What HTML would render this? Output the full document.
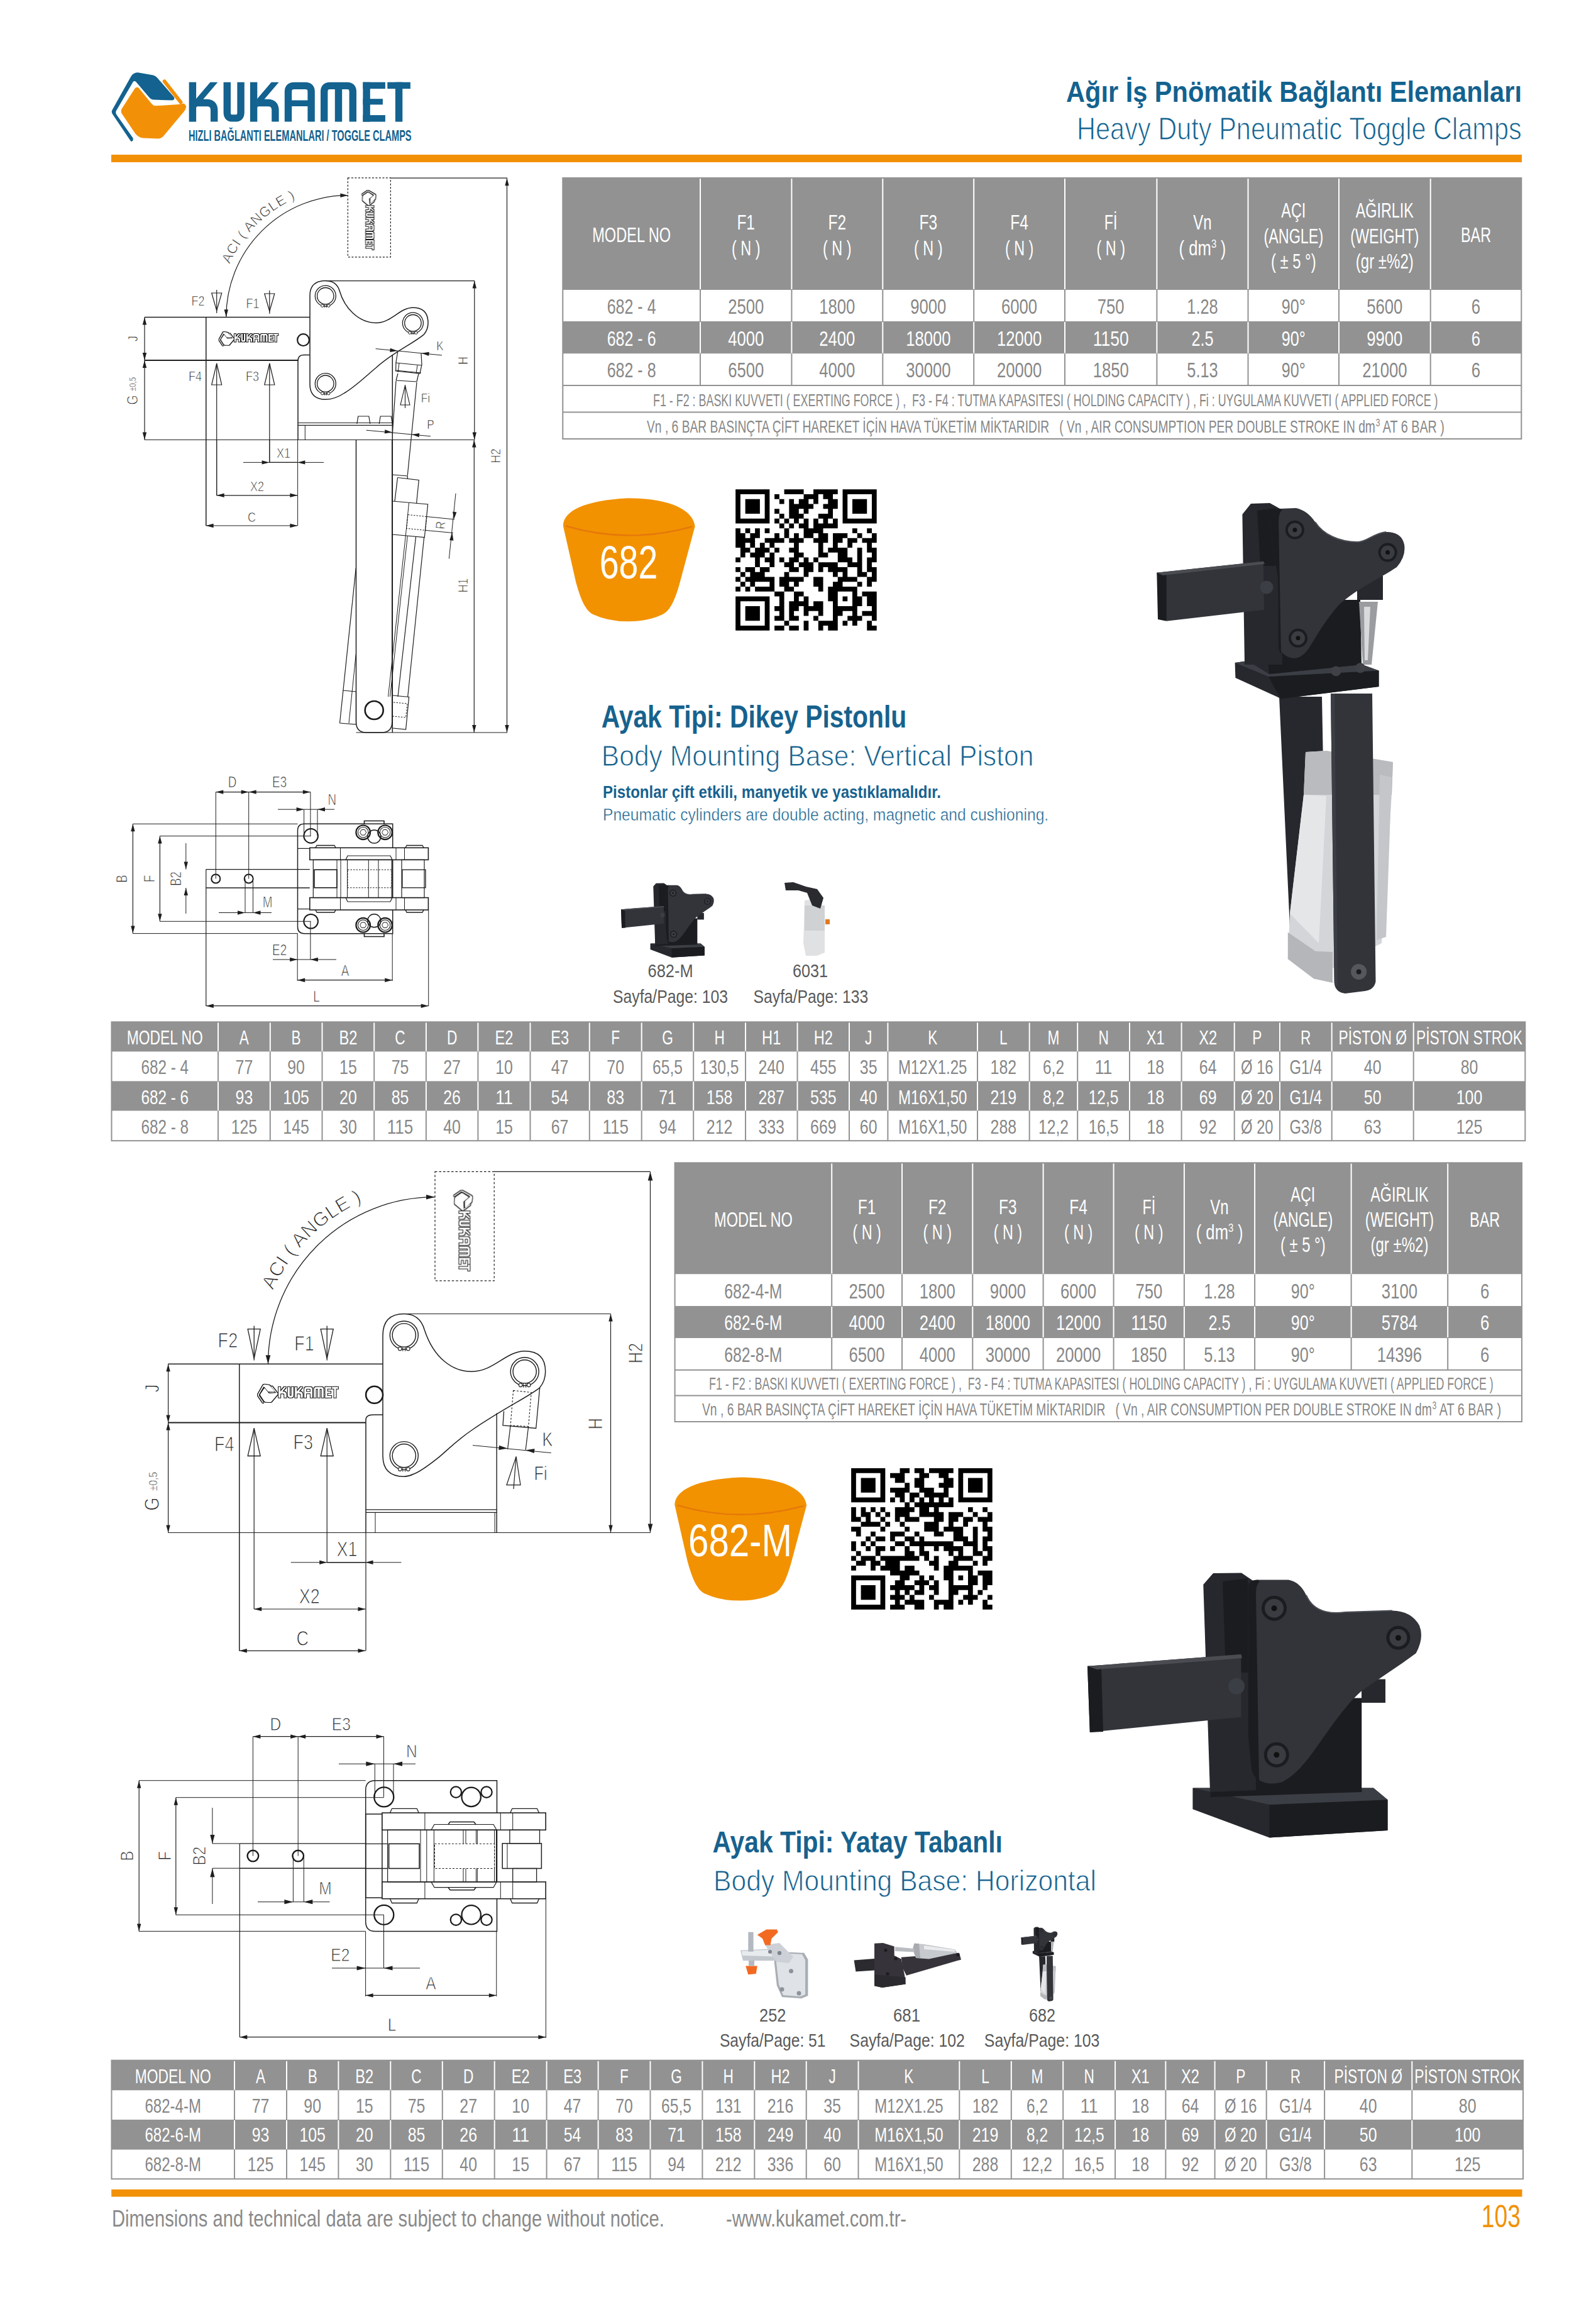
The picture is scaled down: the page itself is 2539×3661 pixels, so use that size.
<!DOCTYPE html>
<html><head><meta charset="utf-8"><title>KUKAMET 682</title>
<style>
html,body{margin:0;padding:0;background:#fff;}
body{width:2539px;height:3661px;overflow:hidden;font-family:"Liberation Sans",sans-serif;}
svg{display:block;}
</style></head>
<body>
<svg width="2539" height="3661" viewBox="0 0 2539 3661">
<rect x="0" y="0" width="2539" height="3661" fill="#ffffff"/>
<rect x="895.3" y="283.0" width="1525.0" height="178.0" fill="#929292" />
<rect x="895.3" y="461.0" width="1525.0" height="50.0" fill="#ffffff" />
<rect x="895.3" y="511.0" width="1525.0" height="51.5" fill="#929292" />
<rect x="895.3" y="562.5" width="1525.0" height="50.5" fill="#ffffff" />
<rect x="895.3" y="613.0" width="1525.0" height="42.5" fill="#ffffff" />
<rect x="895.3" y="655.5" width="1525.0" height="42.5" fill="#ffffff" />
<line x1="1114.0" y1="284.0" x2="1114.0" y2="460.0" stroke="#ffffff" stroke-width="2" />
<line x1="1259.4" y1="284.0" x2="1259.4" y2="460.0" stroke="#ffffff" stroke-width="2" />
<line x1="1404.3" y1="284.0" x2="1404.3" y2="460.0" stroke="#ffffff" stroke-width="2" />
<line x1="1549.2" y1="284.0" x2="1549.2" y2="460.0" stroke="#ffffff" stroke-width="2" />
<line x1="1694.0" y1="284.0" x2="1694.0" y2="460.0" stroke="#ffffff" stroke-width="2" />
<line x1="1840.4" y1="284.0" x2="1840.4" y2="460.0" stroke="#ffffff" stroke-width="2" />
<line x1="1985.5" y1="284.0" x2="1985.5" y2="460.0" stroke="#ffffff" stroke-width="2" />
<line x1="2130.0" y1="284.0" x2="2130.0" y2="460.0" stroke="#ffffff" stroke-width="2" />
<line x1="2275.7" y1="284.0" x2="2275.7" y2="460.0" stroke="#ffffff" stroke-width="2" />
<line x1="1114.0" y1="461.0" x2="1114.0" y2="511.0" stroke="#929292" stroke-width="2" />
<line x1="1259.4" y1="461.0" x2="1259.4" y2="511.0" stroke="#929292" stroke-width="2" />
<line x1="1404.3" y1="461.0" x2="1404.3" y2="511.0" stroke="#929292" stroke-width="2" />
<line x1="1549.2" y1="461.0" x2="1549.2" y2="511.0" stroke="#929292" stroke-width="2" />
<line x1="1694.0" y1="461.0" x2="1694.0" y2="511.0" stroke="#929292" stroke-width="2" />
<line x1="1840.4" y1="461.0" x2="1840.4" y2="511.0" stroke="#929292" stroke-width="2" />
<line x1="1985.5" y1="461.0" x2="1985.5" y2="511.0" stroke="#929292" stroke-width="2" />
<line x1="2130.0" y1="461.0" x2="2130.0" y2="511.0" stroke="#929292" stroke-width="2" />
<line x1="2275.7" y1="461.0" x2="2275.7" y2="511.0" stroke="#929292" stroke-width="2" />
<line x1="1114.0" y1="512.0" x2="1114.0" y2="561.5" stroke="#ffffff" stroke-width="2" />
<line x1="1259.4" y1="512.0" x2="1259.4" y2="561.5" stroke="#ffffff" stroke-width="2" />
<line x1="1404.3" y1="512.0" x2="1404.3" y2="561.5" stroke="#ffffff" stroke-width="2" />
<line x1="1549.2" y1="512.0" x2="1549.2" y2="561.5" stroke="#ffffff" stroke-width="2" />
<line x1="1694.0" y1="512.0" x2="1694.0" y2="561.5" stroke="#ffffff" stroke-width="2" />
<line x1="1840.4" y1="512.0" x2="1840.4" y2="561.5" stroke="#ffffff" stroke-width="2" />
<line x1="1985.5" y1="512.0" x2="1985.5" y2="561.5" stroke="#ffffff" stroke-width="2" />
<line x1="2130.0" y1="512.0" x2="2130.0" y2="561.5" stroke="#ffffff" stroke-width="2" />
<line x1="2275.7" y1="512.0" x2="2275.7" y2="561.5" stroke="#ffffff" stroke-width="2" />
<line x1="1114.0" y1="562.5" x2="1114.0" y2="613.0" stroke="#929292" stroke-width="2" />
<line x1="1259.4" y1="562.5" x2="1259.4" y2="613.0" stroke="#929292" stroke-width="2" />
<line x1="1404.3" y1="562.5" x2="1404.3" y2="613.0" stroke="#929292" stroke-width="2" />
<line x1="1549.2" y1="562.5" x2="1549.2" y2="613.0" stroke="#929292" stroke-width="2" />
<line x1="1694.0" y1="562.5" x2="1694.0" y2="613.0" stroke="#929292" stroke-width="2" />
<line x1="1840.4" y1="562.5" x2="1840.4" y2="613.0" stroke="#929292" stroke-width="2" />
<line x1="1985.5" y1="562.5" x2="1985.5" y2="613.0" stroke="#929292" stroke-width="2" />
<line x1="2130.0" y1="562.5" x2="2130.0" y2="613.0" stroke="#929292" stroke-width="2" />
<line x1="2275.7" y1="562.5" x2="2275.7" y2="613.0" stroke="#929292" stroke-width="2" />
<line x1="895.3" y1="613.0" x2="2420.3" y2="613.0" stroke="#929292" stroke-width="2" />
<line x1="895.3" y1="655.5" x2="2420.3" y2="655.5" stroke="#929292" stroke-width="2" />
<rect x="895.3" y="283.0" width="1525.0" height="415.0" fill="none" stroke="#929292" stroke-width="2"/>
<text style="white-space:pre" transform="translate(1004.6,385.0) scale(0.7250,1)" font-family="Liberation Sans" font-size="32.5" font-weight="normal" fill="#ffffff" text-anchor="middle" >MODEL NO</text>
<text style="white-space:pre" transform="translate(1186.7,365.2) scale(0.7534,1)" font-family="Liberation Sans" font-size="32.5" font-weight="normal" fill="#ffffff" text-anchor="middle" >F1</text>
<text style="white-space:pre" transform="translate(1186.7,405.7) scale(0.7200,1)" font-family="Liberation Sans" font-size="32.5" font-weight="normal" fill="#ffffff" text-anchor="middle" >( N )</text>
<text style="white-space:pre" transform="translate(1331.8,365.2) scale(0.7534,1)" font-family="Liberation Sans" font-size="32.5" font-weight="normal" fill="#ffffff" text-anchor="middle" >F2</text>
<text style="white-space:pre" transform="translate(1331.8,405.7) scale(0.7200,1)" font-family="Liberation Sans" font-size="32.5" font-weight="normal" fill="#ffffff" text-anchor="middle" >( N )</text>
<text style="white-space:pre" transform="translate(1476.8,365.2) scale(0.7534,1)" font-family="Liberation Sans" font-size="32.5" font-weight="normal" fill="#ffffff" text-anchor="middle" >F3</text>
<text style="white-space:pre" transform="translate(1476.8,405.7) scale(0.7200,1)" font-family="Liberation Sans" font-size="32.5" font-weight="normal" fill="#ffffff" text-anchor="middle" >( N )</text>
<text style="white-space:pre" transform="translate(1621.6,365.2) scale(0.7534,1)" font-family="Liberation Sans" font-size="32.5" font-weight="normal" fill="#ffffff" text-anchor="middle" >F4</text>
<text style="white-space:pre" transform="translate(1621.6,405.7) scale(0.7200,1)" font-family="Liberation Sans" font-size="32.5" font-weight="normal" fill="#ffffff" text-anchor="middle" >( N )</text>
<text style="white-space:pre" transform="translate(1767.2,365.2) scale(0.7200,1)" font-family="Liberation Sans" font-size="32.5" font-weight="normal" fill="#ffffff" text-anchor="middle" >Fİ</text>
<text style="white-space:pre" transform="translate(1767.2,405.7) scale(0.7200,1)" font-family="Liberation Sans" font-size="32.5" font-weight="normal" fill="#ffffff" text-anchor="middle" >( N )</text>
<text style="white-space:pre" transform="translate(1913.0,365.2) scale(0.7382,1)" font-family="Liberation Sans" font-size="32.5" font-weight="normal" fill="#ffffff" text-anchor="middle" >Vn</text>
<text style="white-space:pre" transform="translate(1875.6,405.7) scale(0.7895,1)" font-family="Liberation Sans" font-size="32.5" font-weight="normal" fill="#ffffff" text-anchor="start" >( dm</text>
<text style="white-space:pre" transform="translate(1926.9,393.7) scale(0.8341,1)" font-family="Liberation Sans" font-size="17.875" font-weight="normal" fill="#ffffff" text-anchor="start" >3</text>
<text style="white-space:pre" transform="translate(1935.2,405.7) scale(0.7602,1)" font-family="Liberation Sans" font-size="32.5" font-weight="normal" fill="#ffffff" text-anchor="start" > )</text>
<text style="white-space:pre" transform="translate(2057.8,346.2) scale(0.7200,1)" font-family="Liberation Sans" font-size="32.5" font-weight="normal" fill="#ffffff" text-anchor="middle" >AÇI</text>
<text style="white-space:pre" transform="translate(2057.8,386.7) scale(0.7200,1)" font-family="Liberation Sans" font-size="32.5" font-weight="normal" fill="#ffffff" text-anchor="middle" >(ANGLE)</text>
<text style="white-space:pre" transform="translate(2057.8,427.2) scale(0.7330,1)" font-family="Liberation Sans" font-size="32.5" font-weight="normal" fill="#ffffff" text-anchor="middle" >( ± 5 °)</text>
<text style="white-space:pre" transform="translate(2202.8,346.2) scale(0.7200,1)" font-family="Liberation Sans" font-size="32.5" font-weight="normal" fill="#ffffff" text-anchor="middle" >AĞIRLIK</text>
<text style="white-space:pre" transform="translate(2202.8,386.7) scale(0.7200,1)" font-family="Liberation Sans" font-size="32.5" font-weight="normal" fill="#ffffff" text-anchor="middle" >(WEIGHT)</text>
<text style="white-space:pre" transform="translate(2202.8,427.2) scale(0.7395,1)" font-family="Liberation Sans" font-size="32.5" font-weight="normal" fill="#ffffff" text-anchor="middle" >(gr ±%2)</text>
<text style="white-space:pre" transform="translate(2348.0,385.0) scale(0.7200,1)" font-family="Liberation Sans" font-size="32.5" font-weight="normal" fill="#ffffff" text-anchor="middle" >BAR</text>
<text style="white-space:pre" transform="translate(1004.6,499.2) scale(0.7700,1)" font-family="Liberation Sans" font-size="32.5" font-weight="normal" fill="#878787" text-anchor="middle" >682 - 4</text>
<text style="white-space:pre" transform="translate(1186.7,499.2) scale(0.7900,1)" font-family="Liberation Sans" font-size="32.5" font-weight="normal" fill="#878787" text-anchor="middle" >2500</text>
<text style="white-space:pre" transform="translate(1331.8,499.2) scale(0.7900,1)" font-family="Liberation Sans" font-size="32.5" font-weight="normal" fill="#878787" text-anchor="middle" >1800</text>
<text style="white-space:pre" transform="translate(1476.8,499.2) scale(0.7900,1)" font-family="Liberation Sans" font-size="32.5" font-weight="normal" fill="#878787" text-anchor="middle" >9000</text>
<text style="white-space:pre" transform="translate(1621.6,499.2) scale(0.7900,1)" font-family="Liberation Sans" font-size="32.5" font-weight="normal" fill="#878787" text-anchor="middle" >6000</text>
<text style="white-space:pre" transform="translate(1767.2,499.2) scale(0.7900,1)" font-family="Liberation Sans" font-size="32.5" font-weight="normal" fill="#878787" text-anchor="middle" >750</text>
<text style="white-space:pre" transform="translate(1913.0,499.2) scale(0.7800,1)" font-family="Liberation Sans" font-size="32.5" font-weight="normal" fill="#878787" text-anchor="middle" >1.28</text>
<text style="white-space:pre" transform="translate(2057.8,499.2) scale(0.7715,1)" font-family="Liberation Sans" font-size="32.5" font-weight="normal" fill="#878787" text-anchor="middle" >90°</text>
<text style="white-space:pre" transform="translate(2202.8,499.2) scale(0.7900,1)" font-family="Liberation Sans" font-size="32.5" font-weight="normal" fill="#878787" text-anchor="middle" >5600</text>
<text style="white-space:pre" transform="translate(2348.0,499.2) scale(0.7900,1)" font-family="Liberation Sans" font-size="32.5" font-weight="normal" fill="#878787" text-anchor="middle" >6</text>
<text style="white-space:pre" transform="translate(1004.6,549.6) scale(0.7700,1)" font-family="Liberation Sans" font-size="32.5" font-weight="normal" fill="#ffffff" text-anchor="middle" >682 - 6</text>
<text style="white-space:pre" transform="translate(1186.7,549.6) scale(0.7900,1)" font-family="Liberation Sans" font-size="32.5" font-weight="normal" fill="#ffffff" text-anchor="middle" >4000</text>
<text style="white-space:pre" transform="translate(1331.8,549.6) scale(0.7900,1)" font-family="Liberation Sans" font-size="32.5" font-weight="normal" fill="#ffffff" text-anchor="middle" >2400</text>
<text style="white-space:pre" transform="translate(1476.8,549.6) scale(0.7900,1)" font-family="Liberation Sans" font-size="32.5" font-weight="normal" fill="#ffffff" text-anchor="middle" >18000</text>
<text style="white-space:pre" transform="translate(1621.6,549.6) scale(0.7900,1)" font-family="Liberation Sans" font-size="32.5" font-weight="normal" fill="#ffffff" text-anchor="middle" >12000</text>
<text style="white-space:pre" transform="translate(1767.2,549.6) scale(0.8173,1)" font-family="Liberation Sans" font-size="32.5" font-weight="normal" fill="#ffffff" text-anchor="middle" >1150</text>
<text style="white-space:pre" transform="translate(1913.0,549.6) scale(0.7760,1)" font-family="Liberation Sans" font-size="32.5" font-weight="normal" fill="#ffffff" text-anchor="middle" >2.5</text>
<text style="white-space:pre" transform="translate(2057.8,549.6) scale(0.7715,1)" font-family="Liberation Sans" font-size="32.5" font-weight="normal" fill="#ffffff" text-anchor="middle" >90°</text>
<text style="white-space:pre" transform="translate(2202.8,549.6) scale(0.7900,1)" font-family="Liberation Sans" font-size="32.5" font-weight="normal" fill="#ffffff" text-anchor="middle" >9900</text>
<text style="white-space:pre" transform="translate(2348.0,549.6) scale(0.7900,1)" font-family="Liberation Sans" font-size="32.5" font-weight="normal" fill="#ffffff" text-anchor="middle" >6</text>
<text style="white-space:pre" transform="translate(1004.6,600.4) scale(0.7700,1)" font-family="Liberation Sans" font-size="32.5" font-weight="normal" fill="#878787" text-anchor="middle" >682 - 8</text>
<text style="white-space:pre" transform="translate(1186.7,600.4) scale(0.7900,1)" font-family="Liberation Sans" font-size="32.5" font-weight="normal" fill="#878787" text-anchor="middle" >6500</text>
<text style="white-space:pre" transform="translate(1331.8,600.4) scale(0.7900,1)" font-family="Liberation Sans" font-size="32.5" font-weight="normal" fill="#878787" text-anchor="middle" >4000</text>
<text style="white-space:pre" transform="translate(1476.8,600.4) scale(0.7900,1)" font-family="Liberation Sans" font-size="32.5" font-weight="normal" fill="#878787" text-anchor="middle" >30000</text>
<text style="white-space:pre" transform="translate(1621.6,600.4) scale(0.7900,1)" font-family="Liberation Sans" font-size="32.5" font-weight="normal" fill="#878787" text-anchor="middle" >20000</text>
<text style="white-space:pre" transform="translate(1767.2,600.4) scale(0.7900,1)" font-family="Liberation Sans" font-size="32.5" font-weight="normal" fill="#878787" text-anchor="middle" >1850</text>
<text style="white-space:pre" transform="translate(1913.0,600.4) scale(0.7800,1)" font-family="Liberation Sans" font-size="32.5" font-weight="normal" fill="#878787" text-anchor="middle" >5.13</text>
<text style="white-space:pre" transform="translate(2057.8,600.4) scale(0.7715,1)" font-family="Liberation Sans" font-size="32.5" font-weight="normal" fill="#878787" text-anchor="middle" >90°</text>
<text style="white-space:pre" transform="translate(2202.8,600.4) scale(0.7900,1)" font-family="Liberation Sans" font-size="32.5" font-weight="normal" fill="#878787" text-anchor="middle" >21000</text>
<text style="white-space:pre" transform="translate(2348.0,600.4) scale(0.7900,1)" font-family="Liberation Sans" font-size="32.5" font-weight="normal" fill="#878787" text-anchor="middle" >6</text>
<text style="white-space:pre" transform="translate(1039.0,645.5) scale(0.6482,1)" font-family="Liberation Sans" font-size="27.6" font-weight="normal" fill="#878787" text-anchor="start" >F1 - F2 : BASKI KUVVETI ( EXERTING FORCE ) ,  F3 - F4 : TUTMA KAPASITESI ( HOLDING CAPACITY ) , Fi : UYGULAMA KUVVETI ( APPLIED FORCE )</text>
<text style="white-space:pre" transform="translate(1029.0,688.0) scale(0.6978,1)" font-family="Liberation Sans" font-size="27.6" font-weight="normal" fill="#878787" text-anchor="start" >Vn , 6 BAR BASINÇTA ÇİFT HAREKET İÇİN HAVA TÜKETİM MİKTARIDIR   ( Vn , AIR CONSUMPTION PER DOUBLE STROKE IN dm</text>
<text style="white-space:pre" transform="translate(2188.7,678.0) scale(0.7567,1)" font-family="Liberation Sans" font-size="16" font-weight="normal" fill="#878787" text-anchor="start" >3</text>
<text style="white-space:pre" transform="translate(2195.4,688.0) scale(0.7165,1)" font-family="Liberation Sans" font-size="27.6" font-weight="normal" fill="#878787" text-anchor="start" > AT 6 BAR )</text>
<rect x="1073.6" y="1849.3" width="1347.4" height="177.2" fill="#929292" />
<rect x="1073.6" y="2026.5" width="1347.4" height="50.5" fill="#ffffff" />
<rect x="1073.6" y="2077.0" width="1347.4" height="51.0" fill="#929292" />
<rect x="1073.6" y="2128.0" width="1347.4" height="50.7" fill="#ffffff" />
<rect x="1073.6" y="2178.7" width="1347.4" height="40.8" fill="#ffffff" />
<rect x="1073.6" y="2219.5" width="1347.4" height="41.5" fill="#ffffff" />
<line x1="1323.2" y1="1850.3" x2="1323.2" y2="2025.5" stroke="#ffffff" stroke-width="2" />
<line x1="1435.0" y1="1850.3" x2="1435.0" y2="2025.5" stroke="#ffffff" stroke-width="2" />
<line x1="1547.3" y1="1850.3" x2="1547.3" y2="2025.5" stroke="#ffffff" stroke-width="2" />
<line x1="1659.6" y1="1850.3" x2="1659.6" y2="2025.5" stroke="#ffffff" stroke-width="2" />
<line x1="1771.6" y1="1850.3" x2="1771.6" y2="2025.5" stroke="#ffffff" stroke-width="2" />
<line x1="1883.9" y1="1850.3" x2="1883.9" y2="2025.5" stroke="#ffffff" stroke-width="2" />
<line x1="1996.1" y1="1850.3" x2="1996.1" y2="2025.5" stroke="#ffffff" stroke-width="2" />
<line x1="2149.6" y1="1850.3" x2="2149.6" y2="2025.5" stroke="#ffffff" stroke-width="2" />
<line x1="2303.2" y1="1850.3" x2="2303.2" y2="2025.5" stroke="#ffffff" stroke-width="2" />
<line x1="1323.2" y1="2026.5" x2="1323.2" y2="2077.0" stroke="#929292" stroke-width="2" />
<line x1="1435.0" y1="2026.5" x2="1435.0" y2="2077.0" stroke="#929292" stroke-width="2" />
<line x1="1547.3" y1="2026.5" x2="1547.3" y2="2077.0" stroke="#929292" stroke-width="2" />
<line x1="1659.6" y1="2026.5" x2="1659.6" y2="2077.0" stroke="#929292" stroke-width="2" />
<line x1="1771.6" y1="2026.5" x2="1771.6" y2="2077.0" stroke="#929292" stroke-width="2" />
<line x1="1883.9" y1="2026.5" x2="1883.9" y2="2077.0" stroke="#929292" stroke-width="2" />
<line x1="1996.1" y1="2026.5" x2="1996.1" y2="2077.0" stroke="#929292" stroke-width="2" />
<line x1="2149.6" y1="2026.5" x2="2149.6" y2="2077.0" stroke="#929292" stroke-width="2" />
<line x1="2303.2" y1="2026.5" x2="2303.2" y2="2077.0" stroke="#929292" stroke-width="2" />
<line x1="1323.2" y1="2078.0" x2="1323.2" y2="2127.0" stroke="#ffffff" stroke-width="2" />
<line x1="1435.0" y1="2078.0" x2="1435.0" y2="2127.0" stroke="#ffffff" stroke-width="2" />
<line x1="1547.3" y1="2078.0" x2="1547.3" y2="2127.0" stroke="#ffffff" stroke-width="2" />
<line x1="1659.6" y1="2078.0" x2="1659.6" y2="2127.0" stroke="#ffffff" stroke-width="2" />
<line x1="1771.6" y1="2078.0" x2="1771.6" y2="2127.0" stroke="#ffffff" stroke-width="2" />
<line x1="1883.9" y1="2078.0" x2="1883.9" y2="2127.0" stroke="#ffffff" stroke-width="2" />
<line x1="1996.1" y1="2078.0" x2="1996.1" y2="2127.0" stroke="#ffffff" stroke-width="2" />
<line x1="2149.6" y1="2078.0" x2="2149.6" y2="2127.0" stroke="#ffffff" stroke-width="2" />
<line x1="2303.2" y1="2078.0" x2="2303.2" y2="2127.0" stroke="#ffffff" stroke-width="2" />
<line x1="1323.2" y1="2128.0" x2="1323.2" y2="2178.7" stroke="#929292" stroke-width="2" />
<line x1="1435.0" y1="2128.0" x2="1435.0" y2="2178.7" stroke="#929292" stroke-width="2" />
<line x1="1547.3" y1="2128.0" x2="1547.3" y2="2178.7" stroke="#929292" stroke-width="2" />
<line x1="1659.6" y1="2128.0" x2="1659.6" y2="2178.7" stroke="#929292" stroke-width="2" />
<line x1="1771.6" y1="2128.0" x2="1771.6" y2="2178.7" stroke="#929292" stroke-width="2" />
<line x1="1883.9" y1="2128.0" x2="1883.9" y2="2178.7" stroke="#929292" stroke-width="2" />
<line x1="1996.1" y1="2128.0" x2="1996.1" y2="2178.7" stroke="#929292" stroke-width="2" />
<line x1="2149.6" y1="2128.0" x2="2149.6" y2="2178.7" stroke="#929292" stroke-width="2" />
<line x1="2303.2" y1="2128.0" x2="2303.2" y2="2178.7" stroke="#929292" stroke-width="2" />
<line x1="1073.6" y1="2178.7" x2="2421.0" y2="2178.7" stroke="#929292" stroke-width="2" />
<line x1="1073.6" y1="2219.5" x2="2421.0" y2="2219.5" stroke="#929292" stroke-width="2" />
<rect x="1073.6" y="1849.3" width="1347.4" height="411.7" fill="none" stroke="#929292" stroke-width="2"/>
<text style="white-space:pre" transform="translate(1198.4,1950.6) scale(0.7250,1)" font-family="Liberation Sans" font-size="32.5" font-weight="normal" fill="#ffffff" text-anchor="middle" >MODEL NO</text>
<text style="white-space:pre" transform="translate(1379.1,1931.0) scale(0.7534,1)" font-family="Liberation Sans" font-size="32.5" font-weight="normal" fill="#ffffff" text-anchor="middle" >F1</text>
<text style="white-space:pre" transform="translate(1379.1,1971.0) scale(0.7200,1)" font-family="Liberation Sans" font-size="32.5" font-weight="normal" fill="#ffffff" text-anchor="middle" >( N )</text>
<text style="white-space:pre" transform="translate(1491.2,1931.0) scale(0.7534,1)" font-family="Liberation Sans" font-size="32.5" font-weight="normal" fill="#ffffff" text-anchor="middle" >F2</text>
<text style="white-space:pre" transform="translate(1491.2,1971.0) scale(0.7200,1)" font-family="Liberation Sans" font-size="32.5" font-weight="normal" fill="#ffffff" text-anchor="middle" >( N )</text>
<text style="white-space:pre" transform="translate(1603.4,1931.0) scale(0.7534,1)" font-family="Liberation Sans" font-size="32.5" font-weight="normal" fill="#ffffff" text-anchor="middle" >F3</text>
<text style="white-space:pre" transform="translate(1603.4,1971.0) scale(0.7200,1)" font-family="Liberation Sans" font-size="32.5" font-weight="normal" fill="#ffffff" text-anchor="middle" >( N )</text>
<text style="white-space:pre" transform="translate(1715.6,1931.0) scale(0.7534,1)" font-family="Liberation Sans" font-size="32.5" font-weight="normal" fill="#ffffff" text-anchor="middle" >F4</text>
<text style="white-space:pre" transform="translate(1715.6,1971.0) scale(0.7200,1)" font-family="Liberation Sans" font-size="32.5" font-weight="normal" fill="#ffffff" text-anchor="middle" >( N )</text>
<text style="white-space:pre" transform="translate(1827.8,1931.0) scale(0.7200,1)" font-family="Liberation Sans" font-size="32.5" font-weight="normal" fill="#ffffff" text-anchor="middle" >Fİ</text>
<text style="white-space:pre" transform="translate(1827.8,1971.0) scale(0.7200,1)" font-family="Liberation Sans" font-size="32.5" font-weight="normal" fill="#ffffff" text-anchor="middle" >( N )</text>
<text style="white-space:pre" transform="translate(1940.0,1931.0) scale(0.7382,1)" font-family="Liberation Sans" font-size="32.5" font-weight="normal" fill="#ffffff" text-anchor="middle" >Vn</text>
<text style="white-space:pre" transform="translate(1902.7,1971.0) scale(0.7895,1)" font-family="Liberation Sans" font-size="32.5" font-weight="normal" fill="#ffffff" text-anchor="start" >( dm</text>
<text style="white-space:pre" transform="translate(1954.0,1959.0) scale(0.8341,1)" font-family="Liberation Sans" font-size="17.875" font-weight="normal" fill="#ffffff" text-anchor="start" >3</text>
<text style="white-space:pre" transform="translate(1962.3,1971.0) scale(0.7602,1)" font-family="Liberation Sans" font-size="32.5" font-weight="normal" fill="#ffffff" text-anchor="start" > )</text>
<text style="white-space:pre" transform="translate(2072.8,1911.0) scale(0.7200,1)" font-family="Liberation Sans" font-size="32.5" font-weight="normal" fill="#ffffff" text-anchor="middle" >AÇI</text>
<text style="white-space:pre" transform="translate(2072.8,1951.0) scale(0.7200,1)" font-family="Liberation Sans" font-size="32.5" font-weight="normal" fill="#ffffff" text-anchor="middle" >(ANGLE)</text>
<text style="white-space:pre" transform="translate(2072.8,1991.0) scale(0.7330,1)" font-family="Liberation Sans" font-size="32.5" font-weight="normal" fill="#ffffff" text-anchor="middle" >( ± 5 °)</text>
<text style="white-space:pre" transform="translate(2226.4,1911.0) scale(0.7200,1)" font-family="Liberation Sans" font-size="32.5" font-weight="normal" fill="#ffffff" text-anchor="middle" >AĞIRLIK</text>
<text style="white-space:pre" transform="translate(2226.4,1951.0) scale(0.7200,1)" font-family="Liberation Sans" font-size="32.5" font-weight="normal" fill="#ffffff" text-anchor="middle" >(WEIGHT)</text>
<text style="white-space:pre" transform="translate(2226.4,1991.0) scale(0.7395,1)" font-family="Liberation Sans" font-size="32.5" font-weight="normal" fill="#ffffff" text-anchor="middle" >(gr ±%2)</text>
<text style="white-space:pre" transform="translate(2362.1,1950.6) scale(0.7200,1)" font-family="Liberation Sans" font-size="32.5" font-weight="normal" fill="#ffffff" text-anchor="middle" >BAR</text>
<text style="white-space:pre" transform="translate(1198.4,2064.6) scale(0.7618,1)" font-family="Liberation Sans" font-size="32.5" font-weight="normal" fill="#878787" text-anchor="middle" >682-4-M</text>
<text style="white-space:pre" transform="translate(1379.1,2064.6) scale(0.7900,1)" font-family="Liberation Sans" font-size="32.5" font-weight="normal" fill="#878787" text-anchor="middle" >2500</text>
<text style="white-space:pre" transform="translate(1491.2,2064.6) scale(0.7900,1)" font-family="Liberation Sans" font-size="32.5" font-weight="normal" fill="#878787" text-anchor="middle" >1800</text>
<text style="white-space:pre" transform="translate(1603.4,2064.6) scale(0.7900,1)" font-family="Liberation Sans" font-size="32.5" font-weight="normal" fill="#878787" text-anchor="middle" >9000</text>
<text style="white-space:pre" transform="translate(1715.6,2064.6) scale(0.7900,1)" font-family="Liberation Sans" font-size="32.5" font-weight="normal" fill="#878787" text-anchor="middle" >6000</text>
<text style="white-space:pre" transform="translate(1827.8,2064.6) scale(0.7900,1)" font-family="Liberation Sans" font-size="32.5" font-weight="normal" fill="#878787" text-anchor="middle" >750</text>
<text style="white-space:pre" transform="translate(1940.0,2064.6) scale(0.7800,1)" font-family="Liberation Sans" font-size="32.5" font-weight="normal" fill="#878787" text-anchor="middle" >1.28</text>
<text style="white-space:pre" transform="translate(2072.8,2064.6) scale(0.7715,1)" font-family="Liberation Sans" font-size="32.5" font-weight="normal" fill="#878787" text-anchor="middle" >90°</text>
<text style="white-space:pre" transform="translate(2226.4,2064.6) scale(0.7900,1)" font-family="Liberation Sans" font-size="32.5" font-weight="normal" fill="#878787" text-anchor="middle" >3100</text>
<text style="white-space:pre" transform="translate(2362.1,2064.6) scale(0.7900,1)" font-family="Liberation Sans" font-size="32.5" font-weight="normal" fill="#878787" text-anchor="middle" >6</text>
<text style="white-space:pre" transform="translate(1198.4,2115.0) scale(0.7618,1)" font-family="Liberation Sans" font-size="32.5" font-weight="normal" fill="#ffffff" text-anchor="middle" >682-6-M</text>
<text style="white-space:pre" transform="translate(1379.1,2115.0) scale(0.7900,1)" font-family="Liberation Sans" font-size="32.5" font-weight="normal" fill="#ffffff" text-anchor="middle" >4000</text>
<text style="white-space:pre" transform="translate(1491.2,2115.0) scale(0.7900,1)" font-family="Liberation Sans" font-size="32.5" font-weight="normal" fill="#ffffff" text-anchor="middle" >2400</text>
<text style="white-space:pre" transform="translate(1603.4,2115.0) scale(0.7900,1)" font-family="Liberation Sans" font-size="32.5" font-weight="normal" fill="#ffffff" text-anchor="middle" >18000</text>
<text style="white-space:pre" transform="translate(1715.6,2115.0) scale(0.7900,1)" font-family="Liberation Sans" font-size="32.5" font-weight="normal" fill="#ffffff" text-anchor="middle" >12000</text>
<text style="white-space:pre" transform="translate(1827.8,2115.0) scale(0.8173,1)" font-family="Liberation Sans" font-size="32.5" font-weight="normal" fill="#ffffff" text-anchor="middle" >1150</text>
<text style="white-space:pre" transform="translate(1940.0,2115.0) scale(0.7760,1)" font-family="Liberation Sans" font-size="32.5" font-weight="normal" fill="#ffffff" text-anchor="middle" >2.5</text>
<text style="white-space:pre" transform="translate(2072.8,2115.0) scale(0.7715,1)" font-family="Liberation Sans" font-size="32.5" font-weight="normal" fill="#ffffff" text-anchor="middle" >90°</text>
<text style="white-space:pre" transform="translate(2226.4,2115.0) scale(0.7900,1)" font-family="Liberation Sans" font-size="32.5" font-weight="normal" fill="#ffffff" text-anchor="middle" >5784</text>
<text style="white-space:pre" transform="translate(2362.1,2115.0) scale(0.7900,1)" font-family="Liberation Sans" font-size="32.5" font-weight="normal" fill="#ffffff" text-anchor="middle" >6</text>
<text style="white-space:pre" transform="translate(1198.4,2165.5) scale(0.7618,1)" font-family="Liberation Sans" font-size="32.5" font-weight="normal" fill="#878787" text-anchor="middle" >682-8-M</text>
<text style="white-space:pre" transform="translate(1379.1,2165.5) scale(0.7900,1)" font-family="Liberation Sans" font-size="32.5" font-weight="normal" fill="#878787" text-anchor="middle" >6500</text>
<text style="white-space:pre" transform="translate(1491.2,2165.5) scale(0.7900,1)" font-family="Liberation Sans" font-size="32.5" font-weight="normal" fill="#878787" text-anchor="middle" >4000</text>
<text style="white-space:pre" transform="translate(1603.4,2165.5) scale(0.7900,1)" font-family="Liberation Sans" font-size="32.5" font-weight="normal" fill="#878787" text-anchor="middle" >30000</text>
<text style="white-space:pre" transform="translate(1715.6,2165.5) scale(0.7900,1)" font-family="Liberation Sans" font-size="32.5" font-weight="normal" fill="#878787" text-anchor="middle" >20000</text>
<text style="white-space:pre" transform="translate(1827.8,2165.5) scale(0.7900,1)" font-family="Liberation Sans" font-size="32.5" font-weight="normal" fill="#878787" text-anchor="middle" >1850</text>
<text style="white-space:pre" transform="translate(1940.0,2165.5) scale(0.7800,1)" font-family="Liberation Sans" font-size="32.5" font-weight="normal" fill="#878787" text-anchor="middle" >5.13</text>
<text style="white-space:pre" transform="translate(2072.8,2165.5) scale(0.7715,1)" font-family="Liberation Sans" font-size="32.5" font-weight="normal" fill="#878787" text-anchor="middle" >90°</text>
<text style="white-space:pre" transform="translate(2226.4,2165.5) scale(0.7900,1)" font-family="Liberation Sans" font-size="32.5" font-weight="normal" fill="#878787" text-anchor="middle" >14396</text>
<text style="white-space:pre" transform="translate(2362.1,2165.5) scale(0.7900,1)" font-family="Liberation Sans" font-size="32.5" font-weight="normal" fill="#878787" text-anchor="middle" >6</text>
<text style="white-space:pre" transform="translate(1128.0,2209.8) scale(0.6477,1)" font-family="Liberation Sans" font-size="27.6" font-weight="normal" fill="#878787" text-anchor="start" >F1 - F2 : BASKI KUVVETI ( EXERTING FORCE ) ,  F3 - F4 : TUTMA KAPASITESI ( HOLDING CAPACITY ) , Fi : UYGULAMA KUVVETI ( APPLIED FORCE )</text>
<text style="white-space:pre" transform="translate(1117.0,2251.0) scale(0.6989,1)" font-family="Liberation Sans" font-size="27.6" font-weight="normal" fill="#878787" text-anchor="start" >Vn , 6 BAR BASINÇTA ÇİFT HAREKET İÇİN HAVA TÜKETİM MİKTARIDIR   ( Vn , AIR CONSUMPTION PER DOUBLE STROKE IN dm</text>
<text style="white-space:pre" transform="translate(2278.5,2241.0) scale(0.7579,1)" font-family="Liberation Sans" font-size="16" font-weight="normal" fill="#878787" text-anchor="start" >3</text>
<text style="white-space:pre" transform="translate(2285.3,2251.0) scale(0.7176,1)" font-family="Liberation Sans" font-size="27.6" font-weight="normal" fill="#878787" text-anchor="start" > AT 6 BAR )</text>
<rect x="177.5" y="1625.3" width="2248.8" height="47.3" fill="#929292" />
<rect x="177.5" y="1672.6" width="2248.8" height="46.8" fill="#ffffff" />
<rect x="177.5" y="1719.4" width="2248.8" height="47.3" fill="#929292" />
<rect x="177.5" y="1766.7" width="2248.8" height="47.5" fill="#ffffff" />
<line x1="347.0" y1="1626.3" x2="347.0" y2="1671.6" stroke="#ffffff" stroke-width="2" />
<line x1="429.8" y1="1626.3" x2="429.8" y2="1671.6" stroke="#ffffff" stroke-width="2" />
<line x1="512.5" y1="1626.3" x2="512.5" y2="1671.6" stroke="#ffffff" stroke-width="2" />
<line x1="595.2" y1="1626.3" x2="595.2" y2="1671.6" stroke="#ffffff" stroke-width="2" />
<line x1="677.9" y1="1626.3" x2="677.9" y2="1671.6" stroke="#ffffff" stroke-width="2" />
<line x1="760.4" y1="1626.3" x2="760.4" y2="1671.6" stroke="#ffffff" stroke-width="2" />
<line x1="843.5" y1="1626.3" x2="843.5" y2="1671.6" stroke="#ffffff" stroke-width="2" />
<line x1="937.8" y1="1626.3" x2="937.8" y2="1671.6" stroke="#ffffff" stroke-width="2" />
<line x1="1020.7" y1="1626.3" x2="1020.7" y2="1671.6" stroke="#ffffff" stroke-width="2" />
<line x1="1103.2" y1="1626.3" x2="1103.2" y2="1671.6" stroke="#ffffff" stroke-width="2" />
<line x1="1186.0" y1="1626.3" x2="1186.0" y2="1671.6" stroke="#ffffff" stroke-width="2" />
<line x1="1268.5" y1="1626.3" x2="1268.5" y2="1671.6" stroke="#ffffff" stroke-width="2" />
<line x1="1351.0" y1="1626.3" x2="1351.0" y2="1671.6" stroke="#ffffff" stroke-width="2" />
<line x1="1412.4" y1="1626.3" x2="1412.4" y2="1671.6" stroke="#ffffff" stroke-width="2" />
<line x1="1555.0" y1="1626.3" x2="1555.0" y2="1671.6" stroke="#ffffff" stroke-width="2" />
<line x1="1637.7" y1="1626.3" x2="1637.7" y2="1671.6" stroke="#ffffff" stroke-width="2" />
<line x1="1714.2" y1="1626.3" x2="1714.2" y2="1671.6" stroke="#ffffff" stroke-width="2" />
<line x1="1797.0" y1="1626.3" x2="1797.0" y2="1671.6" stroke="#ffffff" stroke-width="2" />
<line x1="1879.6" y1="1626.3" x2="1879.6" y2="1671.6" stroke="#ffffff" stroke-width="2" />
<line x1="1963.7" y1="1626.3" x2="1963.7" y2="1671.6" stroke="#ffffff" stroke-width="2" />
<line x1="2036.0" y1="1626.3" x2="2036.0" y2="1671.6" stroke="#ffffff" stroke-width="2" />
<line x1="2118.7" y1="1626.3" x2="2118.7" y2="1671.6" stroke="#ffffff" stroke-width="2" />
<line x1="2248.7" y1="1626.3" x2="2248.7" y2="1671.6" stroke="#ffffff" stroke-width="2" />
<line x1="347.0" y1="1672.6" x2="347.0" y2="1719.4" stroke="#929292" stroke-width="2" />
<line x1="429.8" y1="1672.6" x2="429.8" y2="1719.4" stroke="#929292" stroke-width="2" />
<line x1="512.5" y1="1672.6" x2="512.5" y2="1719.4" stroke="#929292" stroke-width="2" />
<line x1="595.2" y1="1672.6" x2="595.2" y2="1719.4" stroke="#929292" stroke-width="2" />
<line x1="677.9" y1="1672.6" x2="677.9" y2="1719.4" stroke="#929292" stroke-width="2" />
<line x1="760.4" y1="1672.6" x2="760.4" y2="1719.4" stroke="#929292" stroke-width="2" />
<line x1="843.5" y1="1672.6" x2="843.5" y2="1719.4" stroke="#929292" stroke-width="2" />
<line x1="937.8" y1="1672.6" x2="937.8" y2="1719.4" stroke="#929292" stroke-width="2" />
<line x1="1020.7" y1="1672.6" x2="1020.7" y2="1719.4" stroke="#929292" stroke-width="2" />
<line x1="1103.2" y1="1672.6" x2="1103.2" y2="1719.4" stroke="#929292" stroke-width="2" />
<line x1="1186.0" y1="1672.6" x2="1186.0" y2="1719.4" stroke="#929292" stroke-width="2" />
<line x1="1268.5" y1="1672.6" x2="1268.5" y2="1719.4" stroke="#929292" stroke-width="2" />
<line x1="1351.0" y1="1672.6" x2="1351.0" y2="1719.4" stroke="#929292" stroke-width="2" />
<line x1="1412.4" y1="1672.6" x2="1412.4" y2="1719.4" stroke="#929292" stroke-width="2" />
<line x1="1555.0" y1="1672.6" x2="1555.0" y2="1719.4" stroke="#929292" stroke-width="2" />
<line x1="1637.7" y1="1672.6" x2="1637.7" y2="1719.4" stroke="#929292" stroke-width="2" />
<line x1="1714.2" y1="1672.6" x2="1714.2" y2="1719.4" stroke="#929292" stroke-width="2" />
<line x1="1797.0" y1="1672.6" x2="1797.0" y2="1719.4" stroke="#929292" stroke-width="2" />
<line x1="1879.6" y1="1672.6" x2="1879.6" y2="1719.4" stroke="#929292" stroke-width="2" />
<line x1="1963.7" y1="1672.6" x2="1963.7" y2="1719.4" stroke="#929292" stroke-width="2" />
<line x1="2036.0" y1="1672.6" x2="2036.0" y2="1719.4" stroke="#929292" stroke-width="2" />
<line x1="2118.7" y1="1672.6" x2="2118.7" y2="1719.4" stroke="#929292" stroke-width="2" />
<line x1="2248.7" y1="1672.6" x2="2248.7" y2="1719.4" stroke="#929292" stroke-width="2" />
<line x1="347.0" y1="1720.4" x2="347.0" y2="1765.7" stroke="#ffffff" stroke-width="2" />
<line x1="429.8" y1="1720.4" x2="429.8" y2="1765.7" stroke="#ffffff" stroke-width="2" />
<line x1="512.5" y1="1720.4" x2="512.5" y2="1765.7" stroke="#ffffff" stroke-width="2" />
<line x1="595.2" y1="1720.4" x2="595.2" y2="1765.7" stroke="#ffffff" stroke-width="2" />
<line x1="677.9" y1="1720.4" x2="677.9" y2="1765.7" stroke="#ffffff" stroke-width="2" />
<line x1="760.4" y1="1720.4" x2="760.4" y2="1765.7" stroke="#ffffff" stroke-width="2" />
<line x1="843.5" y1="1720.4" x2="843.5" y2="1765.7" stroke="#ffffff" stroke-width="2" />
<line x1="937.8" y1="1720.4" x2="937.8" y2="1765.7" stroke="#ffffff" stroke-width="2" />
<line x1="1020.7" y1="1720.4" x2="1020.7" y2="1765.7" stroke="#ffffff" stroke-width="2" />
<line x1="1103.2" y1="1720.4" x2="1103.2" y2="1765.7" stroke="#ffffff" stroke-width="2" />
<line x1="1186.0" y1="1720.4" x2="1186.0" y2="1765.7" stroke="#ffffff" stroke-width="2" />
<line x1="1268.5" y1="1720.4" x2="1268.5" y2="1765.7" stroke="#ffffff" stroke-width="2" />
<line x1="1351.0" y1="1720.4" x2="1351.0" y2="1765.7" stroke="#ffffff" stroke-width="2" />
<line x1="1412.4" y1="1720.4" x2="1412.4" y2="1765.7" stroke="#ffffff" stroke-width="2" />
<line x1="1555.0" y1="1720.4" x2="1555.0" y2="1765.7" stroke="#ffffff" stroke-width="2" />
<line x1="1637.7" y1="1720.4" x2="1637.7" y2="1765.7" stroke="#ffffff" stroke-width="2" />
<line x1="1714.2" y1="1720.4" x2="1714.2" y2="1765.7" stroke="#ffffff" stroke-width="2" />
<line x1="1797.0" y1="1720.4" x2="1797.0" y2="1765.7" stroke="#ffffff" stroke-width="2" />
<line x1="1879.6" y1="1720.4" x2="1879.6" y2="1765.7" stroke="#ffffff" stroke-width="2" />
<line x1="1963.7" y1="1720.4" x2="1963.7" y2="1765.7" stroke="#ffffff" stroke-width="2" />
<line x1="2036.0" y1="1720.4" x2="2036.0" y2="1765.7" stroke="#ffffff" stroke-width="2" />
<line x1="2118.7" y1="1720.4" x2="2118.7" y2="1765.7" stroke="#ffffff" stroke-width="2" />
<line x1="2248.7" y1="1720.4" x2="2248.7" y2="1765.7" stroke="#ffffff" stroke-width="2" />
<line x1="347.0" y1="1766.7" x2="347.0" y2="1814.2" stroke="#929292" stroke-width="2" />
<line x1="429.8" y1="1766.7" x2="429.8" y2="1814.2" stroke="#929292" stroke-width="2" />
<line x1="512.5" y1="1766.7" x2="512.5" y2="1814.2" stroke="#929292" stroke-width="2" />
<line x1="595.2" y1="1766.7" x2="595.2" y2="1814.2" stroke="#929292" stroke-width="2" />
<line x1="677.9" y1="1766.7" x2="677.9" y2="1814.2" stroke="#929292" stroke-width="2" />
<line x1="760.4" y1="1766.7" x2="760.4" y2="1814.2" stroke="#929292" stroke-width="2" />
<line x1="843.5" y1="1766.7" x2="843.5" y2="1814.2" stroke="#929292" stroke-width="2" />
<line x1="937.8" y1="1766.7" x2="937.8" y2="1814.2" stroke="#929292" stroke-width="2" />
<line x1="1020.7" y1="1766.7" x2="1020.7" y2="1814.2" stroke="#929292" stroke-width="2" />
<line x1="1103.2" y1="1766.7" x2="1103.2" y2="1814.2" stroke="#929292" stroke-width="2" />
<line x1="1186.0" y1="1766.7" x2="1186.0" y2="1814.2" stroke="#929292" stroke-width="2" />
<line x1="1268.5" y1="1766.7" x2="1268.5" y2="1814.2" stroke="#929292" stroke-width="2" />
<line x1="1351.0" y1="1766.7" x2="1351.0" y2="1814.2" stroke="#929292" stroke-width="2" />
<line x1="1412.4" y1="1766.7" x2="1412.4" y2="1814.2" stroke="#929292" stroke-width="2" />
<line x1="1555.0" y1="1766.7" x2="1555.0" y2="1814.2" stroke="#929292" stroke-width="2" />
<line x1="1637.7" y1="1766.7" x2="1637.7" y2="1814.2" stroke="#929292" stroke-width="2" />
<line x1="1714.2" y1="1766.7" x2="1714.2" y2="1814.2" stroke="#929292" stroke-width="2" />
<line x1="1797.0" y1="1766.7" x2="1797.0" y2="1814.2" stroke="#929292" stroke-width="2" />
<line x1="1879.6" y1="1766.7" x2="1879.6" y2="1814.2" stroke="#929292" stroke-width="2" />
<line x1="1963.7" y1="1766.7" x2="1963.7" y2="1814.2" stroke="#929292" stroke-width="2" />
<line x1="2036.0" y1="1766.7" x2="2036.0" y2="1814.2" stroke="#929292" stroke-width="2" />
<line x1="2118.7" y1="1766.7" x2="2118.7" y2="1814.2" stroke="#929292" stroke-width="2" />
<line x1="2248.7" y1="1766.7" x2="2248.7" y2="1814.2" stroke="#929292" stroke-width="2" />
<rect x="177.5" y="1625.3" width="2248.8" height="188.9" fill="none" stroke="#929292" stroke-width="2"/>
<text style="white-space:pre" transform="translate(262.2,1660.6) scale(0.7250,1)" font-family="Liberation Sans" font-size="31.5" font-weight="normal" fill="#ffffff" text-anchor="middle" >MODEL NO</text>
<text style="white-space:pre" transform="translate(388.4,1660.6) scale(0.7200,1)" font-family="Liberation Sans" font-size="31.5" font-weight="normal" fill="#ffffff" text-anchor="middle" >A</text>
<text style="white-space:pre" transform="translate(471.1,1660.6) scale(0.7200,1)" font-family="Liberation Sans" font-size="31.5" font-weight="normal" fill="#ffffff" text-anchor="middle" >B</text>
<text style="white-space:pre" transform="translate(553.9,1660.6) scale(0.7518,1)" font-family="Liberation Sans" font-size="31.5" font-weight="normal" fill="#ffffff" text-anchor="middle" >B2</text>
<text style="white-space:pre" transform="translate(636.5,1660.6) scale(0.7200,1)" font-family="Liberation Sans" font-size="31.5" font-weight="normal" fill="#ffffff" text-anchor="middle" >C</text>
<text style="white-space:pre" transform="translate(719.1,1660.6) scale(0.7200,1)" font-family="Liberation Sans" font-size="31.5" font-weight="normal" fill="#ffffff" text-anchor="middle" >D</text>
<text style="white-space:pre" transform="translate(802.0,1660.6) scale(0.7518,1)" font-family="Liberation Sans" font-size="31.5" font-weight="normal" fill="#ffffff" text-anchor="middle" >E2</text>
<text style="white-space:pre" transform="translate(890.6,1660.6) scale(0.7518,1)" font-family="Liberation Sans" font-size="31.5" font-weight="normal" fill="#ffffff" text-anchor="middle" >E3</text>
<text style="white-space:pre" transform="translate(979.2,1660.6) scale(0.7200,1)" font-family="Liberation Sans" font-size="31.5" font-weight="normal" fill="#ffffff" text-anchor="middle" >F</text>
<text style="white-space:pre" transform="translate(1062.0,1660.6) scale(0.7200,1)" font-family="Liberation Sans" font-size="31.5" font-weight="normal" fill="#ffffff" text-anchor="middle" >G</text>
<text style="white-space:pre" transform="translate(1144.6,1660.6) scale(0.7200,1)" font-family="Liberation Sans" font-size="31.5" font-weight="normal" fill="#ffffff" text-anchor="middle" >H</text>
<text style="white-space:pre" transform="translate(1227.2,1660.6) scale(0.7505,1)" font-family="Liberation Sans" font-size="31.5" font-weight="normal" fill="#ffffff" text-anchor="middle" >H1</text>
<text style="white-space:pre" transform="translate(1309.8,1660.6) scale(0.7505,1)" font-family="Liberation Sans" font-size="31.5" font-weight="normal" fill="#ffffff" text-anchor="middle" >H2</text>
<text style="white-space:pre" transform="translate(1381.7,1660.6) scale(0.7200,1)" font-family="Liberation Sans" font-size="31.5" font-weight="normal" fill="#ffffff" text-anchor="middle" >J</text>
<text style="white-space:pre" transform="translate(1483.7,1660.6) scale(0.7200,1)" font-family="Liberation Sans" font-size="31.5" font-weight="normal" fill="#ffffff" text-anchor="middle" >K</text>
<text style="white-space:pre" transform="translate(1596.3,1660.6) scale(0.7200,1)" font-family="Liberation Sans" font-size="31.5" font-weight="normal" fill="#ffffff" text-anchor="middle" >L</text>
<text style="white-space:pre" transform="translate(1676.0,1660.6) scale(0.7200,1)" font-family="Liberation Sans" font-size="31.5" font-weight="normal" fill="#ffffff" text-anchor="middle" >M</text>
<text style="white-space:pre" transform="translate(1755.6,1660.6) scale(0.7200,1)" font-family="Liberation Sans" font-size="31.5" font-weight="normal" fill="#ffffff" text-anchor="middle" >N</text>
<text style="white-space:pre" transform="translate(1838.3,1660.6) scale(0.7518,1)" font-family="Liberation Sans" font-size="31.5" font-weight="normal" fill="#ffffff" text-anchor="middle" >X1</text>
<text style="white-space:pre" transform="translate(1921.7,1660.6) scale(0.7518,1)" font-family="Liberation Sans" font-size="31.5" font-weight="normal" fill="#ffffff" text-anchor="middle" >X2</text>
<text style="white-space:pre" transform="translate(1999.8,1660.6) scale(0.7200,1)" font-family="Liberation Sans" font-size="31.5" font-weight="normal" fill="#ffffff" text-anchor="middle" >P</text>
<text style="white-space:pre" transform="translate(2077.3,1660.6) scale(0.7200,1)" font-family="Liberation Sans" font-size="31.5" font-weight="normal" fill="#ffffff" text-anchor="middle" >R</text>
<text style="white-space:pre" transform="translate(2183.7,1660.6) scale(0.7227,1)" font-family="Liberation Sans" font-size="31.5" font-weight="normal" fill="#ffffff" text-anchor="middle" >PİSTON Ø</text>
<text style="white-space:pre" transform="translate(2337.5,1660.6) scale(0.7218,1)" font-family="Liberation Sans" font-size="31.5" font-weight="normal" fill="#ffffff" text-anchor="middle" >PİSTON STROK</text>
<text style="white-space:pre" transform="translate(262.2,1708.3) scale(0.7700,1)" font-family="Liberation Sans" font-size="31.5" font-weight="normal" fill="#878787" text-anchor="middle" >682 - 4</text>
<text style="white-space:pre" transform="translate(388.4,1708.3) scale(0.7900,1)" font-family="Liberation Sans" font-size="31.5" font-weight="normal" fill="#878787" text-anchor="middle" >77</text>
<text style="white-space:pre" transform="translate(471.1,1708.3) scale(0.7900,1)" font-family="Liberation Sans" font-size="31.5" font-weight="normal" fill="#878787" text-anchor="middle" >90</text>
<text style="white-space:pre" transform="translate(553.9,1708.3) scale(0.7900,1)" font-family="Liberation Sans" font-size="31.5" font-weight="normal" fill="#878787" text-anchor="middle" >15</text>
<text style="white-space:pre" transform="translate(636.5,1708.3) scale(0.7900,1)" font-family="Liberation Sans" font-size="31.5" font-weight="normal" fill="#878787" text-anchor="middle" >75</text>
<text style="white-space:pre" transform="translate(719.1,1708.3) scale(0.7900,1)" font-family="Liberation Sans" font-size="31.5" font-weight="normal" fill="#878787" text-anchor="middle" >27</text>
<text style="white-space:pre" transform="translate(802.0,1708.3) scale(0.7900,1)" font-family="Liberation Sans" font-size="31.5" font-weight="normal" fill="#878787" text-anchor="middle" >10</text>
<text style="white-space:pre" transform="translate(890.6,1708.3) scale(0.7900,1)" font-family="Liberation Sans" font-size="31.5" font-weight="normal" fill="#878787" text-anchor="middle" >47</text>
<text style="white-space:pre" transform="translate(979.2,1708.3) scale(0.7900,1)" font-family="Liberation Sans" font-size="31.5" font-weight="normal" fill="#878787" text-anchor="middle" >70</text>
<text style="white-space:pre" transform="translate(1062.0,1708.3) scale(0.7800,1)" font-family="Liberation Sans" font-size="31.5" font-weight="normal" fill="#878787" text-anchor="middle" >65,5</text>
<text style="white-space:pre" transform="translate(1144.6,1708.3) scale(0.7822,1)" font-family="Liberation Sans" font-size="31.5" font-weight="normal" fill="#878787" text-anchor="middle" >130,5</text>
<text style="white-space:pre" transform="translate(1227.2,1708.3) scale(0.7900,1)" font-family="Liberation Sans" font-size="31.5" font-weight="normal" fill="#878787" text-anchor="middle" >240</text>
<text style="white-space:pre" transform="translate(1309.8,1708.3) scale(0.7900,1)" font-family="Liberation Sans" font-size="31.5" font-weight="normal" fill="#878787" text-anchor="middle" >455</text>
<text style="white-space:pre" transform="translate(1381.7,1708.3) scale(0.7900,1)" font-family="Liberation Sans" font-size="31.5" font-weight="normal" fill="#878787" text-anchor="middle" >35</text>
<text style="white-space:pre" transform="translate(1483.7,1708.3) scale(0.7627,1)" font-family="Liberation Sans" font-size="31.5" font-weight="normal" fill="#878787" text-anchor="middle" >M12X1.25</text>
<text style="white-space:pre" transform="translate(1596.3,1708.3) scale(0.7900,1)" font-family="Liberation Sans" font-size="31.5" font-weight="normal" fill="#878787" text-anchor="middle" >182</text>
<text style="white-space:pre" transform="translate(1676.0,1708.3) scale(0.7760,1)" font-family="Liberation Sans" font-size="31.5" font-weight="normal" fill="#878787" text-anchor="middle" >6,2</text>
<text style="white-space:pre" transform="translate(1755.6,1708.3) scale(0.8465,1)" font-family="Liberation Sans" font-size="31.5" font-weight="normal" fill="#878787" text-anchor="middle" >11</text>
<text style="white-space:pre" transform="translate(1838.3,1708.3) scale(0.7900,1)" font-family="Liberation Sans" font-size="31.5" font-weight="normal" fill="#878787" text-anchor="middle" >18</text>
<text style="white-space:pre" transform="translate(1921.7,1708.3) scale(0.7900,1)" font-family="Liberation Sans" font-size="31.5" font-weight="normal" fill="#878787" text-anchor="middle" >64</text>
<text style="white-space:pre" transform="translate(1999.8,1708.3) scale(0.7559,1)" font-family="Liberation Sans" font-size="31.5" font-weight="normal" fill="#878787" text-anchor="middle" >Ø 16</text>
<text style="white-space:pre" transform="translate(2077.3,1708.3) scale(0.7559,1)" font-family="Liberation Sans" font-size="31.5" font-weight="normal" fill="#878787" text-anchor="middle" >G1/4</text>
<text style="white-space:pre" transform="translate(2183.7,1708.3) scale(0.7900,1)" font-family="Liberation Sans" font-size="31.5" font-weight="normal" fill="#878787" text-anchor="middle" >40</text>
<text style="white-space:pre" transform="translate(2337.5,1708.3) scale(0.7900,1)" font-family="Liberation Sans" font-size="31.5" font-weight="normal" fill="#878787" text-anchor="middle" >80</text>
<text style="white-space:pre" transform="translate(262.2,1755.6) scale(0.7700,1)" font-family="Liberation Sans" font-size="31.5" font-weight="normal" fill="#ffffff" text-anchor="middle" >682 - 6</text>
<text style="white-space:pre" transform="translate(388.4,1755.6) scale(0.7900,1)" font-family="Liberation Sans" font-size="31.5" font-weight="normal" fill="#ffffff" text-anchor="middle" >93</text>
<text style="white-space:pre" transform="translate(471.1,1755.6) scale(0.7900,1)" font-family="Liberation Sans" font-size="31.5" font-weight="normal" fill="#ffffff" text-anchor="middle" >105</text>
<text style="white-space:pre" transform="translate(553.9,1755.6) scale(0.7900,1)" font-family="Liberation Sans" font-size="31.5" font-weight="normal" fill="#ffffff" text-anchor="middle" >20</text>
<text style="white-space:pre" transform="translate(636.5,1755.6) scale(0.7900,1)" font-family="Liberation Sans" font-size="31.5" font-weight="normal" fill="#ffffff" text-anchor="middle" >85</text>
<text style="white-space:pre" transform="translate(719.1,1755.6) scale(0.7900,1)" font-family="Liberation Sans" font-size="31.5" font-weight="normal" fill="#ffffff" text-anchor="middle" >26</text>
<text style="white-space:pre" transform="translate(802.0,1755.6) scale(0.8465,1)" font-family="Liberation Sans" font-size="31.5" font-weight="normal" fill="#ffffff" text-anchor="middle" >11</text>
<text style="white-space:pre" transform="translate(890.6,1755.6) scale(0.7900,1)" font-family="Liberation Sans" font-size="31.5" font-weight="normal" fill="#ffffff" text-anchor="middle" >54</text>
<text style="white-space:pre" transform="translate(979.2,1755.6) scale(0.7900,1)" font-family="Liberation Sans" font-size="31.5" font-weight="normal" fill="#ffffff" text-anchor="middle" >83</text>
<text style="white-space:pre" transform="translate(1062.0,1755.6) scale(0.7900,1)" font-family="Liberation Sans" font-size="31.5" font-weight="normal" fill="#ffffff" text-anchor="middle" >71</text>
<text style="white-space:pre" transform="translate(1144.6,1755.6) scale(0.7900,1)" font-family="Liberation Sans" font-size="31.5" font-weight="normal" fill="#ffffff" text-anchor="middle" >158</text>
<text style="white-space:pre" transform="translate(1227.2,1755.6) scale(0.7900,1)" font-family="Liberation Sans" font-size="31.5" font-weight="normal" fill="#ffffff" text-anchor="middle" >287</text>
<text style="white-space:pre" transform="translate(1309.8,1755.6) scale(0.7900,1)" font-family="Liberation Sans" font-size="31.5" font-weight="normal" fill="#ffffff" text-anchor="middle" >535</text>
<text style="white-space:pre" transform="translate(1381.7,1755.6) scale(0.7900,1)" font-family="Liberation Sans" font-size="31.5" font-weight="normal" fill="#ffffff" text-anchor="middle" >40</text>
<text style="white-space:pre" transform="translate(1483.7,1755.6) scale(0.7627,1)" font-family="Liberation Sans" font-size="31.5" font-weight="normal" fill="#ffffff" text-anchor="middle" >M16X1,50</text>
<text style="white-space:pre" transform="translate(1596.3,1755.6) scale(0.7900,1)" font-family="Liberation Sans" font-size="31.5" font-weight="normal" fill="#ffffff" text-anchor="middle" >219</text>
<text style="white-space:pre" transform="translate(1676.0,1755.6) scale(0.7760,1)" font-family="Liberation Sans" font-size="31.5" font-weight="normal" fill="#ffffff" text-anchor="middle" >8,2</text>
<text style="white-space:pre" transform="translate(1755.6,1755.6) scale(0.7800,1)" font-family="Liberation Sans" font-size="31.5" font-weight="normal" fill="#ffffff" text-anchor="middle" >12,5</text>
<text style="white-space:pre" transform="translate(1838.3,1755.6) scale(0.7900,1)" font-family="Liberation Sans" font-size="31.5" font-weight="normal" fill="#ffffff" text-anchor="middle" >18</text>
<text style="white-space:pre" transform="translate(1921.7,1755.6) scale(0.7900,1)" font-family="Liberation Sans" font-size="31.5" font-weight="normal" fill="#ffffff" text-anchor="middle" >69</text>
<text style="white-space:pre" transform="translate(1999.8,1755.6) scale(0.7559,1)" font-family="Liberation Sans" font-size="31.5" font-weight="normal" fill="#ffffff" text-anchor="middle" >Ø 20</text>
<text style="white-space:pre" transform="translate(2077.3,1755.6) scale(0.7559,1)" font-family="Liberation Sans" font-size="31.5" font-weight="normal" fill="#ffffff" text-anchor="middle" >G1/4</text>
<text style="white-space:pre" transform="translate(2183.7,1755.6) scale(0.7900,1)" font-family="Liberation Sans" font-size="31.5" font-weight="normal" fill="#ffffff" text-anchor="middle" >50</text>
<text style="white-space:pre" transform="translate(2337.5,1755.6) scale(0.7900,1)" font-family="Liberation Sans" font-size="31.5" font-weight="normal" fill="#ffffff" text-anchor="middle" >100</text>
<text style="white-space:pre" transform="translate(262.2,1802.7) scale(0.7700,1)" font-family="Liberation Sans" font-size="31.5" font-weight="normal" fill="#878787" text-anchor="middle" >682 - 8</text>
<text style="white-space:pre" transform="translate(388.4,1802.7) scale(0.7900,1)" font-family="Liberation Sans" font-size="31.5" font-weight="normal" fill="#878787" text-anchor="middle" >125</text>
<text style="white-space:pre" transform="translate(471.1,1802.7) scale(0.7900,1)" font-family="Liberation Sans" font-size="31.5" font-weight="normal" fill="#878787" text-anchor="middle" >145</text>
<text style="white-space:pre" transform="translate(553.9,1802.7) scale(0.7900,1)" font-family="Liberation Sans" font-size="31.5" font-weight="normal" fill="#878787" text-anchor="middle" >30</text>
<text style="white-space:pre" transform="translate(636.5,1802.7) scale(0.8268,1)" font-family="Liberation Sans" font-size="31.5" font-weight="normal" fill="#878787" text-anchor="middle" >115</text>
<text style="white-space:pre" transform="translate(719.1,1802.7) scale(0.7900,1)" font-family="Liberation Sans" font-size="31.5" font-weight="normal" fill="#878787" text-anchor="middle" >40</text>
<text style="white-space:pre" transform="translate(802.0,1802.7) scale(0.7900,1)" font-family="Liberation Sans" font-size="31.5" font-weight="normal" fill="#878787" text-anchor="middle" >15</text>
<text style="white-space:pre" transform="translate(890.6,1802.7) scale(0.7900,1)" font-family="Liberation Sans" font-size="31.5" font-weight="normal" fill="#878787" text-anchor="middle" >67</text>
<text style="white-space:pre" transform="translate(979.2,1802.7) scale(0.8268,1)" font-family="Liberation Sans" font-size="31.5" font-weight="normal" fill="#878787" text-anchor="middle" >115</text>
<text style="white-space:pre" transform="translate(1062.0,1802.7) scale(0.7900,1)" font-family="Liberation Sans" font-size="31.5" font-weight="normal" fill="#878787" text-anchor="middle" >94</text>
<text style="white-space:pre" transform="translate(1144.6,1802.7) scale(0.7900,1)" font-family="Liberation Sans" font-size="31.5" font-weight="normal" fill="#878787" text-anchor="middle" >212</text>
<text style="white-space:pre" transform="translate(1227.2,1802.7) scale(0.7900,1)" font-family="Liberation Sans" font-size="31.5" font-weight="normal" fill="#878787" text-anchor="middle" >333</text>
<text style="white-space:pre" transform="translate(1309.8,1802.7) scale(0.7900,1)" font-family="Liberation Sans" font-size="31.5" font-weight="normal" fill="#878787" text-anchor="middle" >669</text>
<text style="white-space:pre" transform="translate(1381.7,1802.7) scale(0.7900,1)" font-family="Liberation Sans" font-size="31.5" font-weight="normal" fill="#878787" text-anchor="middle" >60</text>
<text style="white-space:pre" transform="translate(1483.7,1802.7) scale(0.7627,1)" font-family="Liberation Sans" font-size="31.5" font-weight="normal" fill="#878787" text-anchor="middle" >M16X1,50</text>
<text style="white-space:pre" transform="translate(1596.3,1802.7) scale(0.7900,1)" font-family="Liberation Sans" font-size="31.5" font-weight="normal" fill="#878787" text-anchor="middle" >288</text>
<text style="white-space:pre" transform="translate(1676.0,1802.7) scale(0.7800,1)" font-family="Liberation Sans" font-size="31.5" font-weight="normal" fill="#878787" text-anchor="middle" >12,2</text>
<text style="white-space:pre" transform="translate(1755.6,1802.7) scale(0.7800,1)" font-family="Liberation Sans" font-size="31.5" font-weight="normal" fill="#878787" text-anchor="middle" >16,5</text>
<text style="white-space:pre" transform="translate(1838.3,1802.7) scale(0.7900,1)" font-family="Liberation Sans" font-size="31.5" font-weight="normal" fill="#878787" text-anchor="middle" >18</text>
<text style="white-space:pre" transform="translate(1921.7,1802.7) scale(0.7900,1)" font-family="Liberation Sans" font-size="31.5" font-weight="normal" fill="#878787" text-anchor="middle" >92</text>
<text style="white-space:pre" transform="translate(1999.8,1802.7) scale(0.7559,1)" font-family="Liberation Sans" font-size="31.5" font-weight="normal" fill="#878787" text-anchor="middle" >Ø 20</text>
<text style="white-space:pre" transform="translate(2077.3,1802.7) scale(0.7559,1)" font-family="Liberation Sans" font-size="31.5" font-weight="normal" fill="#878787" text-anchor="middle" >G3/8</text>
<text style="white-space:pre" transform="translate(2183.7,1802.7) scale(0.7900,1)" font-family="Liberation Sans" font-size="31.5" font-weight="normal" fill="#878787" text-anchor="middle" >63</text>
<text style="white-space:pre" transform="translate(2337.5,1802.7) scale(0.7900,1)" font-family="Liberation Sans" font-size="31.5" font-weight="normal" fill="#878787" text-anchor="middle" >125</text>
<rect x="177.5" y="3276.7" width="2245.5" height="47.8" fill="#929292" />
<rect x="177.5" y="3324.5" width="2245.5" height="46.5" fill="#ffffff" />
<rect x="177.5" y="3371.0" width="2245.5" height="47.8" fill="#929292" />
<rect x="177.5" y="3418.8" width="2245.5" height="46.5" fill="#ffffff" />
<line x1="373.0" y1="3277.7" x2="373.0" y2="3323.5" stroke="#ffffff" stroke-width="2" />
<line x1="456.0" y1="3277.7" x2="456.0" y2="3323.5" stroke="#ffffff" stroke-width="2" />
<line x1="538.4" y1="3277.7" x2="538.4" y2="3323.5" stroke="#ffffff" stroke-width="2" />
<line x1="621.3" y1="3277.7" x2="621.3" y2="3323.5" stroke="#ffffff" stroke-width="2" />
<line x1="703.8" y1="3277.7" x2="703.8" y2="3323.5" stroke="#ffffff" stroke-width="2" />
<line x1="786.7" y1="3277.7" x2="786.7" y2="3323.5" stroke="#ffffff" stroke-width="2" />
<line x1="869.6" y1="3277.7" x2="869.6" y2="3323.5" stroke="#ffffff" stroke-width="2" />
<line x1="951.6" y1="3277.7" x2="951.6" y2="3323.5" stroke="#ffffff" stroke-width="2" />
<line x1="1034.5" y1="3277.7" x2="1034.5" y2="3323.5" stroke="#ffffff" stroke-width="2" />
<line x1="1117.4" y1="3277.7" x2="1117.4" y2="3323.5" stroke="#ffffff" stroke-width="2" />
<line x1="1200.3" y1="3277.7" x2="1200.3" y2="3323.5" stroke="#ffffff" stroke-width="2" />
<line x1="1282.7" y1="3277.7" x2="1282.7" y2="3323.5" stroke="#ffffff" stroke-width="2" />
<line x1="1365.5" y1="3277.7" x2="1365.5" y2="3323.5" stroke="#ffffff" stroke-width="2" />
<line x1="1526.3" y1="3277.7" x2="1526.3" y2="3323.5" stroke="#ffffff" stroke-width="2" />
<line x1="1608.8" y1="3277.7" x2="1608.8" y2="3323.5" stroke="#ffffff" stroke-width="2" />
<line x1="1691.2" y1="3277.7" x2="1691.2" y2="3323.5" stroke="#ffffff" stroke-width="2" />
<line x1="1774.1" y1="3277.7" x2="1774.1" y2="3323.5" stroke="#ffffff" stroke-width="2" />
<line x1="1854.4" y1="3277.7" x2="1854.4" y2="3323.5" stroke="#ffffff" stroke-width="2" />
<line x1="1932.6" y1="3277.7" x2="1932.6" y2="3323.5" stroke="#ffffff" stroke-width="2" />
<line x1="2014.7" y1="3277.7" x2="2014.7" y2="3323.5" stroke="#ffffff" stroke-width="2" />
<line x1="2107.1" y1="3277.7" x2="2107.1" y2="3323.5" stroke="#ffffff" stroke-width="2" />
<line x1="2246.3" y1="3277.7" x2="2246.3" y2="3323.5" stroke="#ffffff" stroke-width="2" />
<line x1="373.0" y1="3324.5" x2="373.0" y2="3371.0" stroke="#929292" stroke-width="2" />
<line x1="456.0" y1="3324.5" x2="456.0" y2="3371.0" stroke="#929292" stroke-width="2" />
<line x1="538.4" y1="3324.5" x2="538.4" y2="3371.0" stroke="#929292" stroke-width="2" />
<line x1="621.3" y1="3324.5" x2="621.3" y2="3371.0" stroke="#929292" stroke-width="2" />
<line x1="703.8" y1="3324.5" x2="703.8" y2="3371.0" stroke="#929292" stroke-width="2" />
<line x1="786.7" y1="3324.5" x2="786.7" y2="3371.0" stroke="#929292" stroke-width="2" />
<line x1="869.6" y1="3324.5" x2="869.6" y2="3371.0" stroke="#929292" stroke-width="2" />
<line x1="951.6" y1="3324.5" x2="951.6" y2="3371.0" stroke="#929292" stroke-width="2" />
<line x1="1034.5" y1="3324.5" x2="1034.5" y2="3371.0" stroke="#929292" stroke-width="2" />
<line x1="1117.4" y1="3324.5" x2="1117.4" y2="3371.0" stroke="#929292" stroke-width="2" />
<line x1="1200.3" y1="3324.5" x2="1200.3" y2="3371.0" stroke="#929292" stroke-width="2" />
<line x1="1282.7" y1="3324.5" x2="1282.7" y2="3371.0" stroke="#929292" stroke-width="2" />
<line x1="1365.5" y1="3324.5" x2="1365.5" y2="3371.0" stroke="#929292" stroke-width="2" />
<line x1="1526.3" y1="3324.5" x2="1526.3" y2="3371.0" stroke="#929292" stroke-width="2" />
<line x1="1608.8" y1="3324.5" x2="1608.8" y2="3371.0" stroke="#929292" stroke-width="2" />
<line x1="1691.2" y1="3324.5" x2="1691.2" y2="3371.0" stroke="#929292" stroke-width="2" />
<line x1="1774.1" y1="3324.5" x2="1774.1" y2="3371.0" stroke="#929292" stroke-width="2" />
<line x1="1854.4" y1="3324.5" x2="1854.4" y2="3371.0" stroke="#929292" stroke-width="2" />
<line x1="1932.6" y1="3324.5" x2="1932.6" y2="3371.0" stroke="#929292" stroke-width="2" />
<line x1="2014.7" y1="3324.5" x2="2014.7" y2="3371.0" stroke="#929292" stroke-width="2" />
<line x1="2107.1" y1="3324.5" x2="2107.1" y2="3371.0" stroke="#929292" stroke-width="2" />
<line x1="2246.3" y1="3324.5" x2="2246.3" y2="3371.0" stroke="#929292" stroke-width="2" />
<line x1="373.0" y1="3372.0" x2="373.0" y2="3417.8" stroke="#ffffff" stroke-width="2" />
<line x1="456.0" y1="3372.0" x2="456.0" y2="3417.8" stroke="#ffffff" stroke-width="2" />
<line x1="538.4" y1="3372.0" x2="538.4" y2="3417.8" stroke="#ffffff" stroke-width="2" />
<line x1="621.3" y1="3372.0" x2="621.3" y2="3417.8" stroke="#ffffff" stroke-width="2" />
<line x1="703.8" y1="3372.0" x2="703.8" y2="3417.8" stroke="#ffffff" stroke-width="2" />
<line x1="786.7" y1="3372.0" x2="786.7" y2="3417.8" stroke="#ffffff" stroke-width="2" />
<line x1="869.6" y1="3372.0" x2="869.6" y2="3417.8" stroke="#ffffff" stroke-width="2" />
<line x1="951.6" y1="3372.0" x2="951.6" y2="3417.8" stroke="#ffffff" stroke-width="2" />
<line x1="1034.5" y1="3372.0" x2="1034.5" y2="3417.8" stroke="#ffffff" stroke-width="2" />
<line x1="1117.4" y1="3372.0" x2="1117.4" y2="3417.8" stroke="#ffffff" stroke-width="2" />
<line x1="1200.3" y1="3372.0" x2="1200.3" y2="3417.8" stroke="#ffffff" stroke-width="2" />
<line x1="1282.7" y1="3372.0" x2="1282.7" y2="3417.8" stroke="#ffffff" stroke-width="2" />
<line x1="1365.5" y1="3372.0" x2="1365.5" y2="3417.8" stroke="#ffffff" stroke-width="2" />
<line x1="1526.3" y1="3372.0" x2="1526.3" y2="3417.8" stroke="#ffffff" stroke-width="2" />
<line x1="1608.8" y1="3372.0" x2="1608.8" y2="3417.8" stroke="#ffffff" stroke-width="2" />
<line x1="1691.2" y1="3372.0" x2="1691.2" y2="3417.8" stroke="#ffffff" stroke-width="2" />
<line x1="1774.1" y1="3372.0" x2="1774.1" y2="3417.8" stroke="#ffffff" stroke-width="2" />
<line x1="1854.4" y1="3372.0" x2="1854.4" y2="3417.8" stroke="#ffffff" stroke-width="2" />
<line x1="1932.6" y1="3372.0" x2="1932.6" y2="3417.8" stroke="#ffffff" stroke-width="2" />
<line x1="2014.7" y1="3372.0" x2="2014.7" y2="3417.8" stroke="#ffffff" stroke-width="2" />
<line x1="2107.1" y1="3372.0" x2="2107.1" y2="3417.8" stroke="#ffffff" stroke-width="2" />
<line x1="2246.3" y1="3372.0" x2="2246.3" y2="3417.8" stroke="#ffffff" stroke-width="2" />
<line x1="373.0" y1="3418.8" x2="373.0" y2="3465.3" stroke="#929292" stroke-width="2" />
<line x1="456.0" y1="3418.8" x2="456.0" y2="3465.3" stroke="#929292" stroke-width="2" />
<line x1="538.4" y1="3418.8" x2="538.4" y2="3465.3" stroke="#929292" stroke-width="2" />
<line x1="621.3" y1="3418.8" x2="621.3" y2="3465.3" stroke="#929292" stroke-width="2" />
<line x1="703.8" y1="3418.8" x2="703.8" y2="3465.3" stroke="#929292" stroke-width="2" />
<line x1="786.7" y1="3418.8" x2="786.7" y2="3465.3" stroke="#929292" stroke-width="2" />
<line x1="869.6" y1="3418.8" x2="869.6" y2="3465.3" stroke="#929292" stroke-width="2" />
<line x1="951.6" y1="3418.8" x2="951.6" y2="3465.3" stroke="#929292" stroke-width="2" />
<line x1="1034.5" y1="3418.8" x2="1034.5" y2="3465.3" stroke="#929292" stroke-width="2" />
<line x1="1117.4" y1="3418.8" x2="1117.4" y2="3465.3" stroke="#929292" stroke-width="2" />
<line x1="1200.3" y1="3418.8" x2="1200.3" y2="3465.3" stroke="#929292" stroke-width="2" />
<line x1="1282.7" y1="3418.8" x2="1282.7" y2="3465.3" stroke="#929292" stroke-width="2" />
<line x1="1365.5" y1="3418.8" x2="1365.5" y2="3465.3" stroke="#929292" stroke-width="2" />
<line x1="1526.3" y1="3418.8" x2="1526.3" y2="3465.3" stroke="#929292" stroke-width="2" />
<line x1="1608.8" y1="3418.8" x2="1608.8" y2="3465.3" stroke="#929292" stroke-width="2" />
<line x1="1691.2" y1="3418.8" x2="1691.2" y2="3465.3" stroke="#929292" stroke-width="2" />
<line x1="1774.1" y1="3418.8" x2="1774.1" y2="3465.3" stroke="#929292" stroke-width="2" />
<line x1="1854.4" y1="3418.8" x2="1854.4" y2="3465.3" stroke="#929292" stroke-width="2" />
<line x1="1932.6" y1="3418.8" x2="1932.6" y2="3465.3" stroke="#929292" stroke-width="2" />
<line x1="2014.7" y1="3418.8" x2="2014.7" y2="3465.3" stroke="#929292" stroke-width="2" />
<line x1="2107.1" y1="3418.8" x2="2107.1" y2="3465.3" stroke="#929292" stroke-width="2" />
<line x1="2246.3" y1="3418.8" x2="2246.3" y2="3465.3" stroke="#929292" stroke-width="2" />
<rect x="177.5" y="3276.7" width="2245.5" height="188.6" fill="none" stroke="#929292" stroke-width="2"/>
<text style="white-space:pre" transform="translate(275.2,3312.6) scale(0.7250,1)" font-family="Liberation Sans" font-size="31.5" font-weight="normal" fill="#ffffff" text-anchor="middle" >MODEL NO</text>
<text style="white-space:pre" transform="translate(414.5,3312.6) scale(0.7200,1)" font-family="Liberation Sans" font-size="31.5" font-weight="normal" fill="#ffffff" text-anchor="middle" >A</text>
<text style="white-space:pre" transform="translate(497.2,3312.6) scale(0.7200,1)" font-family="Liberation Sans" font-size="31.5" font-weight="normal" fill="#ffffff" text-anchor="middle" >B</text>
<text style="white-space:pre" transform="translate(579.8,3312.6) scale(0.7518,1)" font-family="Liberation Sans" font-size="31.5" font-weight="normal" fill="#ffffff" text-anchor="middle" >B2</text>
<text style="white-space:pre" transform="translate(662.5,3312.6) scale(0.7200,1)" font-family="Liberation Sans" font-size="31.5" font-weight="normal" fill="#ffffff" text-anchor="middle" >C</text>
<text style="white-space:pre" transform="translate(745.2,3312.6) scale(0.7200,1)" font-family="Liberation Sans" font-size="31.5" font-weight="normal" fill="#ffffff" text-anchor="middle" >D</text>
<text style="white-space:pre" transform="translate(828.2,3312.6) scale(0.7518,1)" font-family="Liberation Sans" font-size="31.5" font-weight="normal" fill="#ffffff" text-anchor="middle" >E2</text>
<text style="white-space:pre" transform="translate(910.6,3312.6) scale(0.7518,1)" font-family="Liberation Sans" font-size="31.5" font-weight="normal" fill="#ffffff" text-anchor="middle" >E3</text>
<text style="white-space:pre" transform="translate(993.0,3312.6) scale(0.7200,1)" font-family="Liberation Sans" font-size="31.5" font-weight="normal" fill="#ffffff" text-anchor="middle" >F</text>
<text style="white-space:pre" transform="translate(1076.0,3312.6) scale(0.7200,1)" font-family="Liberation Sans" font-size="31.5" font-weight="normal" fill="#ffffff" text-anchor="middle" >G</text>
<text style="white-space:pre" transform="translate(1158.8,3312.6) scale(0.7200,1)" font-family="Liberation Sans" font-size="31.5" font-weight="normal" fill="#ffffff" text-anchor="middle" >H</text>
<text style="white-space:pre" transform="translate(1241.5,3312.6) scale(0.7505,1)" font-family="Liberation Sans" font-size="31.5" font-weight="normal" fill="#ffffff" text-anchor="middle" >H2</text>
<text style="white-space:pre" transform="translate(1324.1,3312.6) scale(0.7200,1)" font-family="Liberation Sans" font-size="31.5" font-weight="normal" fill="#ffffff" text-anchor="middle" >J</text>
<text style="white-space:pre" transform="translate(1445.9,3312.6) scale(0.7200,1)" font-family="Liberation Sans" font-size="31.5" font-weight="normal" fill="#ffffff" text-anchor="middle" >K</text>
<text style="white-space:pre" transform="translate(1567.5,3312.6) scale(0.7200,1)" font-family="Liberation Sans" font-size="31.5" font-weight="normal" fill="#ffffff" text-anchor="middle" >L</text>
<text style="white-space:pre" transform="translate(1650.0,3312.6) scale(0.7200,1)" font-family="Liberation Sans" font-size="31.5" font-weight="normal" fill="#ffffff" text-anchor="middle" >M</text>
<text style="white-space:pre" transform="translate(1732.7,3312.6) scale(0.7200,1)" font-family="Liberation Sans" font-size="31.5" font-weight="normal" fill="#ffffff" text-anchor="middle" >N</text>
<text style="white-space:pre" transform="translate(1814.2,3312.6) scale(0.7518,1)" font-family="Liberation Sans" font-size="31.5" font-weight="normal" fill="#ffffff" text-anchor="middle" >X1</text>
<text style="white-space:pre" transform="translate(1893.5,3312.6) scale(0.7518,1)" font-family="Liberation Sans" font-size="31.5" font-weight="normal" fill="#ffffff" text-anchor="middle" >X2</text>
<text style="white-space:pre" transform="translate(1973.7,3312.6) scale(0.7200,1)" font-family="Liberation Sans" font-size="31.5" font-weight="normal" fill="#ffffff" text-anchor="middle" >P</text>
<text style="white-space:pre" transform="translate(2060.9,3312.6) scale(0.7200,1)" font-family="Liberation Sans" font-size="31.5" font-weight="normal" fill="#ffffff" text-anchor="middle" >R</text>
<text style="white-space:pre" transform="translate(2176.7,3312.6) scale(0.7227,1)" font-family="Liberation Sans" font-size="31.5" font-weight="normal" fill="#ffffff" text-anchor="middle" >PİSTON Ø</text>
<text style="white-space:pre" transform="translate(2334.7,3312.6) scale(0.7218,1)" font-family="Liberation Sans" font-size="31.5" font-weight="normal" fill="#ffffff" text-anchor="middle" >PİSTON STROK</text>
<text style="white-space:pre" transform="translate(275.2,3359.6) scale(0.7618,1)" font-family="Liberation Sans" font-size="31.5" font-weight="normal" fill="#878787" text-anchor="middle" >682-4-M</text>
<text style="white-space:pre" transform="translate(414.5,3359.6) scale(0.7900,1)" font-family="Liberation Sans" font-size="31.5" font-weight="normal" fill="#878787" text-anchor="middle" >77</text>
<text style="white-space:pre" transform="translate(497.2,3359.6) scale(0.7900,1)" font-family="Liberation Sans" font-size="31.5" font-weight="normal" fill="#878787" text-anchor="middle" >90</text>
<text style="white-space:pre" transform="translate(579.8,3359.6) scale(0.7900,1)" font-family="Liberation Sans" font-size="31.5" font-weight="normal" fill="#878787" text-anchor="middle" >15</text>
<text style="white-space:pre" transform="translate(662.5,3359.6) scale(0.7900,1)" font-family="Liberation Sans" font-size="31.5" font-weight="normal" fill="#878787" text-anchor="middle" >75</text>
<text style="white-space:pre" transform="translate(745.2,3359.6) scale(0.7900,1)" font-family="Liberation Sans" font-size="31.5" font-weight="normal" fill="#878787" text-anchor="middle" >27</text>
<text style="white-space:pre" transform="translate(828.2,3359.6) scale(0.7900,1)" font-family="Liberation Sans" font-size="31.5" font-weight="normal" fill="#878787" text-anchor="middle" >10</text>
<text style="white-space:pre" transform="translate(910.6,3359.6) scale(0.7900,1)" font-family="Liberation Sans" font-size="31.5" font-weight="normal" fill="#878787" text-anchor="middle" >47</text>
<text style="white-space:pre" transform="translate(993.0,3359.6) scale(0.7900,1)" font-family="Liberation Sans" font-size="31.5" font-weight="normal" fill="#878787" text-anchor="middle" >70</text>
<text style="white-space:pre" transform="translate(1076.0,3359.6) scale(0.7800,1)" font-family="Liberation Sans" font-size="31.5" font-weight="normal" fill="#878787" text-anchor="middle" >65,5</text>
<text style="white-space:pre" transform="translate(1158.8,3359.6) scale(0.7900,1)" font-family="Liberation Sans" font-size="31.5" font-weight="normal" fill="#878787" text-anchor="middle" >131</text>
<text style="white-space:pre" transform="translate(1241.5,3359.6) scale(0.7900,1)" font-family="Liberation Sans" font-size="31.5" font-weight="normal" fill="#878787" text-anchor="middle" >216</text>
<text style="white-space:pre" transform="translate(1324.1,3359.6) scale(0.7900,1)" font-family="Liberation Sans" font-size="31.5" font-weight="normal" fill="#878787" text-anchor="middle" >35</text>
<text style="white-space:pre" transform="translate(1445.9,3359.6) scale(0.7627,1)" font-family="Liberation Sans" font-size="31.5" font-weight="normal" fill="#878787" text-anchor="middle" >M12X1.25</text>
<text style="white-space:pre" transform="translate(1567.5,3359.6) scale(0.7900,1)" font-family="Liberation Sans" font-size="31.5" font-weight="normal" fill="#878787" text-anchor="middle" >182</text>
<text style="white-space:pre" transform="translate(1650.0,3359.6) scale(0.7760,1)" font-family="Liberation Sans" font-size="31.5" font-weight="normal" fill="#878787" text-anchor="middle" >6,2</text>
<text style="white-space:pre" transform="translate(1732.7,3359.6) scale(0.8465,1)" font-family="Liberation Sans" font-size="31.5" font-weight="normal" fill="#878787" text-anchor="middle" >11</text>
<text style="white-space:pre" transform="translate(1814.2,3359.6) scale(0.7900,1)" font-family="Liberation Sans" font-size="31.5" font-weight="normal" fill="#878787" text-anchor="middle" >18</text>
<text style="white-space:pre" transform="translate(1893.5,3359.6) scale(0.7900,1)" font-family="Liberation Sans" font-size="31.5" font-weight="normal" fill="#878787" text-anchor="middle" >64</text>
<text style="white-space:pre" transform="translate(1973.7,3359.6) scale(0.7559,1)" font-family="Liberation Sans" font-size="31.5" font-weight="normal" fill="#878787" text-anchor="middle" >Ø 16</text>
<text style="white-space:pre" transform="translate(2060.9,3359.6) scale(0.7559,1)" font-family="Liberation Sans" font-size="31.5" font-weight="normal" fill="#878787" text-anchor="middle" >G1/4</text>
<text style="white-space:pre" transform="translate(2176.7,3359.6) scale(0.7900,1)" font-family="Liberation Sans" font-size="31.5" font-weight="normal" fill="#878787" text-anchor="middle" >40</text>
<text style="white-space:pre" transform="translate(2334.7,3359.6) scale(0.7900,1)" font-family="Liberation Sans" font-size="31.5" font-weight="normal" fill="#878787" text-anchor="middle" >80</text>
<text style="white-space:pre" transform="translate(275.2,3406.0) scale(0.7618,1)" font-family="Liberation Sans" font-size="31.5" font-weight="normal" fill="#ffffff" text-anchor="middle" >682-6-M</text>
<text style="white-space:pre" transform="translate(414.5,3406.0) scale(0.7900,1)" font-family="Liberation Sans" font-size="31.5" font-weight="normal" fill="#ffffff" text-anchor="middle" >93</text>
<text style="white-space:pre" transform="translate(497.2,3406.0) scale(0.7900,1)" font-family="Liberation Sans" font-size="31.5" font-weight="normal" fill="#ffffff" text-anchor="middle" >105</text>
<text style="white-space:pre" transform="translate(579.8,3406.0) scale(0.7900,1)" font-family="Liberation Sans" font-size="31.5" font-weight="normal" fill="#ffffff" text-anchor="middle" >20</text>
<text style="white-space:pre" transform="translate(662.5,3406.0) scale(0.7900,1)" font-family="Liberation Sans" font-size="31.5" font-weight="normal" fill="#ffffff" text-anchor="middle" >85</text>
<text style="white-space:pre" transform="translate(745.2,3406.0) scale(0.7900,1)" font-family="Liberation Sans" font-size="31.5" font-weight="normal" fill="#ffffff" text-anchor="middle" >26</text>
<text style="white-space:pre" transform="translate(828.2,3406.0) scale(0.8465,1)" font-family="Liberation Sans" font-size="31.5" font-weight="normal" fill="#ffffff" text-anchor="middle" >11</text>
<text style="white-space:pre" transform="translate(910.6,3406.0) scale(0.7900,1)" font-family="Liberation Sans" font-size="31.5" font-weight="normal" fill="#ffffff" text-anchor="middle" >54</text>
<text style="white-space:pre" transform="translate(993.0,3406.0) scale(0.7900,1)" font-family="Liberation Sans" font-size="31.5" font-weight="normal" fill="#ffffff" text-anchor="middle" >83</text>
<text style="white-space:pre" transform="translate(1076.0,3406.0) scale(0.7900,1)" font-family="Liberation Sans" font-size="31.5" font-weight="normal" fill="#ffffff" text-anchor="middle" >71</text>
<text style="white-space:pre" transform="translate(1158.8,3406.0) scale(0.7900,1)" font-family="Liberation Sans" font-size="31.5" font-weight="normal" fill="#ffffff" text-anchor="middle" >158</text>
<text style="white-space:pre" transform="translate(1241.5,3406.0) scale(0.7900,1)" font-family="Liberation Sans" font-size="31.5" font-weight="normal" fill="#ffffff" text-anchor="middle" >249</text>
<text style="white-space:pre" transform="translate(1324.1,3406.0) scale(0.7900,1)" font-family="Liberation Sans" font-size="31.5" font-weight="normal" fill="#ffffff" text-anchor="middle" >40</text>
<text style="white-space:pre" transform="translate(1445.9,3406.0) scale(0.7627,1)" font-family="Liberation Sans" font-size="31.5" font-weight="normal" fill="#ffffff" text-anchor="middle" >M16X1,50</text>
<text style="white-space:pre" transform="translate(1567.5,3406.0) scale(0.7900,1)" font-family="Liberation Sans" font-size="31.5" font-weight="normal" fill="#ffffff" text-anchor="middle" >219</text>
<text style="white-space:pre" transform="translate(1650.0,3406.0) scale(0.7760,1)" font-family="Liberation Sans" font-size="31.5" font-weight="normal" fill="#ffffff" text-anchor="middle" >8,2</text>
<text style="white-space:pre" transform="translate(1732.7,3406.0) scale(0.7800,1)" font-family="Liberation Sans" font-size="31.5" font-weight="normal" fill="#ffffff" text-anchor="middle" >12,5</text>
<text style="white-space:pre" transform="translate(1814.2,3406.0) scale(0.7900,1)" font-family="Liberation Sans" font-size="31.5" font-weight="normal" fill="#ffffff" text-anchor="middle" >18</text>
<text style="white-space:pre" transform="translate(1893.5,3406.0) scale(0.7900,1)" font-family="Liberation Sans" font-size="31.5" font-weight="normal" fill="#ffffff" text-anchor="middle" >69</text>
<text style="white-space:pre" transform="translate(1973.7,3406.0) scale(0.7559,1)" font-family="Liberation Sans" font-size="31.5" font-weight="normal" fill="#ffffff" text-anchor="middle" >Ø 20</text>
<text style="white-space:pre" transform="translate(2060.9,3406.0) scale(0.7559,1)" font-family="Liberation Sans" font-size="31.5" font-weight="normal" fill="#ffffff" text-anchor="middle" >G1/4</text>
<text style="white-space:pre" transform="translate(2176.7,3406.0) scale(0.7900,1)" font-family="Liberation Sans" font-size="31.5" font-weight="normal" fill="#ffffff" text-anchor="middle" >50</text>
<text style="white-space:pre" transform="translate(2334.7,3406.0) scale(0.7900,1)" font-family="Liberation Sans" font-size="31.5" font-weight="normal" fill="#ffffff" text-anchor="middle" >100</text>
<text style="white-space:pre" transform="translate(275.2,3453.0) scale(0.7618,1)" font-family="Liberation Sans" font-size="31.5" font-weight="normal" fill="#878787" text-anchor="middle" >682-8-M</text>
<text style="white-space:pre" transform="translate(414.5,3453.0) scale(0.7900,1)" font-family="Liberation Sans" font-size="31.5" font-weight="normal" fill="#878787" text-anchor="middle" >125</text>
<text style="white-space:pre" transform="translate(497.2,3453.0) scale(0.7900,1)" font-family="Liberation Sans" font-size="31.5" font-weight="normal" fill="#878787" text-anchor="middle" >145</text>
<text style="white-space:pre" transform="translate(579.8,3453.0) scale(0.7900,1)" font-family="Liberation Sans" font-size="31.5" font-weight="normal" fill="#878787" text-anchor="middle" >30</text>
<text style="white-space:pre" transform="translate(662.5,3453.0) scale(0.8268,1)" font-family="Liberation Sans" font-size="31.5" font-weight="normal" fill="#878787" text-anchor="middle" >115</text>
<text style="white-space:pre" transform="translate(745.2,3453.0) scale(0.7900,1)" font-family="Liberation Sans" font-size="31.5" font-weight="normal" fill="#878787" text-anchor="middle" >40</text>
<text style="white-space:pre" transform="translate(828.2,3453.0) scale(0.7900,1)" font-family="Liberation Sans" font-size="31.5" font-weight="normal" fill="#878787" text-anchor="middle" >15</text>
<text style="white-space:pre" transform="translate(910.6,3453.0) scale(0.7900,1)" font-family="Liberation Sans" font-size="31.5" font-weight="normal" fill="#878787" text-anchor="middle" >67</text>
<text style="white-space:pre" transform="translate(993.0,3453.0) scale(0.8268,1)" font-family="Liberation Sans" font-size="31.5" font-weight="normal" fill="#878787" text-anchor="middle" >115</text>
<text style="white-space:pre" transform="translate(1076.0,3453.0) scale(0.7900,1)" font-family="Liberation Sans" font-size="31.5" font-weight="normal" fill="#878787" text-anchor="middle" >94</text>
<text style="white-space:pre" transform="translate(1158.8,3453.0) scale(0.7900,1)" font-family="Liberation Sans" font-size="31.5" font-weight="normal" fill="#878787" text-anchor="middle" >212</text>
<text style="white-space:pre" transform="translate(1241.5,3453.0) scale(0.7900,1)" font-family="Liberation Sans" font-size="31.5" font-weight="normal" fill="#878787" text-anchor="middle" >336</text>
<text style="white-space:pre" transform="translate(1324.1,3453.0) scale(0.7900,1)" font-family="Liberation Sans" font-size="31.5" font-weight="normal" fill="#878787" text-anchor="middle" >60</text>
<text style="white-space:pre" transform="translate(1445.9,3453.0) scale(0.7627,1)" font-family="Liberation Sans" font-size="31.5" font-weight="normal" fill="#878787" text-anchor="middle" >M16X1,50</text>
<text style="white-space:pre" transform="translate(1567.5,3453.0) scale(0.7900,1)" font-family="Liberation Sans" font-size="31.5" font-weight="normal" fill="#878787" text-anchor="middle" >288</text>
<text style="white-space:pre" transform="translate(1650.0,3453.0) scale(0.7800,1)" font-family="Liberation Sans" font-size="31.5" font-weight="normal" fill="#878787" text-anchor="middle" >12,2</text>
<text style="white-space:pre" transform="translate(1732.7,3453.0) scale(0.7800,1)" font-family="Liberation Sans" font-size="31.5" font-weight="normal" fill="#878787" text-anchor="middle" >16,5</text>
<text style="white-space:pre" transform="translate(1814.2,3453.0) scale(0.7900,1)" font-family="Liberation Sans" font-size="31.5" font-weight="normal" fill="#878787" text-anchor="middle" >18</text>
<text style="white-space:pre" transform="translate(1893.5,3453.0) scale(0.7900,1)" font-family="Liberation Sans" font-size="31.5" font-weight="normal" fill="#878787" text-anchor="middle" >92</text>
<text style="white-space:pre" transform="translate(1973.7,3453.0) scale(0.7559,1)" font-family="Liberation Sans" font-size="31.5" font-weight="normal" fill="#878787" text-anchor="middle" >Ø 20</text>
<text style="white-space:pre" transform="translate(2060.9,3453.0) scale(0.7559,1)" font-family="Liberation Sans" font-size="31.5" font-weight="normal" fill="#878787" text-anchor="middle" >G3/8</text>
<text style="white-space:pre" transform="translate(2176.7,3453.0) scale(0.7900,1)" font-family="Liberation Sans" font-size="31.5" font-weight="normal" fill="#878787" text-anchor="middle" >63</text>
<text style="white-space:pre" transform="translate(2334.7,3453.0) scale(0.7900,1)" font-family="Liberation Sans" font-size="31.5" font-weight="normal" fill="#878787" text-anchor="middle" >125</text>
<rect x="177.0" y="246.0" width="2244.0" height="12.0" fill="#f29108" />
<text style="white-space:pre" transform="translate(1696.0,161.8) scale(0.9032,1)" font-family="Liberation Sans" font-size="46" font-weight="bold" fill="#13628f" text-anchor="start" >Ağır İş Pnömatik Bağlantı Elemanları</text>
<text style="white-space:pre" transform="translate(1713.0,221.8) scale(0.8307,1)" font-family="Liberation Sans" font-size="50" font-weight="normal" fill="#13628f" text-anchor="start"  stroke="#ffffff" stroke-width="1.10">Heavy Duty Pneumatic Toggle Clamps</text>
<path d="M207.5,223.7 L180,183 Q176,178.5 179,174 L208.3,121.8 Q212,115.3 219,115.3 L243.3,119.4 Q247.5,120.5 250,123.5 L276.7,154.2 Q279,158.5 273.5,159.6 L243.3,158.6 Q240,158 238.4,156.1 L216.4,130.2 Q213.5,127.8 211.5,130.5 L184.7,176.4 Q183.5,179.6 185.5,182.5 L211.5,219.6 Q212.5,223.5 210,224.8 Q208.3,225.2 207.5,223.7 Z" fill="#13628f" stroke="none" stroke-width="0" /><path d="M216.4,139.2 Q219,138 221,140.2 L241.7,165.5 Q244,168.3 248,168.3 L284,166 L292.2,164.5 Q297.5,168 295.8,171.5 Q295,175 292.2,178 L259.6,217.1 Q256,220.4 251.5,220.4 L227,219.6 Q220,218.5 215.6,213.1 L194,181 Q191.5,177 194,172.5 L214,141.5 Q215,139.8 216.4,139.2 Z" fill="#f29108" stroke="none" stroke-width="0" /><path d="M261.6,129.3 L287.5,162.5" fill="none" stroke="#f29108" stroke-width="5.8" stroke-linecap="round"/><rect x="300.7" y="130.7" width="11.4" height="62.9" fill="#13628f"/><path d="M312.1,157 L334.5,130.7 L346.4,130.7 L312.1,171 Z" fill="#13628f" stroke="none" stroke-width="0" /><path d="M312,163.5 H329 Q340.7,163.5 340.7,175.5 V193.6" fill="none" stroke="#13628f" stroke-width="11.4" /><rect x="397.9" y="130.7" width="11.4" height="62.9" fill="#13628f"/><path d="M409.3,157 L431.7,130.7 L443.59999999999997,130.7 L409.3,171 Z" fill="#13628f" stroke="none" stroke-width="0" /><path d="M409.2,163.5 H426.2 Q437.9,163.5 437.9,175.5 V193.6" fill="none" stroke="#13628f" stroke-width="11.4" /><path d="M361.3,130.7 V179 Q361.3,187.9 370,187.9 H374.4 Q383.1,187.9 383.1,179 V130.7" fill="none" stroke="#13628f" stroke-width="11.4" /><path d="M458.5,193.6 V146 Q458.5,136.4 468,136.4 H485.6 Q495.1,136.4 495.1,146 V193.6" fill="none" stroke="#13628f" stroke-width="11.4" /><rect x="458.5" y="159.5" width="36.6" height="9.5" fill="#13628f"/><path d="M515.7,193.6 V146 Q515.7,136.4 525,136.4 H552 Q561.3,136.4 561.3,146 V193.6" fill="none" stroke="#13628f" stroke-width="11.4" /><rect x="532.8" y="136.4" width="11.4" height="57.2" fill="#13628f"/><rect x="577.4" y="130.7" width="11.4" height="62.9" fill="#13628f"/><rect x="577.4" y="130.7" width="35.5" height="10.5" fill="#13628f"/><rect x="577.4" y="157.2" width="31.5" height="9.2" fill="#13628f"/><rect x="577.4" y="183.1" width="35.5" height="10.5" fill="#13628f"/><rect x="616.3" y="130.7" width="36.6" height="10.5" fill="#13628f"/><rect x="628.9" y="130.7" width="11.4" height="62.9" fill="#13628f"/>
<text style="white-space:pre" transform="translate(300.0,223.5) scale(0.5911,1)" font-family="Liberation Sans" font-size="24.7" font-weight="bold" fill="#13628f" text-anchor="start" >HIZLI BAĞLANTI ELEMANLARI / TOGGLE CLAMPS</text>
<rect x="177.2" y="3482.0" width="2244.3" height="11.6" fill="#f29108" />
<text style="white-space:pre" transform="translate(178.0,3540.5) scale(0.7993,1)" font-family="Liberation Sans" font-size="36.5" font-weight="normal" fill="#8a8a8a" text-anchor="start" >Dimensions and technical data are subject to change without notice.</text>
<text style="white-space:pre" transform="translate(1155.0,3540.5) scale(0.7950,1)" font-family="Liberation Sans" font-size="36.5" font-weight="normal" fill="#8a8a8a" text-anchor="start" >-www.kukamet.com.tr-</text>
<text style="white-space:pre" transform="translate(2418.8,3541.8) scale(0.7432,1)" font-family="Liberation Sans" font-size="50" font-weight="normal" fill="#f29108" text-anchor="end" >103</text>
<g transform="translate(0,0)">
<path d="M895.8,836 C897,812 930,796 999,792.3 C1068,792.3 1103,812 1105.6,837 L1082,925 C1075,950 1068,970 1054.4,977 Q1030,988.5 999,988.3 Q968,988.5 943.2,977 C930,970 923,950 916,925 Z" fill="#f29200" stroke="none" stroke-width="1.6" />
<path d="M900,836.5 Q1000,866 1101,837.5" fill="none" stroke="#e6780a" stroke-width="2.4" />
</g>
<text style="white-space:pre" transform="translate(1000.0,919.8) scale(0.7392,1)" font-family="Liberation Sans" font-size="75" font-weight="normal" fill="#ffffff" text-anchor="middle" >682</text>
<g transform="translate(177.5,1557.3)">
<path d="M895.8,836 C897,812 930,796 999,792.3 C1068,792.3 1103,812 1105.6,837 L1082,925 C1075,950 1068,970 1054.4,977 Q1030,988.5 999,988.3 Q968,988.5 943.2,977 C930,970 923,950 916,925 Z" fill="#f29200" stroke="none" stroke-width="1.6" />
<path d="M900,836.5 Q1000,866 1101,837.5" fill="none" stroke="#e6780a" stroke-width="2.4" />
</g>
<text style="white-space:pre" transform="translate(1177.5,2475.4) scale(0.7974,1)" font-family="Liberation Sans" font-size="73" font-weight="normal" fill="#ffffff" text-anchor="middle" >682-M</text>
<text style="white-space:pre" transform="translate(956.7,1157.0) scale(0.8168,1)" font-family="Liberation Sans" font-size="50" font-weight="bold" fill="#17628e" text-anchor="start" >Ayak Tipi: Dikey Pistonlu</text>
<text style="white-space:pre" transform="translate(956.7,1217.6) scale(0.9278,1)" font-family="Liberation Sans" font-size="46" font-weight="normal" fill="#17628e" text-anchor="start"  stroke="#ffffff" stroke-width="1.00">Body Mounting Base: Vertical Piston</text>
<text style="white-space:pre" transform="translate(959.0,1269.0) scale(0.8600,1)" font-family="Liberation Sans" font-size="28" font-weight="bold" fill="#17628e" text-anchor="start" >Pistonlar çift etkili, manyetik ve yastıklamalıdır.</text>
<text style="white-space:pre" transform="translate(959.0,1304.8) scale(0.8801,1)" font-family="Liberation Sans" font-size="28" font-weight="normal" fill="#17628e" text-anchor="start"  stroke="#ffffff" stroke-width="0.50">Pneumatic cylinders are double acting, magnetic and cushioning.</text>
<text style="white-space:pre" transform="translate(1133.6,2946.0) scale(0.8506,1)" font-family="Liberation Sans" font-size="48" font-weight="bold" fill="#17628e" text-anchor="start" >Ayak Tipi: Yatay Tabanlı</text>
<text style="white-space:pre" transform="translate(1135.0,3006.5) scale(0.9070,1)" font-family="Liberation Sans" font-size="47" font-weight="normal" fill="#17628e" text-anchor="start"  stroke="#ffffff" stroke-width="1.00">Body Mounting Base: Horizontal</text>
<text style="white-space:pre" transform="translate(1066.6,1554.4) scale(0.8759,1)" font-family="Liberation Sans" font-size="29" font-weight="normal" fill="#5a5a5a" text-anchor="middle" >682-M</text>
<text style="white-space:pre" transform="translate(1289.0,1554.4) scale(0.8680,1)" font-family="Liberation Sans" font-size="29" font-weight="normal" fill="#5a5a5a" text-anchor="middle" >6031</text>
<text style="white-space:pre" transform="translate(1066.5,1594.7) scale(0.8534,1)" font-family="Liberation Sans" font-size="29" font-weight="normal" fill="#5a5a5a" text-anchor="middle" >Sayfa/Page: 103</text>
<text style="white-space:pre" transform="translate(1289.9,1594.7) scale(0.8520,1)" font-family="Liberation Sans" font-size="29" font-weight="normal" fill="#5a5a5a" text-anchor="middle" >Sayfa/Page: 133</text>
<text style="white-space:pre" transform="translate(1229.2,3214.6) scale(0.8742,1)" font-family="Liberation Sans" font-size="29" font-weight="normal" fill="#5a5a5a" text-anchor="middle" >252</text>
<text style="white-space:pre" transform="translate(1442.5,3214.6) scale(0.8887,1)" font-family="Liberation Sans" font-size="29" font-weight="normal" fill="#5a5a5a" text-anchor="middle" >681</text>
<text style="white-space:pre" transform="translate(1658.0,3214.6) scale(0.8680,1)" font-family="Liberation Sans" font-size="29" font-weight="normal" fill="#5a5a5a" text-anchor="middle" >682</text>
<text style="white-space:pre" transform="translate(1229.2,3254.7) scale(0.8507,1)" font-family="Liberation Sans" font-size="29" font-weight="normal" fill="#5a5a5a" text-anchor="middle" >Sayfa/Page: 51</text>
<text style="white-space:pre" transform="translate(1443.2,3254.7) scale(0.8543,1)" font-family="Liberation Sans" font-size="29" font-weight="normal" fill="#5a5a5a" text-anchor="middle" >Sayfa/Page: 102</text>
<text style="white-space:pre" transform="translate(1657.6,3254.7) scale(0.8562,1)" font-family="Liberation Sans" font-size="29" font-weight="normal" fill="#5a5a5a" text-anchor="middle" >Sayfa/Page: 103</text>
<rect x="553.4" y="282.8" width="68" height="126" fill="none" stroke="#1e1e1e" stroke-width="1.2" stroke-dasharray="3,2.5"/>
<filter id="ml1" x="-5%" y="-10%" width="110%" height="120%" color-interpolation-filters="sRGB"><feMorphology in="SourceAlpha" operator="dilate" radius="4.5" result="d"/><feMorphology in="SourceAlpha" operator="erode" radius="2.0" result="e"/><feComposite in="d" in2="e" operator="out" result="ring"/><feFlood flood-color="#111"/><feComposite in2="ring" operator="in"/></filter>
<g transform="translate(620.4,268) rotate(90) scale(0.1975)" filter="url(#ml1)"><path d="M207.5,223.7 L180,183 Q176,178.5 179,174 L208.3,121.8 Q212,115.3 219,115.3 L243.3,119.4 Q247.5,120.5 250,123.5 L276.7,154.2 Q279,158.5 273.5,159.6 L243.3,158.6 Q240,158 238.4,156.1 L216.4,130.2 Q213.5,127.8 211.5,130.5 L184.7,176.4 Q183.5,179.6 185.5,182.5 L211.5,219.6 Q212.5,223.5 210,224.8 Q208.3,225.2 207.5,223.7 Z" fill="#000" stroke="none" stroke-width="0" /><path d="M216.4,139.2 Q219,138 221,140.2 L241.7,165.5 Q244,168.3 248,168.3 L284,166 L292.2,164.5 Q297.5,168 295.8,171.5 Q295,175 292.2,178 L259.6,217.1 Q256,220.4 251.5,220.4 L227,219.6 Q220,218.5 215.6,213.1 L194,181 Q191.5,177 194,172.5 L214,141.5 Q215,139.8 216.4,139.2 Z" fill="#000" stroke="none" stroke-width="0" /><path d="M261.6,129.3 L287.5,162.5" fill="none" stroke="#000" stroke-width="5.8" stroke-linecap="round"/><rect x="300.7" y="130.7" width="11.4" height="62.9" fill="#000"/><path d="M312.1,157 L334.5,130.7 L346.4,130.7 L312.1,171 Z" fill="#000" stroke="none" stroke-width="0" /><path d="M312,163.5 H329 Q340.7,163.5 340.7,175.5 V193.6" fill="none" stroke="#000" stroke-width="11.4" /><rect x="397.9" y="130.7" width="11.4" height="62.9" fill="#000"/><path d="M409.3,157 L431.7,130.7 L443.59999999999997,130.7 L409.3,171 Z" fill="#000" stroke="none" stroke-width="0" /><path d="M409.2,163.5 H426.2 Q437.9,163.5 437.9,175.5 V193.6" fill="none" stroke="#000" stroke-width="11.4" /><path d="M361.3,130.7 V179 Q361.3,187.9 370,187.9 H374.4 Q383.1,187.9 383.1,179 V130.7" fill="none" stroke="#000" stroke-width="11.4" /><path d="M458.5,193.6 V146 Q458.5,136.4 468,136.4 H485.6 Q495.1,136.4 495.1,146 V193.6" fill="none" stroke="#000" stroke-width="11.4" /><rect x="458.5" y="159.5" width="36.6" height="9.5" fill="#000"/><path d="M515.7,193.6 V146 Q515.7,136.4 525,136.4 H552 Q561.3,136.4 561.3,146 V193.6" fill="none" stroke="#000" stroke-width="11.4" /><rect x="532.8" y="136.4" width="11.4" height="57.2" fill="#000"/><rect x="577.4" y="130.7" width="11.4" height="62.9" fill="#000"/><rect x="577.4" y="130.7" width="35.5" height="10.5" fill="#000"/><rect x="577.4" y="157.2" width="31.5" height="9.2" fill="#000"/><rect x="577.4" y="183.1" width="35.5" height="10.5" fill="#000"/><rect x="616.3" y="130.7" width="36.6" height="10.5" fill="#000"/><rect x="628.9" y="130.7" width="11.4" height="62.9" fill="#000"/></g>
<line x1="621.4" y1="283.2" x2="807.0" y2="283.2" stroke="#1e1e1e" stroke-width="1.2" />
<line x1="806.5" y1="283.2" x2="806.5" y2="1165.0" stroke="#1e1e1e" stroke-width="1.2" />
<path d="M806.5,283.2 L809.7,295.2 L803.3,295.2 Z" fill="#1e1e1e" stroke="none" stroke-width="1.6" />
<path d="M806.5,1165.0 L803.3,1153.0 L809.7,1153.0 Z" fill="#1e1e1e" stroke="none" stroke-width="1.6" />
<text style="white-space:pre" transform="translate(796.0,725.0) rotate(-90) scale(0.8200,1)" font-family="Liberation Sans" font-size="22" font-weight="normal" fill="#1e1e1e" text-anchor="middle"  stroke="#ffffff" stroke-width="0.70">H2</text>
<path d="M359.8,504.3 A193.6,193.6 0 0 1 553.4,310.7" fill="none" stroke="#1e1e1e" stroke-width="1.2" />
<path d="M359.8,504.3 L356.6,492.3 L363.0,492.3 Z" fill="#1e1e1e" stroke="none" stroke-width="1.6" />
<path d="M553.4,310.7 L541.4,313.9 L541.4,307.5 Z" fill="#1e1e1e" stroke="none" stroke-width="1.6" />
<path id="arc1" d="M362.4,427.1 A206,206 0 0 1 489.7,308.4" fill="none"/>
<text font-family="Liberation Sans" font-size="22" fill="#1e1e1e" stroke="#fff" stroke-width="0.7"><textPath href="#arc1" startOffset="7.6" textLength="151" lengthAdjust="spacing">ACI ( ANGLE )</textPath></text>
<line x1="230.0" y1="504.6" x2="493.0" y2="504.6" stroke="#1e1e1e" stroke-width="1.5" />
<line x1="230.0" y1="573.0" x2="474.0" y2="573.0" stroke="#1e1e1e" stroke-width="1.8" />
<line x1="327.8" y1="504.6" x2="327.8" y2="836.0" stroke="#1e1e1e" stroke-width="1.5" />
<filter id="ml2" x="-5%" y="-10%" width="110%" height="120%" color-interpolation-filters="sRGB"><feMorphology in="SourceAlpha" operator="dilate" radius="4.5" result="d"/><feMorphology in="SourceAlpha" operator="erode" radius="2.0" result="e"/><feComposite in="d" in2="e" operator="out" result="ring"/><feFlood flood-color="#111"/><feComposite in2="ring" operator="in"/></filter>
<g transform="translate(313.5,505.3) scale(0.1975)" filter="url(#ml2)"><path d="M207.5,223.7 L180,183 Q176,178.5 179,174 L208.3,121.8 Q212,115.3 219,115.3 L243.3,119.4 Q247.5,120.5 250,123.5 L276.7,154.2 Q279,158.5 273.5,159.6 L243.3,158.6 Q240,158 238.4,156.1 L216.4,130.2 Q213.5,127.8 211.5,130.5 L184.7,176.4 Q183.5,179.6 185.5,182.5 L211.5,219.6 Q212.5,223.5 210,224.8 Q208.3,225.2 207.5,223.7 Z" fill="#000" stroke="none" stroke-width="0" /><path d="M216.4,139.2 Q219,138 221,140.2 L241.7,165.5 Q244,168.3 248,168.3 L284,166 L292.2,164.5 Q297.5,168 295.8,171.5 Q295,175 292.2,178 L259.6,217.1 Q256,220.4 251.5,220.4 L227,219.6 Q220,218.5 215.6,213.1 L194,181 Q191.5,177 194,172.5 L214,141.5 Q215,139.8 216.4,139.2 Z" fill="#000" stroke="none" stroke-width="0" /><path d="M261.6,129.3 L287.5,162.5" fill="none" stroke="#000" stroke-width="5.8" stroke-linecap="round"/><rect x="300.7" y="130.7" width="11.4" height="62.9" fill="#000"/><path d="M312.1,157 L334.5,130.7 L346.4,130.7 L312.1,171 Z" fill="#000" stroke="none" stroke-width="0" /><path d="M312,163.5 H329 Q340.7,163.5 340.7,175.5 V193.6" fill="none" stroke="#000" stroke-width="11.4" /><rect x="397.9" y="130.7" width="11.4" height="62.9" fill="#000"/><path d="M409.3,157 L431.7,130.7 L443.59999999999997,130.7 L409.3,171 Z" fill="#000" stroke="none" stroke-width="0" /><path d="M409.2,163.5 H426.2 Q437.9,163.5 437.9,175.5 V193.6" fill="none" stroke="#000" stroke-width="11.4" /><path d="M361.3,130.7 V179 Q361.3,187.9 370,187.9 H374.4 Q383.1,187.9 383.1,179 V130.7" fill="none" stroke="#000" stroke-width="11.4" /><path d="M458.5,193.6 V146 Q458.5,136.4 468,136.4 H485.6 Q495.1,136.4 495.1,146 V193.6" fill="none" stroke="#000" stroke-width="11.4" /><rect x="458.5" y="159.5" width="36.6" height="9.5" fill="#000"/><path d="M515.7,193.6 V146 Q515.7,136.4 525,136.4 H552 Q561.3,136.4 561.3,146 V193.6" fill="none" stroke="#000" stroke-width="11.4" /><rect x="532.8" y="136.4" width="11.4" height="57.2" fill="#000"/><rect x="577.4" y="130.7" width="11.4" height="62.9" fill="#000"/><rect x="577.4" y="130.7" width="35.5" height="10.5" fill="#000"/><rect x="577.4" y="157.2" width="31.5" height="9.2" fill="#000"/><rect x="577.4" y="183.1" width="35.5" height="10.5" fill="#000"/><rect x="616.3" y="130.7" width="36.6" height="10.5" fill="#000"/><rect x="628.9" y="130.7" width="11.4" height="62.9" fill="#000"/></g>
<circle cx="482.5" cy="540.6" r="9.4" fill="none" stroke="#1a1a1a" stroke-width="2.2" />
<line x1="230.0" y1="504.6" x2="230.0" y2="573.0" stroke="#1e1e1e" stroke-width="1.2" />
<path d="M230.0,504.6 L233.2,516.6 L226.8,516.6 Z" fill="#1e1e1e" stroke="none" stroke-width="1.6" />
<path d="M230.0,573.0 L226.8,561.0 L233.2,561.0 Z" fill="#1e1e1e" stroke="none" stroke-width="1.6" />
<line x1="230.0" y1="573.0" x2="230.0" y2="699.5" stroke="#1e1e1e" stroke-width="1.2" />
<path d="M230.0,573.0 L233.2,585.0 L226.8,585.0 Z" fill="#1e1e1e" stroke="none" stroke-width="1.6" />
<path d="M230.0,699.5 L226.8,687.5 L233.2,687.5 Z" fill="#1e1e1e" stroke="none" stroke-width="1.6" />
<text style="white-space:pre" transform="translate(219.0,538.5) rotate(-90) scale(0.8200,1)" font-family="Liberation Sans" font-size="22" font-weight="normal" fill="#1e1e1e" text-anchor="middle"  stroke="#ffffff" stroke-width="0.70">J</text>
<text style="white-space:pre" transform="translate(219.0,636.0) rotate(-90) scale(0.8200,1)" font-family="Liberation Sans" font-size="24" font-weight="normal" fill="#1e1e1e" text-anchor="middle"  stroke="#ffffff" stroke-width="0.77">G</text>
<text style="white-space:pre" transform="translate(216.0,611.0) rotate(-90) scale(0.8200,1)" font-family="Liberation Sans" font-size="14" font-weight="normal" fill="#1e1e1e" text-anchor="middle"  stroke="#ffffff" stroke-width="0.45">±0,5</text>
<line x1="230.0" y1="699.5" x2="754.0" y2="699.5" stroke="#1e1e1e" stroke-width="1.2" />
<path d="M336.7,466.0 L352.7,466.0 L344.7,494.0 Z" fill="#fff" stroke="#1e1e1e" stroke-width="1.2" />
<line x1="344.7" y1="461.0" x2="344.7" y2="498.0" stroke="#1e1e1e" stroke-width="1.2" />
<text style="white-space:pre" transform="translate(315.0,485.7) scale(0.8200,1)" font-family="Liberation Sans" font-size="22" font-weight="normal" fill="#1e1e1e" text-anchor="middle"  stroke="#ffffff" stroke-width="0.70">F2</text>
<path d="M420.8,467.0 L436.8,467.0 L428.8,495.0 Z" fill="#fff" stroke="#1e1e1e" stroke-width="1.2" />
<line x1="428.8" y1="462.0" x2="428.8" y2="499.0" stroke="#1e1e1e" stroke-width="1.2" />
<text style="white-space:pre" transform="translate(402.0,489.5) scale(0.8200,1)" font-family="Liberation Sans" font-size="22" font-weight="normal" fill="#1e1e1e" text-anchor="middle"  stroke="#ffffff" stroke-width="0.70">F1</text>
<path d="M336.7,612.0 L352.7,612.0 L344.7,578.0 Z" fill="#fff" stroke="#1e1e1e" stroke-width="1.2" />
<line x1="344.7" y1="578.0" x2="344.7" y2="788.0" stroke="#1e1e1e" stroke-width="1.2" />
<text style="white-space:pre" transform="translate(310.5,605.6) scale(0.8200,1)" font-family="Liberation Sans" font-size="22" font-weight="normal" fill="#1e1e1e" text-anchor="middle"  stroke="#ffffff" stroke-width="0.70">F4</text>
<path d="M420.8,612.0 L436.8,612.0 L428.8,578.0 Z" fill="#fff" stroke="#1e1e1e" stroke-width="1.2" />
<line x1="428.8" y1="578.0" x2="428.8" y2="735.0" stroke="#1e1e1e" stroke-width="1.2" />
<text style="white-space:pre" transform="translate(401.5,605.6) scale(0.8200,1)" font-family="Liberation Sans" font-size="22" font-weight="normal" fill="#1e1e1e" text-anchor="middle"  stroke="#ffffff" stroke-width="0.70">F3</text>
<path d="M474,699.5 L474,574 Q474,564.5 483,564.5 L493,564.5" fill="none" stroke="#1e1e1e" stroke-width="1.5" />
<line x1="474.0" y1="672.5" x2="624.3" y2="672.5" stroke="#1e1e1e" stroke-width="1.2" />
<line x1="474.0" y1="676.3" x2="624.3" y2="676.3" stroke="#1e1e1e" stroke-width="1.2" />
<line x1="485.3" y1="676.3" x2="485.3" y2="699.5" stroke="#1e1e1e" stroke-width="1.0" />
<path d="M567.8,674.0 L569.8,662.0 L586.8,662.0 L588.8,674.0" fill="none" stroke="#1e1e1e" stroke-width="1.2" />
<path d="M603.2,674.0 L605.2,662.0 L622.2,662.0 L624.2,674.0" fill="none" stroke="#1e1e1e" stroke-width="1.2" />
<path d="M493,603 L493,470 Q493,446.5 518,446.5 Q535,446.5 540,462 C548,490 570,513 598,513.5 C622,514 636,489 657,489.2 Q681,489.2 681,513.5 Q681,524 674.5,531.8 C655,548 625,560 598,585 C580,600 565,615 548,625 Q533,635 518,635.3 Q493,635 493,611 Z" fill="none" stroke="#1e1e1e" stroke-width="1.5" />
<circle cx="517.8" cy="470.7" r="16.5" fill="none" stroke="#1a1a1a" stroke-width="1.3" />
<circle cx="517.8" cy="470.7" r="13.2" fill="none" stroke="#1a1a1a" stroke-width="1.3" />
<circle cx="512.8" cy="486.2" r="2.2" fill="#fff" stroke="#1a1a1a" stroke-width="1.0" />
<circle cx="522.8" cy="486.2" r="2.2" fill="#fff" stroke="#1a1a1a" stroke-width="1.0" />
<line x1="516.3" y1="483.9" x2="516.3" y2="489.2" stroke="#1e1e1e" stroke-width="1.0" />
<line x1="519.3" y1="483.9" x2="519.3" y2="489.2" stroke="#1e1e1e" stroke-width="1.0" />
<circle cx="656.9" cy="513.7" r="16.5" fill="none" stroke="#1a1a1a" stroke-width="1.3" />
<circle cx="656.9" cy="513.7" r="13.2" fill="none" stroke="#1a1a1a" stroke-width="1.3" />
<circle cx="651.9" cy="529.2" r="2.2" fill="#fff" stroke="#1a1a1a" stroke-width="1.0" />
<circle cx="661.9" cy="529.2" r="2.2" fill="#fff" stroke="#1a1a1a" stroke-width="1.0" />
<line x1="655.4" y1="526.9" x2="655.4" y2="532.2" stroke="#1e1e1e" stroke-width="1.0" />
<line x1="658.4" y1="526.9" x2="658.4" y2="532.2" stroke="#1e1e1e" stroke-width="1.0" />
<circle cx="517.8" cy="610.2" r="16.5" fill="none" stroke="#1a1a1a" stroke-width="1.3" />
<circle cx="517.8" cy="610.2" r="13.2" fill="none" stroke="#1a1a1a" stroke-width="1.3" />
<circle cx="512.8" cy="625.7" r="2.2" fill="#fff" stroke="#1a1a1a" stroke-width="1.0" />
<circle cx="522.8" cy="625.7" r="2.2" fill="#fff" stroke="#1a1a1a" stroke-width="1.0" />
<line x1="516.3" y1="623.4" x2="516.3" y2="628.7" stroke="#1e1e1e" stroke-width="1.0" />
<line x1="519.3" y1="623.4" x2="519.3" y2="628.7" stroke="#1e1e1e" stroke-width="1.0" />
<line x1="518.0" y1="446.6" x2="755.0" y2="446.6" stroke="#1e1e1e" stroke-width="1.2" />
<line x1="754.8" y1="446.6" x2="754.8" y2="699.5" stroke="#1e1e1e" stroke-width="1.2" />
<path d="M754.8,446.6 L758.0,458.6 L751.6,458.6 Z" fill="#1e1e1e" stroke="none" stroke-width="1.6" />
<path d="M754.8,699.5 L751.6,687.5 L758.0,687.5 Z" fill="#1e1e1e" stroke="none" stroke-width="1.6" />
<text style="white-space:pre" transform="translate(744.0,573.5) rotate(-90) scale(0.8200,1)" font-family="Liberation Sans" font-size="22" font-weight="normal" fill="#1e1e1e" text-anchor="middle"  stroke="#ffffff" stroke-width="0.70">H</text>
<line x1="624.3" y1="564.9" x2="624.3" y2="1165.0" stroke="#1e1e1e" stroke-width="1.5" />
<path d="M632.8,559.0 L630.0,576.0 L629.6,590.0 L668.0,594.0 L671.0,580.0 L670.0,562.0" fill="none" stroke="#1e1e1e" stroke-width="1.2" />
<path d="M629.6,577.0 L671.0,581.0" fill="none" stroke="#1e1e1e" stroke-width="1.0" />
<path d="M629.6,589.0 L670.0,593.0" fill="none" stroke="#1e1e1e" stroke-width="1.0" />
<line x1="635.0" y1="578.0" x2="633.0" y2="592.0" stroke="#1e1e1e" stroke-width="1.0" />
<line x1="664.0" y1="581.0" x2="662.0" y2="594.0" stroke="#1e1e1e" stroke-width="1.0" />
<line x1="633.0" y1="594.0" x2="630.0" y2="605.0" stroke="#1e1e1e" stroke-width="1.2" />
<line x1="666.0" y1="594.0" x2="663.0" y2="607.0" stroke="#1e1e1e" stroke-width="1.2" />
<path d="M630.0,605.0 L663.0,607.0" fill="none" stroke="#1e1e1e" stroke-width="1.2" />
<line x1="630.0" y1="606.0" x2="624.3" y2="690.0" stroke="#1e1e1e" stroke-width="1.2" />
<line x1="663.0" y1="608.0" x2="648.3" y2="756.0" stroke="#1e1e1e" stroke-width="1.2" />
<line x1="597.6" y1="554.6" x2="703.0" y2="565.0" stroke="#1e1e1e" stroke-width="1.0" />
<path d="M632.5,558.0 L620.3,560.1 L620.8,553.8 Z" fill="#1e1e1e" stroke="none" stroke-width="1.6" />
<path d="M670.5,561.8 L682.7,559.7 L682.2,566.0 Z" fill="#1e1e1e" stroke="none" stroke-width="1.6" />
<text style="white-space:pre" transform="translate(700.0,557.0) scale(0.8200,1)" font-family="Liberation Sans" font-size="21" font-weight="normal" fill="#1e1e1e" text-anchor="middle"  stroke="#ffffff" stroke-width="0.67">K</text>
<path d="M637.0,644.0 L652.0,644.0 L644.5,612.8 Z" fill="#fff" stroke="#1e1e1e" stroke-width="1.1" />
<line x1="644.5" y1="612.0" x2="644.5" y2="649.0" stroke="#1e1e1e" stroke-width="1.1" />
<text style="white-space:pre" transform="translate(677.0,640.0) scale(0.8200,1)" font-family="Liberation Sans" font-size="21" font-weight="normal" fill="#1e1e1e" text-anchor="middle"  stroke="#ffffff" stroke-width="0.67">Fi</text>
<line x1="582.7" y1="684.2" x2="685.0" y2="693.8" stroke="#1e1e1e" stroke-width="1.0" />
<path d="M624.0,687.5 L611.8,689.6 L612.3,683.3 Z" fill="#1e1e1e" stroke="none" stroke-width="1.6" />
<path d="M655.0,691.0 L667.2,688.9 L666.7,695.2 Z" fill="#1e1e1e" stroke="none" stroke-width="1.6" />
<text style="white-space:pre" transform="translate(685.0,682.0) scale(0.8200,1)" font-family="Liberation Sans" font-size="21" font-weight="normal" fill="#1e1e1e" text-anchor="middle"  stroke="#ffffff" stroke-width="0.67">P</text>
<line x1="428.8" y1="700.0" x2="428.8" y2="736.0" stroke="#1e1e1e" stroke-width="1.0" />
<line x1="473.6" y1="700.0" x2="473.6" y2="836.0" stroke="#1e1e1e" stroke-width="1.0" />
<line x1="344.7" y1="700.0" x2="344.7" y2="788.0" stroke="#1e1e1e" stroke-width="1.0" />
<line x1="428.6" y1="735.4" x2="473.4" y2="735.4" stroke="#1e1e1e" stroke-width="1.2" />
<path d="M428.6,735.4 L416.6,738.6 L416.6,732.2 Z" fill="#1e1e1e" stroke="none" stroke-width="1.6" />
<path d="M473.4,735.4 L485.4,732.2 L485.4,738.6 Z" fill="#1e1e1e" stroke="none" stroke-width="1.6" />
<line x1="387.0" y1="735.4" x2="515.0" y2="735.4" stroke="#1e1e1e" stroke-width="1.0" />
<text style="white-space:pre" transform="translate(451.0,728.0) scale(0.8200,1)" font-family="Liberation Sans" font-size="22" font-weight="normal" fill="#1e1e1e" text-anchor="middle"  stroke="#ffffff" stroke-width="0.70">X1</text>
<line x1="344.7" y1="787.8" x2="473.4" y2="787.8" stroke="#1e1e1e" stroke-width="1.2" />
<path d="M344.7,787.8 L356.7,784.6 L356.7,791.0 Z" fill="#1e1e1e" stroke="none" stroke-width="1.6" />
<path d="M473.4,787.8 L461.4,791.0 L461.4,784.6 Z" fill="#1e1e1e" stroke="none" stroke-width="1.6" />
<text style="white-space:pre" transform="translate(409.0,781.0) scale(0.8200,1)" font-family="Liberation Sans" font-size="22" font-weight="normal" fill="#1e1e1e" text-anchor="middle"  stroke="#ffffff" stroke-width="0.70">X2</text>
<line x1="327.6" y1="836.0" x2="473.4" y2="836.0" stroke="#1e1e1e" stroke-width="1.2" />
<path d="M327.6,836.0 L339.6,832.8 L339.6,839.2 Z" fill="#1e1e1e" stroke="none" stroke-width="1.6" />
<path d="M473.4,836.0 L461.4,839.2 L461.4,832.8 Z" fill="#1e1e1e" stroke="none" stroke-width="1.6" />
<text style="white-space:pre" transform="translate(400.5,829.5) scale(0.8200,1)" font-family="Liberation Sans" font-size="22" font-weight="normal" fill="#1e1e1e" text-anchor="middle"  stroke="#ffffff" stroke-width="0.70">C</text>
<path d="M566.5,699.5 L566.5,1148 Q566.5,1165 583,1165 L607,1165 Q623.8,1165 623.8,1148 L623.8,699.5" fill="none" stroke="#1e1e1e" stroke-width="1.5" />
<circle cx="595.2" cy="1129.5" r="14.5" fill="none" stroke="#1a1a1a" stroke-width="2.6" />
<line x1="566.5" y1="1165.0" x2="807.0" y2="1165.0" stroke="#1e1e1e" stroke-width="1.2" />
<line x1="754.3" y1="699.5" x2="754.3" y2="1165.0" stroke="#1e1e1e" stroke-width="1.2" />
<path d="M754.3,699.5 L757.5,711.5 L751.1,711.5 Z" fill="#1e1e1e" stroke="none" stroke-width="1.6" />
<path d="M754.3,1165.0 L751.1,1153.0 L757.5,1153.0 Z" fill="#1e1e1e" stroke="none" stroke-width="1.6" />
<text style="white-space:pre" transform="translate(744.0,931.0) rotate(-90) scale(0.8200,1)" font-family="Liberation Sans" font-size="22" font-weight="normal" fill="#1e1e1e" text-anchor="middle"  stroke="#ffffff" stroke-width="0.70">H1</text>
<line x1="566.3" y1="903.0" x2="540.5" y2="1150.0" stroke="#1e1e1e" stroke-width="1.2" />
<line x1="566.3" y1="1040.0" x2="555.0" y2="1150.0" stroke="#1e1e1e" stroke-width="1.0" />
<path d="M545.5,1098.0 L566.5,1100.0 L566.5,1152.0 L540.5,1150.0" fill="none" stroke="#1e1e1e" stroke-width="1.2" />
<path d="M624.5,755.0 L648.3,757.0 L648.3,761.0" fill="none" stroke="#1e1e1e" stroke-width="1.2" />
<path d="M632.5,759.5 L666.3,763.5 L662.6,800.5" fill="none" stroke="#1e1e1e" stroke-width="1.2" />
<line x1="632.5" y1="759.5" x2="628.0" y2="797.0" stroke="#1e1e1e" stroke-width="1.2" />
<path d="M624.5,797.0 L680.6,802.0 L675.3,854.7 L624.5,850.0" fill="none" stroke="#1e1e1e" stroke-width="1.2" />
<line x1="650.5" y1="800.0" x2="645.3" y2="852.0" stroke="#1e1e1e" stroke-width="1.0" />
<path d="M649,818.6 L679,821.6 L676.8,843.4 L646.8,840.4 Z" fill="none" stroke="#1e1e1e" stroke-width="1" stroke-dasharray="2.5,2"/>
<line x1="679.0" y1="821.6" x2="723.0" y2="826.0" stroke="#1e1e1e" stroke-width="1.0" />
<line x1="676.8" y1="843.4" x2="721.0" y2="847.5" stroke="#1e1e1e" stroke-width="1.0" />
<line x1="725.0" y1="784.7" x2="714.4" y2="888.5" stroke="#1e1e1e" stroke-width="1.0" />
<path d="M722.0,826.0 L720.1,813.7 L726.4,814.4 Z" fill="#1e1e1e" stroke="none" stroke-width="1.6" />
<path d="M719.5,847.5 L721.4,859.8 L715.1,859.1 Z" fill="#1e1e1e" stroke="none" stroke-width="1.6" />
<text style="white-space:pre" transform="translate(708.0,836.0) rotate(-84) scale(0.8200,1)" font-family="Liberation Sans" font-size="21" font-weight="normal" fill="#1e1e1e" text-anchor="middle"  stroke="#ffffff" stroke-width="0.67">R</text>
<line x1="645.3" y1="852.0" x2="617.5" y2="1108.0" stroke="#1e1e1e" stroke-width="1.0" />
<line x1="648.3" y1="852.4" x2="620.5" y2="1108.0" stroke="#1e1e1e" stroke-width="1.0" />
<line x1="661.5" y1="854.0" x2="633.0" y2="1108.0" stroke="#1e1e1e" stroke-width="1.2" />
<line x1="674.6" y1="854.7" x2="648.7" y2="1108.0" stroke="#1e1e1e" stroke-width="1.2" />
<path d="M624.8,1106.0 L650.6,1108.5 L645.6,1160.0 L624.8,1158.0" fill="none" stroke="#1e1e1e" stroke-width="1.2" />
<path d="M626,1117 L648,1119 L645.5,1141 L624,1139" fill="none" stroke="#1e1e1e" stroke-width="1" stroke-dasharray="2.5,2"/>
<path d="M484,1310.3 L624.7,1310.3 L624.7,1484.7 L484,1484.7 Q473.5,1484.7 473.5,1474 L473.5,1321 Q473.5,1310.3 484,1310.3 Z" fill="none" stroke="#1e1e1e" stroke-width="1.5" />
<circle cx="494.6" cy="1329.4" r="11.3" fill="none" stroke="#1a1a1a" stroke-width="2.0" />
<circle cx="494.6" cy="1465.2" r="11.3" fill="none" stroke="#1a1a1a" stroke-width="2.0" />
<path d="M579.5,1310.3 L579.5,1305.5 L611.0,1305.5 L611.0,1310.3" fill="none" stroke="#1e1e1e" stroke-width="1.6" />
<path d="M579.5,1484.7 L579.5,1489.5 L611.0,1489.5 L611.0,1484.7" fill="none" stroke="#1e1e1e" stroke-width="1.6" />
<circle cx="595.3" cy="1330.5" r="10.5" fill="none" stroke="#1a1a1a" stroke-width="1.4" />
<circle cx="595.3" cy="1464.3" r="10.5" fill="none" stroke="#1a1a1a" stroke-width="1.4" />
<circle cx="577.7" cy="1323.8" r="11.3" fill="none" stroke="#1a1a1a" stroke-width="2.2" />
<circle cx="577.7" cy="1323.8" r="8.3" fill="none" stroke="#1a1a1a" stroke-width="1.1" />
<path d="M582.7,1323.8 L580.2,1328.1 L575.2,1328.1 L572.7,1323.8 L575.2,1319.5 L580.2,1319.5 Z" fill="none" stroke="#1e1e1e" stroke-width="1.0" />
<circle cx="612.6" cy="1323.8" r="11.3" fill="none" stroke="#1a1a1a" stroke-width="2.2" />
<circle cx="612.6" cy="1323.8" r="8.3" fill="none" stroke="#1a1a1a" stroke-width="1.1" />
<path d="M617.6,1323.8 L615.1,1328.1 L610.1,1328.1 L607.6,1323.8 L610.1,1319.5 L615.1,1319.5 Z" fill="none" stroke="#1e1e1e" stroke-width="1.0" />
<circle cx="577.7" cy="1471.2" r="11.3" fill="none" stroke="#1a1a1a" stroke-width="2.2" />
<circle cx="577.7" cy="1471.2" r="8.3" fill="none" stroke="#1a1a1a" stroke-width="1.1" />
<path d="M582.7,1471.2 L580.2,1475.5 L575.2,1475.5 L572.7,1471.2 L575.2,1466.9 L580.2,1466.9 Z" fill="none" stroke="#1e1e1e" stroke-width="1.0" />
<circle cx="612.6" cy="1471.2" r="11.3" fill="none" stroke="#1a1a1a" stroke-width="2.2" />
<circle cx="612.6" cy="1471.2" r="8.3" fill="none" stroke="#1a1a1a" stroke-width="1.1" />
<path d="M617.6,1471.2 L615.1,1475.5 L610.1,1475.5 L607.6,1471.2 L610.1,1466.9 L615.1,1466.9 Z" fill="none" stroke="#1e1e1e" stroke-width="1.0" />
<rect x="492.8" y="1348.3" width="188.6" height="19.1" fill="#fff" stroke="#1e1e1e" stroke-width="1.6"/>
<line x1="541.5" y1="1348.3" x2="541.5" y2="1367.4" stroke="#1e1e1e" stroke-width="1.0" />
<line x1="630.0" y1="1348.3" x2="630.0" y2="1367.4" stroke="#1e1e1e" stroke-width="1.0" />
<line x1="643.5" y1="1348.3" x2="643.5" y2="1367.4" stroke="#1e1e1e" stroke-width="1.0" />
<rect x="492.8" y="1427.6" width="188.6" height="19.5" fill="#fff" stroke="#1e1e1e" stroke-width="1.6"/>
<line x1="541.5" y1="1427.6" x2="541.5" y2="1447.1" stroke="#1e1e1e" stroke-width="1.0" />
<line x1="630.0" y1="1427.6" x2="630.0" y2="1447.1" stroke="#1e1e1e" stroke-width="1.0" />
<line x1="643.5" y1="1427.6" x2="643.5" y2="1447.1" stroke="#1e1e1e" stroke-width="1.0" />
<path d="M502.0,1348.3 L504.0,1344.5 L532.0,1344.5 L534.0,1348.3" fill="none" stroke="#1e1e1e" stroke-width="1.3" />
<path d="M502.0,1447.1 L504.0,1451.0 L532.0,1451.0 L534.0,1447.1" fill="none" stroke="#1e1e1e" stroke-width="1.3" />
<path d="M645.0,1348.3 L647.0,1344.5 L672.0,1344.5 L674.0,1348.3" fill="none" stroke="#1e1e1e" stroke-width="1.3" />
<path d="M645.0,1447.1 L647.0,1451.0 L672.0,1451.0 L674.0,1447.1" fill="none" stroke="#1e1e1e" stroke-width="1.3" />
<line x1="473.5" y1="1349.4" x2="492.8" y2="1349.4" stroke="#1e1e1e" stroke-width="1.2" />
<line x1="473.5" y1="1445.6" x2="492.8" y2="1445.6" stroke="#1e1e1e" stroke-width="1.2" />
<rect x="498.3" y="1367.4" width="124.9" height="60.2" fill="none" stroke="#1e1e1e" stroke-width="1.2"/>
<line x1="536.0" y1="1367.4" x2="536.0" y2="1427.6" stroke="#1e1e1e" stroke-width="1.0" />
<line x1="542.0" y1="1367.4" x2="542.0" y2="1427.6" stroke="#1e1e1e" stroke-width="1.0" />
<line x1="552.5" y1="1367.4" x2="552.5" y2="1427.6" stroke="#1e1e1e" stroke-width="1.0" />
<line x1="586.3" y1="1367.4" x2="586.3" y2="1427.6" stroke="#1e1e1e" stroke-width="1.0" />
<line x1="602.0" y1="1367.4" x2="602.0" y2="1427.6" stroke="#1e1e1e" stroke-width="1.0" />
<path d="M550.0,1367.4 L553.0,1361.0 L621.0,1361.0 L624.0,1367.4" fill="none" stroke="#1e1e1e" stroke-width="1.2" />
<path d="M550.0,1427.6 L553.0,1434.0 L621.0,1434.0 L624.0,1427.6" fill="none" stroke="#1e1e1e" stroke-width="1.2" />
<rect x="639.0" y="1367.4" width="36.0" height="60.2" fill="none" stroke="#1e1e1e" stroke-width="1.2"/>
<line x1="327.8" y1="1382.6" x2="492.8" y2="1382.6" stroke="#1e1e1e" stroke-width="1.3" />
<line x1="327.8" y1="1412.0" x2="492.8" y2="1412.0" stroke="#1e1e1e" stroke-width="1.3" />
<line x1="327.8" y1="1382.6" x2="327.8" y2="1600.0" stroke="#1e1e1e" stroke-width="1.2" />
<rect x="500.0" y="1383.2" width="36.0" height="28.6" fill="none" stroke="#1e1e1e" stroke-width="1.6"/>
<rect x="553" y="1383.2" width="70" height="28.6" fill="none" stroke="#1e1e1e" stroke-width="1" stroke-dasharray="2.5,2"/>
<rect x="640.0" y="1383.2" width="37.0" height="28.6" fill="none" stroke="#1e1e1e" stroke-width="1.3"/>
<circle cx="343.3" cy="1397.5" r="7.0" fill="none" stroke="#1a1a1a" stroke-width="2.0" />
<circle cx="395.7" cy="1397.5" r="7.0" fill="none" stroke="#1a1a1a" stroke-width="2.0" />
<line x1="211.4" y1="1310.3" x2="473.5" y2="1310.3" stroke="#1e1e1e" stroke-width="1.0" />
<line x1="211.4" y1="1484.6" x2="473.5" y2="1484.6" stroke="#1e1e1e" stroke-width="1.0" />
<line x1="211.4" y1="1310.3" x2="211.4" y2="1484.6" stroke="#1e1e1e" stroke-width="1.2" />
<path d="M211.4,1310.3 L214.6,1322.3 L208.2,1322.3 Z" fill="#1e1e1e" stroke="none" stroke-width="1.6" />
<path d="M211.4,1484.6 L208.2,1472.6 L214.6,1472.6 Z" fill="#1e1e1e" stroke="none" stroke-width="1.6" />
<text style="white-space:pre" transform="translate(202.0,1397.5) rotate(-90) scale(0.8200,1)" font-family="Liberation Sans" font-size="23" font-weight="normal" fill="#1e1e1e" text-anchor="middle"  stroke="#ffffff" stroke-width="0.74">B</text>
<line x1="254.4" y1="1329.6" x2="494.6" y2="1329.6" stroke="#1e1e1e" stroke-width="1.0" />
<line x1="254.4" y1="1465.3" x2="494.6" y2="1465.3" stroke="#1e1e1e" stroke-width="1.0" />
<line x1="254.4" y1="1329.6" x2="254.4" y2="1465.3" stroke="#1e1e1e" stroke-width="1.2" />
<path d="M254.4,1329.6 L257.6,1341.6 L251.2,1341.6 Z" fill="#1e1e1e" stroke="none" stroke-width="1.6" />
<path d="M254.4,1465.3 L251.2,1453.3 L257.6,1453.3 Z" fill="#1e1e1e" stroke="none" stroke-width="1.6" />
<text style="white-space:pre" transform="translate(246.0,1397.5) rotate(-90) scale(0.8200,1)" font-family="Liberation Sans" font-size="23" font-weight="normal" fill="#1e1e1e" text-anchor="middle"  stroke="#ffffff" stroke-width="0.74">F</text>
<line x1="295.8" y1="1341.0" x2="295.8" y2="1382.6" stroke="#1e1e1e" stroke-width="1.0" />
<line x1="295.8" y1="1412.0" x2="295.8" y2="1453.0" stroke="#1e1e1e" stroke-width="1.0" />
<path d="M295.8,1382.6 L292.6,1370.6 L299.0,1370.6 Z" fill="#1e1e1e" stroke="none" stroke-width="1.6" />
<path d="M295.8,1412.0 L299.0,1424.0 L292.6,1424.0 Z" fill="#1e1e1e" stroke="none" stroke-width="1.6" />
<text style="white-space:pre" transform="translate(288.0,1397.5) rotate(-90) scale(0.8200,1)" font-family="Liberation Sans" font-size="23" font-weight="normal" fill="#1e1e1e" text-anchor="middle"  stroke="#ffffff" stroke-width="0.74">B2</text>
<line x1="343.3" y1="1259.6" x2="343.3" y2="1397.5" stroke="#1e1e1e" stroke-width="1.0" />
<line x1="395.7" y1="1259.6" x2="395.7" y2="1397.5" stroke="#1e1e1e" stroke-width="1.0" />
<line x1="493.9" y1="1259.6" x2="493.9" y2="1329.4" stroke="#1e1e1e" stroke-width="1.0" />
<line x1="343.3" y1="1259.6" x2="395.7" y2="1259.6" stroke="#1e1e1e" stroke-width="1.2" />
<path d="M343.3,1259.6 L355.3,1256.4 L355.3,1262.8 Z" fill="#1e1e1e" stroke="none" stroke-width="1.6" />
<path d="M395.7,1259.6 L383.7,1262.8 L383.7,1256.4 Z" fill="#1e1e1e" stroke="none" stroke-width="1.6" />
<line x1="395.7" y1="1259.6" x2="493.9" y2="1259.6" stroke="#1e1e1e" stroke-width="1.2" />
<path d="M395.7,1259.6 L407.7,1256.4 L407.7,1262.8 Z" fill="#1e1e1e" stroke="none" stroke-width="1.6" />
<path d="M493.9,1259.6 L481.9,1262.8 L481.9,1256.4 Z" fill="#1e1e1e" stroke="none" stroke-width="1.6" />
<text style="white-space:pre" transform="translate(369.5,1252.0) scale(0.8200,1)" font-family="Liberation Sans" font-size="23" font-weight="normal" fill="#1e1e1e" text-anchor="middle"  stroke="#ffffff" stroke-width="0.74">D</text>
<text style="white-space:pre" transform="translate(444.6,1252.0) scale(0.8200,1)" font-family="Liberation Sans" font-size="23" font-weight="normal" fill="#1e1e1e" text-anchor="middle"  stroke="#ffffff" stroke-width="0.74">E3</text>
<line x1="483.6" y1="1287.2" x2="483.6" y2="1329.4" stroke="#1e1e1e" stroke-width="1.0" />
<line x1="505.0" y1="1287.2" x2="505.0" y2="1329.4" stroke="#1e1e1e" stroke-width="1.0" />
<line x1="442.0" y1="1287.2" x2="532.0" y2="1287.2" stroke="#1e1e1e" stroke-width="1.0" />
<path d="M483.6,1287.2 L471.6,1290.4 L471.6,1284.0 Z" fill="#1e1e1e" stroke="none" stroke-width="1.6" />
<path d="M505.0,1287.2 L517.0,1284.0 L517.0,1290.4 Z" fill="#1e1e1e" stroke="none" stroke-width="1.6" />
<text style="white-space:pre" transform="translate(528.4,1280.0) scale(0.8200,1)" font-family="Liberation Sans" font-size="23" font-weight="normal" fill="#1e1e1e" text-anchor="middle"  stroke="#ffffff" stroke-width="0.74">N</text>
<line x1="390.0" y1="1397.5" x2="390.0" y2="1451.5" stroke="#1e1e1e" stroke-width="1.0" />
<line x1="402.5" y1="1397.5" x2="402.5" y2="1451.5" stroke="#1e1e1e" stroke-width="1.0" />
<line x1="348.0" y1="1451.5" x2="432.0" y2="1451.5" stroke="#1e1e1e" stroke-width="1.0" />
<path d="M390.0,1451.5 L378.0,1454.7 L378.0,1448.3 Z" fill="#1e1e1e" stroke="none" stroke-width="1.6" />
<path d="M402.5,1451.5 L414.5,1448.3 L414.5,1454.7 Z" fill="#1e1e1e" stroke="none" stroke-width="1.6" />
<text style="white-space:pre" transform="translate(425.7,1443.0) scale(0.8200,1)" font-family="Liberation Sans" font-size="23" font-weight="normal" fill="#1e1e1e" text-anchor="middle"  stroke="#ffffff" stroke-width="0.74">M</text>
<line x1="473.2" y1="1484.7" x2="473.2" y2="1560.0" stroke="#1e1e1e" stroke-width="1.0" />
<line x1="493.9" y1="1465.2" x2="493.9" y2="1526.0" stroke="#1e1e1e" stroke-width="1.0" />
<line x1="434.0" y1="1526.0" x2="535.0" y2="1526.0" stroke="#1e1e1e" stroke-width="1.0" />
<path d="M473.2,1526.0 L461.2,1529.2 L461.2,1522.8 Z" fill="#1e1e1e" stroke="none" stroke-width="1.6" />
<path d="M493.9,1526.0 L505.9,1522.8 L505.9,1529.2 Z" fill="#1e1e1e" stroke="none" stroke-width="1.6" />
<text style="white-space:pre" transform="translate(444.6,1519.0) scale(0.8200,1)" font-family="Liberation Sans" font-size="23" font-weight="normal" fill="#1e1e1e" text-anchor="middle"  stroke="#ffffff" stroke-width="0.74">E2</text>
<line x1="624.2" y1="1484.7" x2="624.2" y2="1560.0" stroke="#1e1e1e" stroke-width="1.0" />
<line x1="473.2" y1="1558.7" x2="624.2" y2="1558.7" stroke="#1e1e1e" stroke-width="1.2" />
<path d="M473.2,1558.7 L485.2,1555.5 L485.2,1561.9 Z" fill="#1e1e1e" stroke="none" stroke-width="1.6" />
<path d="M624.2,1558.7 L612.2,1561.9 L612.2,1555.5 Z" fill="#1e1e1e" stroke="none" stroke-width="1.6" />
<text style="white-space:pre" transform="translate(549.0,1552.0) scale(0.8200,1)" font-family="Liberation Sans" font-size="23" font-weight="normal" fill="#1e1e1e" text-anchor="middle"  stroke="#ffffff" stroke-width="0.74">A</text>
<line x1="681.7" y1="1447.0" x2="681.7" y2="1600.0" stroke="#1e1e1e" stroke-width="1.0" />
<line x1="327.8" y1="1599.7" x2="681.7" y2="1599.7" stroke="#1e1e1e" stroke-width="1.2" />
<path d="M327.8,1599.7 L339.8,1596.5 L339.8,1602.9 Z" fill="#1e1e1e" stroke="none" stroke-width="1.6" />
<path d="M681.7,1599.7 L669.7,1602.9 L669.7,1596.5 Z" fill="#1e1e1e" stroke="none" stroke-width="1.6" />
<text style="white-space:pre" transform="translate(503.6,1592.5) scale(0.8200,1)" font-family="Liberation Sans" font-size="23" font-weight="normal" fill="#1e1e1e" text-anchor="middle"  stroke="#ffffff" stroke-width="0.74">L</text>
<rect x="692" y="1863.4" width="94.2" height="173.4" fill="none" stroke="#1e1e1e" stroke-width="1.2" stroke-dasharray="3.5,3"/>
<filter id="ml3" x="-5%" y="-10%" width="110%" height="120%" color-interpolation-filters="sRGB"><feMorphology in="SourceAlpha" operator="dilate" radius="3.8" result="d"/><feMorphology in="SourceAlpha" operator="erode" radius="1.8" result="e"/><feComposite in="d" in2="e" operator="out" result="ring"/><feFlood flood-color="#111"/><feComposite in2="ring" operator="in"/></filter>
<g transform="translate(782.5,1845.4) rotate(90) scale(0.269)" filter="url(#ml3)"><path d="M207.5,223.7 L180,183 Q176,178.5 179,174 L208.3,121.8 Q212,115.3 219,115.3 L243.3,119.4 Q247.5,120.5 250,123.5 L276.7,154.2 Q279,158.5 273.5,159.6 L243.3,158.6 Q240,158 238.4,156.1 L216.4,130.2 Q213.5,127.8 211.5,130.5 L184.7,176.4 Q183.5,179.6 185.5,182.5 L211.5,219.6 Q212.5,223.5 210,224.8 Q208.3,225.2 207.5,223.7 Z" fill="#000" stroke="none" stroke-width="0" /><path d="M216.4,139.2 Q219,138 221,140.2 L241.7,165.5 Q244,168.3 248,168.3 L284,166 L292.2,164.5 Q297.5,168 295.8,171.5 Q295,175 292.2,178 L259.6,217.1 Q256,220.4 251.5,220.4 L227,219.6 Q220,218.5 215.6,213.1 L194,181 Q191.5,177 194,172.5 L214,141.5 Q215,139.8 216.4,139.2 Z" fill="#000" stroke="none" stroke-width="0" /><path d="M261.6,129.3 L287.5,162.5" fill="none" stroke="#000" stroke-width="5.8" stroke-linecap="round"/><rect x="300.7" y="130.7" width="11.4" height="62.9" fill="#000"/><path d="M312.1,157 L334.5,130.7 L346.4,130.7 L312.1,171 Z" fill="#000" stroke="none" stroke-width="0" /><path d="M312,163.5 H329 Q340.7,163.5 340.7,175.5 V193.6" fill="none" stroke="#000" stroke-width="11.4" /><rect x="397.9" y="130.7" width="11.4" height="62.9" fill="#000"/><path d="M409.3,157 L431.7,130.7 L443.59999999999997,130.7 L409.3,171 Z" fill="#000" stroke="none" stroke-width="0" /><path d="M409.2,163.5 H426.2 Q437.9,163.5 437.9,175.5 V193.6" fill="none" stroke="#000" stroke-width="11.4" /><path d="M361.3,130.7 V179 Q361.3,187.9 370,187.9 H374.4 Q383.1,187.9 383.1,179 V130.7" fill="none" stroke="#000" stroke-width="11.4" /><path d="M458.5,193.6 V146 Q458.5,136.4 468,136.4 H485.6 Q495.1,136.4 495.1,146 V193.6" fill="none" stroke="#000" stroke-width="11.4" /><rect x="458.5" y="159.5" width="36.6" height="9.5" fill="#000"/><path d="M515.7,193.6 V146 Q515.7,136.4 525,136.4 H552 Q561.3,136.4 561.3,146 V193.6" fill="none" stroke="#000" stroke-width="11.4" /><rect x="532.8" y="136.4" width="11.4" height="57.2" fill="#000"/><rect x="577.4" y="130.7" width="11.4" height="62.9" fill="#000"/><rect x="577.4" y="130.7" width="35.5" height="10.5" fill="#000"/><rect x="577.4" y="157.2" width="31.5" height="9.2" fill="#000"/><rect x="577.4" y="183.1" width="35.5" height="10.5" fill="#000"/><rect x="616.3" y="130.7" width="36.6" height="10.5" fill="#000"/><rect x="628.9" y="130.7" width="11.4" height="62.9" fill="#000"/></g>
<line x1="786.2" y1="1863.4" x2="1034.5" y2="1863.4" stroke="#1e1e1e" stroke-width="1.2" />
<line x1="1034.5" y1="1863.4" x2="1034.5" y2="2437.5" stroke="#1e1e1e" stroke-width="1.2" />
<path d="M1034.5,1863.4 L1038.3,1877.4 L1030.7,1877.4 Z" fill="#1e1e1e" stroke="none" stroke-width="1.6" />
<path d="M1034.5,2437.5 L1030.7,2423.5 L1038.3,2423.5 Z" fill="#1e1e1e" stroke="none" stroke-width="1.6" />
<text style="white-space:pre" transform="translate(1022.0,2152.0) rotate(-90) scale(0.8200,1)" font-family="Liberation Sans" font-size="31" font-weight="normal" fill="#1e1e1e" text-anchor="middle"  stroke="#ffffff" stroke-width="0.99">H2</text>
<path d="M426.5,2169.2 A265.5,265.5 0 0 1 692.0,1903.7" fill="none" stroke="#1e1e1e" stroke-width="1.3" />
<path d="M426.5,2169.2 L422.7,2155.2 L430.3,2155.2 Z" fill="#1e1e1e" stroke="none" stroke-width="1.6" />
<path d="M692.0,1903.7 L678.0,1907.5 L678.0,1899.9 Z" fill="#1e1e1e" stroke="none" stroke-width="1.6" />
<path id="arc2" d="M426.1,2072.4 A283,283 0 0 1 618.8,1895.8" fill="none"/>
<text font-family="Liberation Sans" font-size="31" fill="#1e1e1e" stroke="#fff" stroke-width="1.0"><textPath href="#arc2" startOffset="21.7" textLength="205" lengthAdjust="spacing">ACI ( ANGLE )</textPath></text>
<line x1="267.6" y1="2169.2" x2="609.0" y2="2169.2" stroke="#1e1e1e" stroke-width="1.5" />
<line x1="267.6" y1="2262.6" x2="582.0" y2="2262.6" stroke="#1e1e1e" stroke-width="2.0" />
<line x1="380.8" y1="2169.2" x2="380.8" y2="2625.3" stroke="#1e1e1e" stroke-width="1.5" />
<filter id="ml4" x="-5%" y="-10%" width="110%" height="120%" color-interpolation-filters="sRGB"><feMorphology in="SourceAlpha" operator="dilate" radius="3.8" result="d"/><feMorphology in="SourceAlpha" operator="erode" radius="1.8" result="e"/><feComposite in="d" in2="e" operator="out" result="ring"/><feFlood flood-color="#111"/><feComposite in2="ring" operator="in"/></filter>
<g transform="translate(362.1,2170.6) scale(0.2693)" filter="url(#ml4)"><path d="M207.5,223.7 L180,183 Q176,178.5 179,174 L208.3,121.8 Q212,115.3 219,115.3 L243.3,119.4 Q247.5,120.5 250,123.5 L276.7,154.2 Q279,158.5 273.5,159.6 L243.3,158.6 Q240,158 238.4,156.1 L216.4,130.2 Q213.5,127.8 211.5,130.5 L184.7,176.4 Q183.5,179.6 185.5,182.5 L211.5,219.6 Q212.5,223.5 210,224.8 Q208.3,225.2 207.5,223.7 Z" fill="#000" stroke="none" stroke-width="0" /><path d="M216.4,139.2 Q219,138 221,140.2 L241.7,165.5 Q244,168.3 248,168.3 L284,166 L292.2,164.5 Q297.5,168 295.8,171.5 Q295,175 292.2,178 L259.6,217.1 Q256,220.4 251.5,220.4 L227,219.6 Q220,218.5 215.6,213.1 L194,181 Q191.5,177 194,172.5 L214,141.5 Q215,139.8 216.4,139.2 Z" fill="#000" stroke="none" stroke-width="0" /><path d="M261.6,129.3 L287.5,162.5" fill="none" stroke="#000" stroke-width="5.8" stroke-linecap="round"/><rect x="300.7" y="130.7" width="11.4" height="62.9" fill="#000"/><path d="M312.1,157 L334.5,130.7 L346.4,130.7 L312.1,171 Z" fill="#000" stroke="none" stroke-width="0" /><path d="M312,163.5 H329 Q340.7,163.5 340.7,175.5 V193.6" fill="none" stroke="#000" stroke-width="11.4" /><rect x="397.9" y="130.7" width="11.4" height="62.9" fill="#000"/><path d="M409.3,157 L431.7,130.7 L443.59999999999997,130.7 L409.3,171 Z" fill="#000" stroke="none" stroke-width="0" /><path d="M409.2,163.5 H426.2 Q437.9,163.5 437.9,175.5 V193.6" fill="none" stroke="#000" stroke-width="11.4" /><path d="M361.3,130.7 V179 Q361.3,187.9 370,187.9 H374.4 Q383.1,187.9 383.1,179 V130.7" fill="none" stroke="#000" stroke-width="11.4" /><path d="M458.5,193.6 V146 Q458.5,136.4 468,136.4 H485.6 Q495.1,136.4 495.1,146 V193.6" fill="none" stroke="#000" stroke-width="11.4" /><rect x="458.5" y="159.5" width="36.6" height="9.5" fill="#000"/><path d="M515.7,193.6 V146 Q515.7,136.4 525,136.4 H552 Q561.3,136.4 561.3,146 V193.6" fill="none" stroke="#000" stroke-width="11.4" /><rect x="532.8" y="136.4" width="11.4" height="57.2" fill="#000"/><rect x="577.4" y="130.7" width="11.4" height="62.9" fill="#000"/><rect x="577.4" y="130.7" width="35.5" height="10.5" fill="#000"/><rect x="577.4" y="157.2" width="31.5" height="9.2" fill="#000"/><rect x="577.4" y="183.1" width="35.5" height="10.5" fill="#000"/><rect x="616.3" y="130.7" width="36.6" height="10.5" fill="#000"/><rect x="628.9" y="130.7" width="11.4" height="62.9" fill="#000"/></g>
<circle cx="595.6" cy="2218.3" r="13.5" fill="none" stroke="#1a1a1a" stroke-width="2.6" />
<line x1="267.6" y1="2169.2" x2="267.6" y2="2262.6" stroke="#1e1e1e" stroke-width="1.2" />
<path d="M267.6,2169.2 L270.8,2181.2 L264.4,2181.2 Z" fill="#1e1e1e" stroke="none" stroke-width="1.6" />
<path d="M267.6,2262.6 L264.4,2250.6 L270.8,2250.6 Z" fill="#1e1e1e" stroke="none" stroke-width="1.6" />
<line x1="267.6" y1="2262.6" x2="267.6" y2="2437.5" stroke="#1e1e1e" stroke-width="1.2" />
<path d="M267.6,2262.6 L270.8,2274.6 L264.4,2274.6 Z" fill="#1e1e1e" stroke="none" stroke-width="1.6" />
<path d="M267.6,2437.5 L264.4,2425.5 L270.8,2425.5 Z" fill="#1e1e1e" stroke="none" stroke-width="1.6" />
<text style="white-space:pre" transform="translate(253.0,2208.0) rotate(-90) scale(0.8200,1)" font-family="Liberation Sans" font-size="31" font-weight="normal" fill="#1e1e1e" text-anchor="middle"  stroke="#ffffff" stroke-width="0.99">J</text>
<text style="white-space:pre" transform="translate(253.0,2392.0) rotate(-90) scale(0.8200,1)" font-family="Liberation Sans" font-size="33" font-weight="normal" fill="#1e1e1e" text-anchor="middle"  stroke="#ffffff" stroke-width="1.06">G</text>
<text style="white-space:pre" transform="translate(250.0,2356.0) rotate(-90) scale(0.8200,1)" font-family="Liberation Sans" font-size="19" font-weight="normal" fill="#1e1e1e" text-anchor="middle"  stroke="#ffffff" stroke-width="0.61">±0,5</text>
<line x1="267.6" y1="2437.5" x2="1034.5" y2="2437.5" stroke="#1e1e1e" stroke-width="1.2" />
<path d="M394.2,2113.6 L414.2,2113.6 L404.2,2160.6 Z" fill="#fff" stroke="#1e1e1e" stroke-width="1.3" />
<line x1="404.2" y1="2108.6" x2="404.2" y2="2163.6" stroke="#1e1e1e" stroke-width="1.3" />
<text style="white-space:pre" transform="translate(362.4,2143.0) scale(0.8200,1)" font-family="Liberation Sans" font-size="33" font-weight="normal" fill="#1e1e1e" text-anchor="middle"  stroke="#ffffff" stroke-width="1.06">F2</text>
<path d="M510.2,2113.6 L530.2,2113.6 L520.2,2160.6 Z" fill="#fff" stroke="#1e1e1e" stroke-width="1.3" />
<line x1="520.2" y1="2108.6" x2="520.2" y2="2163.6" stroke="#1e1e1e" stroke-width="1.3" />
<text style="white-space:pre" transform="translate(484.0,2148.0) scale(0.8200,1)" font-family="Liberation Sans" font-size="33" font-weight="normal" fill="#1e1e1e" text-anchor="middle"  stroke="#ffffff" stroke-width="1.06">F1</text>
<path d="M394.2,2315.5 L414.2,2315.5 L404.2,2271.5 Z" fill="#fff" stroke="#1e1e1e" stroke-width="1.3" />
<text style="white-space:pre" transform="translate(356.8,2308.0) scale(0.8200,1)" font-family="Liberation Sans" font-size="33" font-weight="normal" fill="#1e1e1e" text-anchor="middle"  stroke="#ffffff" stroke-width="1.06">F4</text>
<path d="M510.2,2315.5 L530.2,2315.5 L520.2,2271.5 Z" fill="#fff" stroke="#1e1e1e" stroke-width="1.3" />
<text style="white-space:pre" transform="translate(482.3,2305.0) scale(0.8200,1)" font-family="Liberation Sans" font-size="33" font-weight="normal" fill="#1e1e1e" text-anchor="middle"  stroke="#ffffff" stroke-width="1.06">F3</text>
<line x1="404.2" y1="2271.5" x2="404.2" y2="2559.0" stroke="#1e1e1e" stroke-width="1.2" />
<line x1="520.2" y1="2271.5" x2="520.2" y2="2485.0" stroke="#1e1e1e" stroke-width="1.2" />
<path d="M582,2437.5 L582,2262.6 L582,2258 Q582,2250 594,2250 L609,2250" fill="none" stroke="#1e1e1e" stroke-width="1.5" />
<line x1="582.0" y1="2437.5" x2="582.0" y2="2625.3" stroke="#1e1e1e" stroke-width="1.2" />
<line x1="582.0" y1="2400.8" x2="790.2" y2="2400.8" stroke="#1e1e1e" stroke-width="1.2" />
<line x1="582.0" y1="2405.3" x2="790.2" y2="2405.3" stroke="#1e1e1e" stroke-width="1.2" />
<line x1="597.0" y1="2405.3" x2="597.0" y2="2437.5" stroke="#1e1e1e" stroke-width="1.0" />
<line x1="787.1" y1="2405.3" x2="787.1" y2="2437.5" stroke="#1e1e1e" stroke-width="1.0" />
<line x1="790.2" y1="2247.4" x2="790.2" y2="2437.5" stroke="#1e1e1e" stroke-width="1.4" />
<path d="M609,2310 L609,2124 Q609,2089.5 643,2089.5 Q668,2089.5 675.3,2115 C690,2160 720,2181.3 750.5,2181.3 C785,2181.3 805,2148.8 834.7,2148.8 Q867.7,2148.8 867.7,2181.3 Q867.7,2196 858.7,2206.8 C840,2222 800,2240 750.5,2274.5 C725,2292 712,2306 699.3,2316.6 C680,2332 665,2342 657.2,2344.5 Q650,2348.2 642.8,2348.2 Q609,2348.2 609,2315 Z" fill="none" stroke="#1e1e1e" stroke-width="1.5" />
<circle cx="642.8" cy="2123.5" r="22.5" fill="none" stroke="#1a1a1a" stroke-width="1.4" />
<circle cx="642.8" cy="2123.5" r="18.6" fill="none" stroke="#1a1a1a" stroke-width="1.4" />
<circle cx="636.3" cy="2145.0" r="2.8" fill="#fff" stroke="#1a1a1a" stroke-width="1.1" />
<circle cx="649.3" cy="2145.0" r="2.8" fill="#fff" stroke="#1a1a1a" stroke-width="1.1" />
<line x1="640.8" y1="2142.1" x2="640.8" y2="2149.0" stroke="#1e1e1e" stroke-width="1.0" />
<line x1="644.8" y1="2142.1" x2="644.8" y2="2149.0" stroke="#1e1e1e" stroke-width="1.0" />
<circle cx="834.7" cy="2181.3" r="22.5" fill="none" stroke="#1a1a1a" stroke-width="1.4" />
<circle cx="834.7" cy="2181.3" r="18.6" fill="none" stroke="#1a1a1a" stroke-width="1.4" />
<circle cx="828.2" cy="2202.8" r="2.8" fill="#fff" stroke="#1a1a1a" stroke-width="1.1" />
<circle cx="841.2" cy="2202.8" r="2.8" fill="#fff" stroke="#1a1a1a" stroke-width="1.1" />
<line x1="832.7" y1="2199.9" x2="832.7" y2="2206.8" stroke="#1e1e1e" stroke-width="1.0" />
<line x1="836.7" y1="2199.9" x2="836.7" y2="2206.8" stroke="#1e1e1e" stroke-width="1.0" />
<circle cx="642.8" cy="2315.1" r="22.5" fill="none" stroke="#1a1a1a" stroke-width="1.4" />
<circle cx="642.8" cy="2315.1" r="18.6" fill="none" stroke="#1a1a1a" stroke-width="1.4" />
<circle cx="636.3" cy="2336.6" r="2.8" fill="#fff" stroke="#1a1a1a" stroke-width="1.1" />
<circle cx="649.3" cy="2336.6" r="2.8" fill="#fff" stroke="#1a1a1a" stroke-width="1.1" />
<line x1="640.8" y1="2333.7" x2="640.8" y2="2340.6" stroke="#1e1e1e" stroke-width="1.0" />
<line x1="644.8" y1="2333.7" x2="644.8" y2="2340.6" stroke="#1e1e1e" stroke-width="1.0" />
<line x1="643.0" y1="2089.5" x2="971.5" y2="2089.5" stroke="#1e1e1e" stroke-width="1.2" />
<line x1="971.5" y1="2089.5" x2="971.5" y2="2437.5" stroke="#1e1e1e" stroke-width="1.2" />
<path d="M971.5,2089.5 L974.7,2101.5 L968.3,2101.5 Z" fill="#1e1e1e" stroke="none" stroke-width="1.6" />
<path d="M971.5,2437.5 L968.3,2425.5 L974.7,2425.5 Z" fill="#1e1e1e" stroke="none" stroke-width="1.6" />
<text style="white-space:pre" transform="translate(958.0,2264.0) rotate(-90) scale(0.8200,1)" font-family="Liberation Sans" font-size="31" font-weight="normal" fill="#1e1e1e" text-anchor="middle"  stroke="#ffffff" stroke-width="0.99">H</text>
<path d="M801.6,2244.4 L800.0,2267.0 L852.7,2271.5 L858.7,2206.8" fill="none" stroke="#1e1e1e" stroke-width="1.3" />
<path d="M816.6,2211.4 L845.2,2214.4 L840.7,2268.5 L812.1,2267 Z" fill="none" stroke="#1e1e1e" stroke-width="1.1" stroke-dasharray="3,2.5"/>
<line x1="812.1" y1="2267.0" x2="807.6" y2="2304.6" stroke="#1e1e1e" stroke-width="1.2" />
<line x1="840.7" y1="2268.5" x2="836.2" y2="2306.0" stroke="#1e1e1e" stroke-width="1.2" />
<line x1="752.0" y1="2298.6" x2="876.8" y2="2310.6" stroke="#1e1e1e" stroke-width="1.0" />
<path d="M807.6,2303.5 L793.3,2305.9 L794.0,2298.7 Z" fill="#1e1e1e" stroke="none" stroke-width="1.6" />
<path d="M836.2,2306.3 L850.5,2303.9 L849.8,2311.1 Z" fill="#1e1e1e" stroke="none" stroke-width="1.6" />
<text style="white-space:pre" transform="translate(871.0,2300.0) scale(0.8200,1)" font-family="Liberation Sans" font-size="31" font-weight="normal" fill="#1e1e1e" text-anchor="middle"  stroke="#ffffff" stroke-width="0.99">K</text>
<path d="M806.0,2361.7 L828.0,2361.7 L821.1,2316.6 Z" fill="#fff" stroke="#1e1e1e" stroke-width="1.2" />
<line x1="821.1" y1="2316.6" x2="817.0" y2="2368.0" stroke="#1e1e1e" stroke-width="1.2" />
<text style="white-space:pre" transform="translate(860.0,2354.0) scale(0.8200,1)" font-family="Liberation Sans" font-size="31" font-weight="normal" fill="#1e1e1e" text-anchor="middle"  stroke="#ffffff" stroke-width="0.99">Fi</text>
<line x1="520.2" y1="2484.8" x2="581.5" y2="2484.8" stroke="#1e1e1e" stroke-width="1.2" />
<path d="M520.2,2484.8 L508.2,2488.0 L508.2,2481.6 Z" fill="#1e1e1e" stroke="none" stroke-width="1.6" />
<path d="M581.5,2484.8 L593.5,2481.6 L593.5,2488.0 Z" fill="#1e1e1e" stroke="none" stroke-width="1.6" />
<line x1="462.8" y1="2484.8" x2="638.4" y2="2484.8" stroke="#1e1e1e" stroke-width="1.0" />
<text style="white-space:pre" transform="translate(552.0,2475.0) scale(0.8200,1)" font-family="Liberation Sans" font-size="33" font-weight="normal" fill="#1e1e1e" text-anchor="middle"  stroke="#ffffff" stroke-width="1.06">X1</text>
<line x1="404.2" y1="2559.0" x2="581.5" y2="2559.0" stroke="#1e1e1e" stroke-width="1.2" />
<path d="M404.2,2559.0 L416.2,2555.8 L416.2,2562.2 Z" fill="#1e1e1e" stroke="none" stroke-width="1.6" />
<path d="M581.5,2559.0 L569.5,2562.2 L569.5,2555.8 Z" fill="#1e1e1e" stroke="none" stroke-width="1.6" />
<text style="white-space:pre" transform="translate(492.3,2550.0) scale(0.8200,1)" font-family="Liberation Sans" font-size="33" font-weight="normal" fill="#1e1e1e" text-anchor="middle"  stroke="#ffffff" stroke-width="1.06">X2</text>
<line x1="380.8" y1="2625.3" x2="581.5" y2="2625.3" stroke="#1e1e1e" stroke-width="1.2" />
<path d="M380.8,2625.3 L392.8,2622.1 L392.8,2628.5 Z" fill="#1e1e1e" stroke="none" stroke-width="1.6" />
<path d="M581.5,2625.3 L569.5,2628.5 L569.5,2622.1 Z" fill="#1e1e1e" stroke="none" stroke-width="1.6" />
<text style="white-space:pre" transform="translate(481.2,2617.0) scale(0.8200,1)" font-family="Liberation Sans" font-size="33" font-weight="normal" fill="#1e1e1e" text-anchor="middle"  stroke="#ffffff" stroke-width="1.06">C</text>
<path d="M597,2831.7 L790.5,2831.7 L790.5,3071.6 L597,3071.6 Q581.7,3071.6 581.7,3056 L581.7,2847 Q581.7,2831.7 597,2831.7 Z" fill="none" stroke="#1e1e1e" stroke-width="1.5" />
<circle cx="610.8" cy="2857.9" r="15.5" fill="none" stroke="#1a1a1a" stroke-width="2.3" />
<circle cx="610.8" cy="3045.3" r="15.5" fill="none" stroke="#1a1a1a" stroke-width="2.3" />
<circle cx="749.7" cy="2857.9" r="15.2" fill="none" stroke="#1a1a1a" stroke-width="2.2" />
<circle cx="725.4" cy="2850.1" r="8.7" fill="none" stroke="#1a1a1a" stroke-width="2.2" />
<circle cx="774.0" cy="2850.1" r="8.7" fill="none" stroke="#1a1a1a" stroke-width="2.2" />
<circle cx="749.7" cy="3045.3" r="15.2" fill="none" stroke="#1a1a1a" stroke-width="2.2" />
<circle cx="725.4" cy="3053.1" r="8.7" fill="none" stroke="#1a1a1a" stroke-width="2.2" />
<circle cx="774.0" cy="3053.1" r="8.7" fill="none" stroke="#1a1a1a" stroke-width="2.2" />
<rect x="581.7" y="2885.0" width="26.2" height="133.1" fill="none" stroke="#1e1e1e" stroke-width="1.5"/>
<rect x="607.9" y="2883.1" width="260.3" height="27.2" fill="#fff" stroke="#1e1e1e" stroke-width="1.6"/>
<line x1="675.9" y1="2883.1" x2="675.9" y2="2910.3" stroke="#1e1e1e" stroke-width="1.0" />
<line x1="796.3" y1="2883.1" x2="796.3" y2="2910.3" stroke="#1e1e1e" stroke-width="1.0" />
<line x1="815.7" y1="2883.1" x2="815.7" y2="2910.3" stroke="#1e1e1e" stroke-width="1.0" />
<rect x="607.9" y="2992.9" width="260.3" height="26.8" fill="#fff" stroke="#1e1e1e" stroke-width="1.6"/>
<line x1="675.9" y1="2992.9" x2="675.9" y2="3019.7" stroke="#1e1e1e" stroke-width="1.0" />
<line x1="796.3" y1="2992.9" x2="796.3" y2="3019.7" stroke="#1e1e1e" stroke-width="1.0" />
<line x1="815.7" y1="2992.9" x2="815.7" y2="3019.7" stroke="#1e1e1e" stroke-width="1.0" />
<path d="M620.5,2883.1 L623.5,2876.3 L663.2,2876.3 L666.2,2883.1" fill="none" stroke="#1e1e1e" stroke-width="1.3" />
<path d="M620.5,3019.7 L623.5,3026.5 L663.2,3026.5 L666.2,3019.7" fill="none" stroke="#1e1e1e" stroke-width="1.3" />
<path d="M811.8,2883.1 L814.8,2876.3 L854.5,2876.3 L857.5,2883.1" fill="none" stroke="#1e1e1e" stroke-width="1.3" />
<path d="M811.8,3019.7 L814.8,3026.5 L854.5,3026.5 L857.5,3019.7" fill="none" stroke="#1e1e1e" stroke-width="1.3" />
<path d="M686.0,2910.3 L691.0,2901.5 L785.0,2901.5 L790.0,2910.3" fill="none" stroke="#1e1e1e" stroke-width="1.2" />
<path d="M686.0,2992.9 L691.0,3001.7 L785.0,3001.7 L790.0,2992.9" fill="none" stroke="#1e1e1e" stroke-width="1.2" />
<path d="M713.0,2901.5 L716.0,2897.5 L754.0,2897.5 L757.0,2901.5" fill="none" stroke="#1e1e1e" stroke-width="1.5" />
<path d="M713.0,3001.7 L716.0,3005.7 L754.0,3005.7 L757.0,3001.7" fill="none" stroke="#1e1e1e" stroke-width="1.5" />
<rect x="616.6" y="2910.3" width="173.0" height="82.6" fill="none" stroke="#1e1e1e" stroke-width="1.2"/>
<line x1="669.0" y1="2910.3" x2="669.0" y2="2992.9" stroke="#1e1e1e" stroke-width="1.0" />
<line x1="678.8" y1="2910.3" x2="678.8" y2="2992.9" stroke="#1e1e1e" stroke-width="1.0" />
<line x1="690.4" y1="2910.3" x2="690.4" y2="2992.9" stroke="#1e1e1e" stroke-width="1.0" />
<line x1="737.0" y1="2910.3" x2="737.0" y2="2992.9" stroke="#1e1e1e" stroke-width="1.0" />
<line x1="741.0" y1="2910.3" x2="741.0" y2="2992.9" stroke="#1e1e1e" stroke-width="1.0" />
<line x1="757.5" y1="2910.3" x2="757.5" y2="2992.9" stroke="#1e1e1e" stroke-width="1.0" />
<line x1="759.4" y1="2910.3" x2="759.4" y2="2992.9" stroke="#1e1e1e" stroke-width="1.0" />
<line x1="786.6" y1="2910.3" x2="786.6" y2="2992.9" stroke="#1e1e1e" stroke-width="1.0" />
<line x1="581.7" y1="2932.3" x2="616.6" y2="2932.3" stroke="#1e1e1e" stroke-width="1.3" />
<line x1="581.7" y1="2971.5" x2="616.6" y2="2971.5" stroke="#1e1e1e" stroke-width="1.3" />
<rect x="618.6" y="2932.3" width="48.5" height="39.2" fill="#fff" stroke="#1e1e1e" stroke-width="1.6"/>
<rect x="691.4" y="2932.3" width="95.2" height="39.2" fill="#fff" stroke="#1e1e1e" stroke-width="1.1" stroke-dasharray="3,2.5"/>
<rect x="799.2" y="2931.7" width="62.2" height="39.8" fill="#fff" stroke="#1e1e1e" stroke-width="1.5"/>
<line x1="807.0" y1="2931.7" x2="807.0" y2="2971.5" stroke="#1e1e1e" stroke-width="1.0" />
<rect x="810.9" y="2910.3" width="47.6" height="21.4" fill="none" stroke="#1e1e1e" stroke-width="1.3"/>
<rect x="815.7" y="2971.5" width="37.9" height="21.4" fill="none" stroke="#1e1e1e" stroke-width="1.3"/>
<line x1="381.3" y1="2931.9" x2="581.7" y2="2931.9" stroke="#1e1e1e" stroke-width="1.4" />
<line x1="381.3" y1="2971.2" x2="581.7" y2="2971.2" stroke="#1e1e1e" stroke-width="1.4" />
<line x1="381.3" y1="2931.9" x2="381.3" y2="3240.0" stroke="#1e1e1e" stroke-width="1.2" />
<circle cx="402.4" cy="2951.6" r="8.8" fill="none" stroke="#1a1a1a" stroke-width="2.4" />
<circle cx="474.2" cy="2951.6" r="8.8" fill="none" stroke="#1a1a1a" stroke-width="2.4" />
<line x1="221.2" y1="2831.7" x2="581.7" y2="2831.7" stroke="#1e1e1e" stroke-width="1.0" />
<line x1="221.2" y1="3071.4" x2="581.7" y2="3071.4" stroke="#1e1e1e" stroke-width="1.0" />
<line x1="221.2" y1="2831.7" x2="221.2" y2="3071.4" stroke="#1e1e1e" stroke-width="1.2" />
<path d="M221.2,2831.7 L224.4,2843.7 L218.0,2843.7 Z" fill="#1e1e1e" stroke="none" stroke-width="1.6" />
<path d="M221.2,3071.4 L218.0,3059.4 L224.4,3059.4 Z" fill="#1e1e1e" stroke="none" stroke-width="1.6" />
<text style="white-space:pre" transform="translate(212.0,2951.6) rotate(-90) scale(0.8200,1)" font-family="Liberation Sans" font-size="30" font-weight="normal" fill="#1e1e1e" text-anchor="middle"  stroke="#ffffff" stroke-width="0.96">B</text>
<line x1="279.8" y1="2858.7" x2="610.8" y2="2858.7" stroke="#1e1e1e" stroke-width="1.0" />
<line x1="279.8" y1="3045.3" x2="610.8" y2="3045.3" stroke="#1e1e1e" stroke-width="1.0" />
<line x1="279.8" y1="2858.7" x2="279.8" y2="3045.3" stroke="#1e1e1e" stroke-width="1.2" />
<path d="M279.8,2858.7 L283.0,2870.7 L276.6,2870.7 Z" fill="#1e1e1e" stroke="none" stroke-width="1.6" />
<path d="M279.8,3045.3 L276.6,3033.3 L283.0,3033.3 Z" fill="#1e1e1e" stroke="none" stroke-width="1.6" />
<text style="white-space:pre" transform="translate(272.0,2951.6) rotate(-90) scale(0.8200,1)" font-family="Liberation Sans" font-size="30" font-weight="normal" fill="#1e1e1e" text-anchor="middle"  stroke="#ffffff" stroke-width="0.96">F</text>
<line x1="337.9" y1="2875.0" x2="337.9" y2="2931.9" stroke="#1e1e1e" stroke-width="1.0" />
<line x1="337.9" y1="2971.2" x2="337.9" y2="3028.0" stroke="#1e1e1e" stroke-width="1.0" />
<line x1="337.9" y1="2931.9" x2="381.3" y2="2931.9" stroke="#1e1e1e" stroke-width="1.0" />
<line x1="337.9" y1="2971.2" x2="381.3" y2="2971.2" stroke="#1e1e1e" stroke-width="1.0" />
<path d="M337.9,2931.9 L334.3,2917.9 L341.5,2917.9 Z" fill="#1e1e1e" stroke="none" stroke-width="1.6" />
<path d="M337.9,2971.2 L341.5,2985.2 L334.3,2985.2 Z" fill="#1e1e1e" stroke="none" stroke-width="1.6" />
<text style="white-space:pre" transform="translate(327.0,2951.6) rotate(-90) scale(0.8200,1)" font-family="Liberation Sans" font-size="30" font-weight="normal" fill="#1e1e1e" text-anchor="middle"  stroke="#ffffff" stroke-width="0.96">B2</text>
<line x1="402.4" y1="2761.7" x2="402.4" y2="2951.6" stroke="#1e1e1e" stroke-width="1.0" />
<line x1="474.2" y1="2761.7" x2="474.2" y2="2951.6" stroke="#1e1e1e" stroke-width="1.0" />
<line x1="610.5" y1="2761.7" x2="610.5" y2="2857.9" stroke="#1e1e1e" stroke-width="1.0" />
<line x1="402.4" y1="2761.7" x2="474.2" y2="2761.7" stroke="#1e1e1e" stroke-width="1.2" />
<path d="M402.4,2761.7 L414.4,2758.5 L414.4,2764.9 Z" fill="#1e1e1e" stroke="none" stroke-width="1.6" />
<path d="M474.2,2761.7 L462.2,2764.9 L462.2,2758.5 Z" fill="#1e1e1e" stroke="none" stroke-width="1.6" />
<line x1="474.2" y1="2761.7" x2="610.5" y2="2761.7" stroke="#1e1e1e" stroke-width="1.2" />
<path d="M474.2,2761.7 L486.2,2758.5 L486.2,2764.9 Z" fill="#1e1e1e" stroke="none" stroke-width="1.6" />
<path d="M610.5,2761.7 L598.5,2764.9 L598.5,2758.5 Z" fill="#1e1e1e" stroke="none" stroke-width="1.6" />
<text style="white-space:pre" transform="translate(438.5,2752.0) scale(0.8200,1)" font-family="Liberation Sans" font-size="30" font-weight="normal" fill="#1e1e1e" text-anchor="middle"  stroke="#ffffff" stroke-width="0.96">D</text>
<text style="white-space:pre" transform="translate(542.8,2752.0) scale(0.8200,1)" font-family="Liberation Sans" font-size="30" font-weight="normal" fill="#1e1e1e" text-anchor="middle"  stroke="#ffffff" stroke-width="0.96">E3</text>
<line x1="596.3" y1="2805.2" x2="596.3" y2="2857.9" stroke="#1e1e1e" stroke-width="1.0" />
<line x1="626.0" y1="2805.2" x2="626.0" y2="2857.9" stroke="#1e1e1e" stroke-width="1.0" />
<line x1="539.0" y1="2805.2" x2="661.0" y2="2805.2" stroke="#1e1e1e" stroke-width="1.0" />
<path d="M596.3,2805.2 L582.3,2808.8 L582.3,2801.6 Z" fill="#1e1e1e" stroke="none" stroke-width="1.6" />
<path d="M626.0,2805.2 L640.0,2801.6 L640.0,2808.8 Z" fill="#1e1e1e" stroke="none" stroke-width="1.6" />
<text style="white-space:pre" transform="translate(654.8,2795.0) scale(0.8200,1)" font-family="Liberation Sans" font-size="30" font-weight="normal" fill="#1e1e1e" text-anchor="middle"  stroke="#ffffff" stroke-width="0.96">N</text>
<line x1="466.4" y1="2951.6" x2="466.4" y2="3024.7" stroke="#1e1e1e" stroke-width="1.0" />
<line x1="483.3" y1="2951.6" x2="483.3" y2="3024.7" stroke="#1e1e1e" stroke-width="1.0" />
<line x1="410.0" y1="3024.7" x2="524.5" y2="3024.7" stroke="#1e1e1e" stroke-width="1.0" />
<path d="M466.4,3024.7 L452.4,3028.3 L452.4,3021.1 Z" fill="#1e1e1e" stroke="none" stroke-width="1.6" />
<path d="M483.3,3024.7 L497.3,3021.1 L497.3,3028.3 Z" fill="#1e1e1e" stroke="none" stroke-width="1.6" />
<text style="white-space:pre" transform="translate(517.6,3013.0) scale(0.8200,1)" font-family="Liberation Sans" font-size="30" font-weight="normal" fill="#1e1e1e" text-anchor="middle"  stroke="#ffffff" stroke-width="0.96">M</text>
<line x1="581.6" y1="3071.6" x2="581.6" y2="3175.0" stroke="#1e1e1e" stroke-width="1.0" />
<line x1="610.5" y1="3045.3" x2="610.5" y2="3130.0" stroke="#1e1e1e" stroke-width="1.0" />
<line x1="528.0" y1="3130.0" x2="668.0" y2="3130.0" stroke="#1e1e1e" stroke-width="1.0" />
<path d="M581.6,3130.0 L567.6,3133.6 L567.6,3126.4 Z" fill="#1e1e1e" stroke="none" stroke-width="1.6" />
<path d="M610.5,3130.0 L624.5,3126.4 L624.5,3133.6 Z" fill="#1e1e1e" stroke="none" stroke-width="1.6" />
<text style="white-space:pre" transform="translate(541.4,3119.0) scale(0.8200,1)" font-family="Liberation Sans" font-size="30" font-weight="normal" fill="#1e1e1e" text-anchor="middle"  stroke="#ffffff" stroke-width="0.96">E2</text>
<line x1="789.8" y1="3071.6" x2="789.8" y2="3175.0" stroke="#1e1e1e" stroke-width="1.0" />
<line x1="581.6" y1="3173.4" x2="789.8" y2="3173.4" stroke="#1e1e1e" stroke-width="1.2" />
<path d="M581.6,3173.4 L593.6,3170.2 L593.6,3176.6 Z" fill="#1e1e1e" stroke="none" stroke-width="1.6" />
<path d="M789.8,3173.4 L777.8,3176.6 L777.8,3170.2 Z" fill="#1e1e1e" stroke="none" stroke-width="1.6" />
<text style="white-space:pre" transform="translate(685.5,3164.0) scale(0.8200,1)" font-family="Liberation Sans" font-size="30" font-weight="normal" fill="#1e1e1e" text-anchor="middle"  stroke="#ffffff" stroke-width="0.96">A</text>
<line x1="868.4" y1="3019.7" x2="868.4" y2="3241.0" stroke="#1e1e1e" stroke-width="1.0" />
<line x1="381.3" y1="3239.7" x2="868.4" y2="3239.7" stroke="#1e1e1e" stroke-width="1.2" />
<path d="M381.3,3239.7 L393.3,3236.5 L393.3,3242.9 Z" fill="#1e1e1e" stroke="none" stroke-width="1.6" />
<path d="M868.4,3239.7 L856.4,3242.9 L856.4,3236.5 Z" fill="#1e1e1e" stroke="none" stroke-width="1.6" />
<text style="white-space:pre" transform="translate(623.7,3230.0) scale(0.8200,1)" font-family="Liberation Sans" font-size="30" font-weight="normal" fill="#1e1e1e" text-anchor="middle"  stroke="#ffffff" stroke-width="0.96">L</text>
<g><path d="M2035.0,1108.0 L2103.0,1108.0 L2108.0,1380.0 L2062.0,1475.0 L2052.0,1475.0 Z" fill="#26282d" /><path d="M2077.0,1196.0 L2110.0,1194.0 L2216.0,1212.0 L2214.0,1264.0 L2198.0,1500.0 L2120.0,1540.0 L2048.8,1525.0 L2052.0,1453.0 L2074.0,1264.0 Z" fill="#d3d5d8" /><path d="M2077.0,1196.0 L2110.0,1194.0 L2216.0,1212.0 L2214.0,1264.0 L2074.0,1264.0 Z" fill="#b9bbbe" /><path d="M2074.0,1264.0 L2110.0,1266.0 L2098.0,1500.0 L2052.0,1453.0 Z" fill="#e4e6e8" /><path d="M2048.8,1482.7 L2092.7,1512.8 L2120.0,1514.0 L2120.0,1563.0 L2090.0,1556.6 L2048.8,1525.3 Z" fill="#b4b6b9" /><path d="M2195.0,1232.0 L2214.0,1236.0 L2205.0,1490.0 L2190.0,1495.0 Z" fill="#c4c6c9" /><path d="M2117,1103 L2183,1103 L2188.5,1561 Q2186,1574 2172,1576 L2140,1580 Q2124,1578 2122.7,1563 Z" fill="#32343a"/><path d="M2117.0,1103.0 L2123.0,1103.0 L2128.0,1570.0 L2122.7,1563.0 Z" fill="#3c3e45" /><circle cx="2161.6" cy="1545.4" r="12.5" fill="#55575c"/><circle cx="2161.6" cy="1545.4" r="4" fill="#1b1c20"/><path d="M1964.6,1054.0 L1985.0,1051.0 L2165.0,1056.0 L2193.5,1066.5 L2193.5,1092.0 L2038.0,1111.2 L1965.4,1078.0 Z" fill="#26282d" /><path d="M2018.0,1076.0 L2193.5,1066.5 L2193.5,1092.0 L2038.0,1111.2 L2030.0,1098.0 Z" fill="#1b1c20" /><path d="M1964.6,1054.0 L1985.0,1051.0 L2019.0,1072.0 L2166.0,1057.0 L2193.5,1066.5 L2018.0,1076.0 Z" fill="#3c3e45" /><path d="M2010.0,954.0 L2164.0,954.0 L2166.0,1057.0 L2019.0,1072.0 Z" fill="#1b1c20" /><path d="M2159.0,916.0 L2200.0,916.0 L2200.0,954.0 L2159.0,954.0 Z" fill="#26282d" /><path d="M2162.0,957.0 L2192.0,957.0 L2182.0,1057.0 L2168.0,1057.0 Z" fill="#9a9ca0" /><path d="M2170.0,965.0 L2180.0,965.0 L2176.0,1050.0 L2171.0,1050.0 Z" fill="#d8dadc" /><path d="M1976.4,818.0 L1990.0,801.0 L2020.0,800.0 L2038.0,810.0 L2040.0,1057.0 L1980.0,1057.0 Z" fill="#26282d" /><path d="M2000.0,812.0 L2030.0,808.0 L2040.0,900.0 L2005.0,900.0 Z" fill="#1b1c20" /><path d="M1840.3,910.7 L2009.8,892.7 L2011.0,969.8 L1855.7,987.8 Z" fill="#32343a" /><path d="M1840.3,910.7 L1855.7,912.0 L1855.7,987.8 L1842.0,985.0 Z" fill="#1b1c20" /><path d="M1840.3,910.7 L2009.8,892.7 L2012.0,897.0 L1850.0,915.0 Z" fill="#4a4c52" /><circle cx="2015" cy="934" r="10.5" fill="#3c3e45"/><path d="M2020,823 Q2022,810 2036,809 L2062,808 Q2080,812 2092,830 C2105,850 2130,862 2160,862 C2175,862 2185,848 2205,846 Q2230,846 2234,866 Q2237,885 2222,902 C2195,920 2160,935 2130,962 C2105,990 2090,1020 2080,1034 Q2070,1047 2058,1047 Q2038,1044 2034,1025 L2033,918 Q2024,870 2020,823 Z" fill="#32343a"/><path d="M2020,823 Q2022,810 2036,809 L2040,811 Q2034,815 2034,830 L2038,1040 Q2034,1036 2034,1025 L2033,918 Q2024,870 2020,823 Z" fill="#1b1c20"/><path d="M2092,830 C2105,850 2130,862 2160,862 C2175,862 2185,848 2205,846" fill="none" stroke="#4b4d54" stroke-width="2"/><circle cx="2059.9" cy="842.7" r="15" fill="#1b1c20"/><circle cx="2059.9" cy="842.7" r="11" fill="#3a3c42"/><circle cx="2059.9" cy="842.7" r="3.5" fill="#111"/><circle cx="2207.6" cy="878.6" r="15" fill="#1b1c20"/><circle cx="2207.6" cy="878.6" r="11" fill="#3a3c42"/><circle cx="2207.6" cy="878.6" r="3.5" fill="#111"/><circle cx="2065" cy="1014.8" r="15" fill="#1b1c20"/><circle cx="2065" cy="1014.8" r="11" fill="#3a3c42"/><circle cx="2065" cy="1014.8" r="3.5" fill="#111"/><circle cx="2125.4" cy="1067.4" r="8" fill="#3f4146"/><circle cx="2164" cy="1062.3" r="8" fill="#3f4146"/></g>
<g><path d="M1897.4,2843.5 L2185.0,2843.5 L2207.5,2862.3 L2207.5,2911.0 L2019.5,2922.4 L1897.4,2877.3 Z" fill="#26282d" /><path d="M2019.5,2870.0 L2207.5,2862.3 L2207.5,2911.0 L2019.5,2922.4 Z" fill="#1b1c20" /><path d="M1897.4,2843.5 L2185.0,2843.5 L2207.5,2862.3 L2019.5,2870.0 Z" fill="#3c3e45" /><path d="M1925.6,2700.6 L2166.2,2700.6 L2166.2,2850.0 L1925.6,2858.0 Z" fill="#1b1c20" /><path d="M2166.0,2670.5 L2204.0,2670.5 L2204.0,2708.0 L2166.0,2708.0 Z" fill="#26282d" /><path d="M1914.3,2520.0 L1930.0,2502.0 L1975.0,2501.4 L1995.0,2515.0 L1998.0,2847.0 L1925.0,2850.0 Z" fill="#26282d" /><path d="M1945.0,2515.0 L1985.0,2510.0 L1990.0,2660.0 L1950.0,2660.0 Z" fill="#1b1c20" /><path d="M1730.0,2649.8 L1974.4,2631.0 L1974.4,2730.7 L1733.8,2755.0 Z" fill="#32343a" /><path d="M1730.0,2649.8 L1752.0,2650.0 L1755.0,2754.0 L1733.8,2755.0 Z" fill="#1b1c20" /><path d="M1730.0,2649.8 L1974.4,2631.0 L1976.0,2637.0 L1745.0,2655.0 Z" fill="#4a4c52" /><circle cx="1967" cy="2681.8" r="13" fill="#3c3e45"/><path d="M1985.7,2520 Q1990,2512.6 2000.8,2512.6 L2050,2512.6 Q2068,2516 2078,2537 C2088,2560 2110,2568 2140,2564 L2215,2561.5 Q2245,2562 2258,2585 Q2266,2605 2252.6,2629.2 C2225,2650 2190,2672 2166,2689.3 C2140,2712 2115,2750 2090,2785 C2075,2805 2062,2822 2040,2834 Q2020,2840 2005,2832 Q1991,2824 1990,2805 L1985.7,2760.8 Z" fill="#32343a"/><path d="M1985.7,2520 Q1990,2512.6 2000.8,2512.6 L2004,2515 Q1998,2520 1998,2535 L2003,2832 Q1991,2824 1990,2805 L1985.7,2760.8 Z" fill="#1b1c20"/><path d="M2078,2537 C2088,2560 2110,2568 2140,2564 L2215,2561.5" fill="none" stroke="#4b4d54" stroke-width="2"/><circle cx="2027" cy="2557.7" r="20" fill="#1b1c20"/><circle cx="2027" cy="2557.7" r="15" fill="#3a3c42"/><circle cx="2027" cy="2557.7" r="4.5" fill="#111"/><circle cx="2224.4" cy="2604.7" r="19" fill="#1b1c20"/><circle cx="2224.4" cy="2604.7" r="14" fill="#3a3c42"/><circle cx="2224.4" cy="2604.7" r="4.5" fill="#111"/><circle cx="2030.8" cy="2790.8" r="20" fill="#1b1c20"/><circle cx="2030.8" cy="2790.8" r="15" fill="#3a3c42"/><circle cx="2030.8" cy="2790.8" r="4.5" fill="#111"/></g>
<g transform="translate(506.72,702.91) scale(0.2782,0.2805)"><path d="M1897.4,2843.5 L2185.0,2843.5 L2207.5,2862.3 L2207.5,2911.0 L2019.5,2922.4 L1897.4,2877.3 Z" fill="#26282d" /><path d="M2019.5,2870.0 L2207.5,2862.3 L2207.5,2911.0 L2019.5,2922.4 Z" fill="#1b1c20" /><path d="M1897.4,2843.5 L2185.0,2843.5 L2207.5,2862.3 L2019.5,2870.0 Z" fill="#3c3e45" /><path d="M1925.6,2700.6 L2166.2,2700.6 L2166.2,2850.0 L1925.6,2858.0 Z" fill="#1b1c20" /><path d="M2166.0,2670.5 L2204.0,2670.5 L2204.0,2708.0 L2166.0,2708.0 Z" fill="#26282d" /><path d="M1914.3,2520.0 L1930.0,2502.0 L1975.0,2501.4 L1995.0,2515.0 L1998.0,2847.0 L1925.0,2850.0 Z" fill="#26282d" /><path d="M1945.0,2515.0 L1985.0,2510.0 L1990.0,2660.0 L1950.0,2660.0 Z" fill="#1b1c20" /><path d="M1730.0,2649.8 L1974.4,2631.0 L1974.4,2730.7 L1733.8,2755.0 Z" fill="#32343a" /><path d="M1730.0,2649.8 L1752.0,2650.0 L1755.0,2754.0 L1733.8,2755.0 Z" fill="#1b1c20" /><path d="M1730.0,2649.8 L1974.4,2631.0 L1976.0,2637.0 L1745.0,2655.0 Z" fill="#4a4c52" /><circle cx="1967" cy="2681.8" r="13" fill="#3c3e45"/><path d="M1985.7,2520 Q1990,2512.6 2000.8,2512.6 L2050,2512.6 Q2068,2516 2078,2537 C2088,2560 2110,2568 2140,2564 L2215,2561.5 Q2245,2562 2258,2585 Q2266,2605 2252.6,2629.2 C2225,2650 2190,2672 2166,2689.3 C2140,2712 2115,2750 2090,2785 C2075,2805 2062,2822 2040,2834 Q2020,2840 2005,2832 Q1991,2824 1990,2805 L1985.7,2760.8 Z" fill="#32343a"/><path d="M1985.7,2520 Q1990,2512.6 2000.8,2512.6 L2004,2515 Q1998,2520 1998,2535 L2003,2832 Q1991,2824 1990,2805 L1985.7,2760.8 Z" fill="#1b1c20"/><path d="M2078,2537 C2088,2560 2110,2568 2140,2564 L2215,2561.5" fill="none" stroke="#4b4d54" stroke-width="2"/><circle cx="2027" cy="2557.7" r="20" fill="#1b1c20"/><circle cx="2027" cy="2557.7" r="15" fill="#3a3c42"/><circle cx="2027" cy="2557.7" r="4.5" fill="#111"/><circle cx="2224.4" cy="2604.7" r="19" fill="#1b1c20"/><circle cx="2224.4" cy="2604.7" r="14" fill="#3a3c42"/><circle cx="2224.4" cy="2604.7" r="4.5" fill="#111"/><circle cx="2030.8" cy="2790.8" r="20" fill="#1b1c20"/><circle cx="2030.8" cy="2790.8" r="15" fill="#3a3c42"/><circle cx="2030.8" cy="2790.8" r="4.5" fill="#111"/></g>
<g transform="translate(1354.32,2943.08) scale(0.1468,0.1518)"><path d="M2035.0,1108.0 L2103.0,1108.0 L2108.0,1380.0 L2062.0,1475.0 L2052.0,1475.0 Z" fill="#26282d" /><path d="M2077.0,1196.0 L2110.0,1194.0 L2216.0,1212.0 L2214.0,1264.0 L2198.0,1500.0 L2120.0,1540.0 L2048.8,1525.0 L2052.0,1453.0 L2074.0,1264.0 Z" fill="#d3d5d8" /><path d="M2077.0,1196.0 L2110.0,1194.0 L2216.0,1212.0 L2214.0,1264.0 L2074.0,1264.0 Z" fill="#b9bbbe" /><path d="M2074.0,1264.0 L2110.0,1266.0 L2098.0,1500.0 L2052.0,1453.0 Z" fill="#e4e6e8" /><path d="M2048.8,1482.7 L2092.7,1512.8 L2120.0,1514.0 L2120.0,1563.0 L2090.0,1556.6 L2048.8,1525.3 Z" fill="#b4b6b9" /><path d="M2195.0,1232.0 L2214.0,1236.0 L2205.0,1490.0 L2190.0,1495.0 Z" fill="#c4c6c9" /><path d="M2117,1103 L2183,1103 L2188.5,1561 Q2186,1574 2172,1576 L2140,1580 Q2124,1578 2122.7,1563 Z" fill="#32343a"/><path d="M2117.0,1103.0 L2123.0,1103.0 L2128.0,1570.0 L2122.7,1563.0 Z" fill="#3c3e45" /><circle cx="2161.6" cy="1545.4" r="12.5" fill="#55575c"/><circle cx="2161.6" cy="1545.4" r="4" fill="#1b1c20"/><path d="M1964.6,1054.0 L1985.0,1051.0 L2165.0,1056.0 L2193.5,1066.5 L2193.5,1092.0 L2038.0,1111.2 L1965.4,1078.0 Z" fill="#26282d" /><path d="M2018.0,1076.0 L2193.5,1066.5 L2193.5,1092.0 L2038.0,1111.2 L2030.0,1098.0 Z" fill="#1b1c20" /><path d="M1964.6,1054.0 L1985.0,1051.0 L2019.0,1072.0 L2166.0,1057.0 L2193.5,1066.5 L2018.0,1076.0 Z" fill="#3c3e45" /><path d="M2010.0,954.0 L2164.0,954.0 L2166.0,1057.0 L2019.0,1072.0 Z" fill="#1b1c20" /><path d="M2159.0,916.0 L2200.0,916.0 L2200.0,954.0 L2159.0,954.0 Z" fill="#26282d" /><path d="M2162.0,957.0 L2192.0,957.0 L2182.0,1057.0 L2168.0,1057.0 Z" fill="#9a9ca0" /><path d="M2170.0,965.0 L2180.0,965.0 L2176.0,1050.0 L2171.0,1050.0 Z" fill="#d8dadc" /><path d="M1976.4,818.0 L1990.0,801.0 L2020.0,800.0 L2038.0,810.0 L2040.0,1057.0 L1980.0,1057.0 Z" fill="#26282d" /><path d="M2000.0,812.0 L2030.0,808.0 L2040.0,900.0 L2005.0,900.0 Z" fill="#1b1c20" /><path d="M1840.3,910.7 L2009.8,892.7 L2011.0,969.8 L1855.7,987.8 Z" fill="#32343a" /><path d="M1840.3,910.7 L1855.7,912.0 L1855.7,987.8 L1842.0,985.0 Z" fill="#1b1c20" /><path d="M1840.3,910.7 L2009.8,892.7 L2012.0,897.0 L1850.0,915.0 Z" fill="#4a4c52" /><circle cx="2015" cy="934" r="10.5" fill="#3c3e45"/><path d="M2020,823 Q2022,810 2036,809 L2062,808 Q2080,812 2092,830 C2105,850 2130,862 2160,862 C2175,862 2185,848 2205,846 Q2230,846 2234,866 Q2237,885 2222,902 C2195,920 2160,935 2130,962 C2105,990 2090,1020 2080,1034 Q2070,1047 2058,1047 Q2038,1044 2034,1025 L2033,918 Q2024,870 2020,823 Z" fill="#32343a"/><path d="M2020,823 Q2022,810 2036,809 L2040,811 Q2034,815 2034,830 L2038,1040 Q2034,1036 2034,1025 L2033,918 Q2024,870 2020,823 Z" fill="#1b1c20"/><path d="M2092,830 C2105,850 2130,862 2160,862 C2175,862 2185,848 2205,846" fill="none" stroke="#4b4d54" stroke-width="2"/><circle cx="2059.9" cy="842.7" r="15" fill="#1b1c20"/><circle cx="2059.9" cy="842.7" r="11" fill="#3a3c42"/><circle cx="2059.9" cy="842.7" r="3.5" fill="#111"/><circle cx="2207.6" cy="878.6" r="15" fill="#1b1c20"/><circle cx="2207.6" cy="878.6" r="11" fill="#3a3c42"/><circle cx="2207.6" cy="878.6" r="3.5" fill="#111"/><circle cx="2065" cy="1014.8" r="15" fill="#1b1c20"/><circle cx="2065" cy="1014.8" r="11" fill="#3a3c42"/><circle cx="2065" cy="1014.8" r="3.5" fill="#111"/><circle cx="2125.4" cy="1067.4" r="8" fill="#3f4146"/><circle cx="2164" cy="1062.3" r="8" fill="#3f4146"/></g>
<path d="M1280.0,1432.0 L1304.0,1428.0 L1312.0,1452.0 L1312.0,1515.0 L1300.0,1520.0 L1282.0,1520.0 L1278.0,1500.0 Z" fill="#dfe1e3" />
<path d="M1280.0,1440.0 L1312.0,1440.0 L1312.0,1480.0 L1280.0,1480.0 Z" fill="#cfd1d3" />
<path d="M1248.0,1404.0 L1262.0,1403.0 L1282.0,1410.0 L1300.0,1414.0 L1310.0,1428.0 L1305.0,1445.0 L1292.0,1440.0 L1284.0,1420.0 L1270.0,1416.0 L1250.0,1416.0 Z" fill="#2a2b2f" />
<path d="M1313.0,1462.0 L1320.0,1462.0 L1320.0,1470.0 L1313.0,1470.0 Z" fill="#e07a20" />
<path d="M1233.7,3103.8 L1279.2,3105.8 L1285.4,3116.2 L1285.4,3174.0 L1275.0,3178.2 L1244.0,3176.0 L1235.8,3157.5 L1231.7,3120.3 Z" fill="#a9aeb5" />
<path d="M1236.0,3106.0 L1276.0,3108.0 L1281.0,3117.0 L1281.0,3172.0 L1273.0,3175.0 L1246.0,3173.0 L1239.0,3156.0 L1235.0,3121.0 Z" fill="#dfe2e6" />
<circle cx="1258.5" cy="3134.8" r="3.5" fill="#8d939b"/>
<circle cx="1244" cy="3163.7" r="3.5" fill="#8d939b"/>
<circle cx="1271" cy="3170" r="3.5" fill="#8d939b"/>
<path d="M1177.9,3101.7 L1223.4,3099.6 L1256.5,3107.9 L1252.3,3118.2 L1182.0,3118.2 Z" fill="#c3c8ce" />
<path d="M1180.0,3103.0 L1222.0,3101.0 L1250.0,3108.0 L1248.0,3112.0 L1181.0,3110.0 Z" fill="#e8ebee" />
<path d="M1217.0,3093.0 L1240.0,3090.0 L1262.0,3112.0 L1255.0,3122.0 L1235.0,3120.0 Z" fill="#cdd1d7" />
<circle cx="1240" cy="3106" r="3.2" fill="#7f858d"/><circle cx="1225" cy="3104" r="3" fill="#7f858d"/>
<path d="M1190.3,3072.7 L1198.6,3072.7 L1198.6,3103.8 L1190.3,3103.8 Z" fill="#b4b9c0" />
<path d="M1204.8,3076.9 L1219.3,3068.6 L1235.8,3068.6 L1237.9,3072.7 L1227.5,3083.0 L1225.5,3093.4 L1217.2,3093.4 L1213.0,3083.0 Z" fill="#f26a22" />
<path d="M1186.2,3126.5 L1204.8,3126.5 L1202.7,3138.9 L1190.3,3140.2 Z" fill="#f26a22" />
<path d="M1191.0,3118.0 L1200.0,3118.0 L1200.0,3126.5 L1191.0,3126.5 Z" fill="#b4b9c0" />
<path d="M1433.7,3112.7 L1526.0,3105.8 L1529.0,3116.5 L1442.0,3141.7 L1436.0,3130.0 Z" fill="#36343a" />
<path d="M1454.4,3090.7 L1470.0,3092.0 L1519.2,3100.3 L1523.3,3105.8 L1477.8,3115.5 L1457.2,3114.0 L1452.0,3100.0 Z" fill="#c6c9cd" />
<path d="M1470.0,3094.0 L1519.0,3101.0 L1519.0,3104.0 L1470.0,3100.0 Z" fill="#e9ebed" />
<path d="M1454.4,3090.7 L1462.0,3091.0 L1464.0,3114.0 L1457.2,3114.0 L1452.0,3100.0 Z" fill="#a7abb0" />
<path d="M1424.0,3096.2 L1454.4,3099.0 L1454.4,3104.5 L1424.0,3103.0 Z" fill="#b9bcc0" />
<path d="M1358.6,3117.6 L1403.4,3114.1 L1403.4,3132.7 L1361.4,3135.5 Z" fill="#2b2a2e" />
<path d="M1391.0,3090.7 L1404.8,3090.0 L1422.7,3095.5 L1422.7,3110.0 L1433.7,3115.5 L1439.2,3141.7 L1440.6,3155.5 L1403.4,3161.0 L1391.0,3158.2 Z" fill="#36343a" />
<path d="M1391.0,3140.3 L1440.6,3144.4 L1440.6,3155.5 L1403.4,3161.0 L1391.0,3158.2 Z" fill="#2b2a2e" />
<circle cx="1409" cy="3101.5" r="2.6" fill="#1d1c20"/>
<circle cx="1425" cy="3115" r="2.6" fill="#1d1c20"/>
<circle cx="1412" cy="3139" r="2.6" fill="#1d1c20"/>
<circle cx="1524" cy="3109" r="2.6" fill="#1d1c20"/>
<path d="M1170.15,778.20h54.20v7.74h-54.20zM1247.58,778.20h30.97v7.74h-30.97zM1294.04,778.20h38.72v7.74h-38.72zM1340.50,778.20h54.20v7.74h-54.20zM1170.15,785.94h7.74v7.74h-7.74zM1216.61,785.94h7.74v7.74h-7.74zM1232.09,785.94h7.74v7.74h-7.74zM1278.55,785.94h23.23v7.74h-23.23zM1309.52,785.94h15.49v7.74h-15.49zM1340.50,785.94h7.74v7.74h-7.74zM1386.95,785.94h7.74v7.74h-7.74zM1170.15,793.69h7.74v7.74h-7.74zM1185.64,793.69h23.23v7.74h-23.23zM1216.61,793.69h7.74v7.74h-7.74zM1239.84,793.69h7.74v7.74h-7.74zM1255.32,793.69h7.74v7.74h-7.74zM1270.81,793.69h15.49v7.74h-15.49zM1294.04,793.69h7.74v7.74h-7.74zM1317.27,793.69h15.49v7.74h-15.49zM1340.50,793.69h7.74v7.74h-7.74zM1355.98,793.69h23.23v7.74h-23.23zM1386.95,793.69h7.74v7.74h-7.74zM1170.15,801.43h7.74v7.74h-7.74zM1185.64,801.43h23.23v7.74h-23.23zM1216.61,801.43h7.74v7.74h-7.74zM1255.32,801.43h38.72v7.74h-38.72zM1309.52,801.43h23.23v7.74h-23.23zM1340.50,801.43h7.74v7.74h-7.74zM1355.98,801.43h23.23v7.74h-23.23zM1386.95,801.43h7.74v7.74h-7.74zM1170.15,809.17h7.74v7.74h-7.74zM1185.64,809.17h23.23v7.74h-23.23zM1216.61,809.17h7.74v7.74h-7.74zM1232.09,809.17h7.74v7.74h-7.74zM1255.32,809.17h15.49v7.74h-15.49zM1278.55,809.17h7.74v7.74h-7.74zM1317.27,809.17h7.74v7.74h-7.74zM1340.50,809.17h7.74v7.74h-7.74zM1355.98,809.17h23.23v7.74h-23.23zM1386.95,809.17h7.74v7.74h-7.74zM1170.15,816.92h7.74v7.74h-7.74zM1216.61,816.92h7.74v7.74h-7.74zM1239.84,816.92h7.74v7.74h-7.74zM1255.32,816.92h23.23v7.74h-23.23zM1301.78,816.92h23.23v7.74h-23.23zM1340.50,816.92h7.74v7.74h-7.74zM1386.95,816.92h7.74v7.74h-7.74zM1170.15,824.66h54.20v7.74h-54.20zM1232.09,824.66h7.74v7.74h-7.74zM1247.58,824.66h7.74v7.74h-7.74zM1263.07,824.66h7.74v7.74h-7.74zM1278.55,824.66h7.74v7.74h-7.74zM1294.04,824.66h7.74v7.74h-7.74zM1309.52,824.66h7.74v7.74h-7.74zM1325.01,824.66h7.74v7.74h-7.74zM1340.50,824.66h54.20v7.74h-54.20zM1239.84,832.40h7.74v7.74h-7.74zM1255.32,832.40h7.74v7.74h-7.74zM1270.81,832.40h15.49v7.74h-15.49zM1294.04,832.40h38.72v7.74h-38.72zM1170.15,840.14h7.74v7.74h-7.74zM1185.64,840.14h7.74v7.74h-7.74zM1201.12,840.14h7.74v7.74h-7.74zM1216.61,840.14h7.74v7.74h-7.74zM1247.58,840.14h7.74v7.74h-7.74zM1278.55,840.14h30.97v7.74h-30.97zM1355.98,840.14h7.74v7.74h-7.74zM1379.21,840.14h7.74v7.74h-7.74zM1170.15,847.89h15.49v7.74h-15.49zM1193.38,847.89h15.49v7.74h-15.49zM1232.09,847.89h7.74v7.74h-7.74zM1247.58,847.89h7.74v7.74h-7.74zM1263.07,847.89h7.74v7.74h-7.74zM1278.55,847.89h15.49v7.74h-15.49zM1301.78,847.89h15.49v7.74h-15.49zM1325.01,847.89h23.23v7.74h-23.23zM1363.73,847.89h7.74v7.74h-7.74zM1386.95,847.89h7.74v7.74h-7.74zM1170.15,855.63h30.97v7.74h-30.97zM1216.61,855.63h30.97v7.74h-30.97zM1255.32,855.63h23.23v7.74h-23.23zM1294.04,855.63h23.23v7.74h-23.23zM1325.01,855.63h15.49v7.74h-15.49zM1348.24,855.63h15.49v7.74h-15.49zM1371.47,855.63h23.23v7.74h-23.23zM1170.15,863.37h15.49v7.74h-15.49zM1193.38,863.37h7.74v7.74h-7.74zM1208.87,863.37h7.74v7.74h-7.74zM1224.35,863.37h7.74v7.74h-7.74zM1263.07,863.37h7.74v7.74h-7.74zM1301.78,863.37h7.74v7.74h-7.74zM1325.01,863.37h7.74v7.74h-7.74zM1348.24,863.37h7.74v7.74h-7.74zM1379.21,863.37h7.74v7.74h-7.74zM1177.89,871.12h15.49v7.74h-15.49zM1201.12,871.12h23.23v7.74h-23.23zM1232.09,871.12h7.74v7.74h-7.74zM1255.32,871.12h15.49v7.74h-15.49zM1301.78,871.12h7.74v7.74h-7.74zM1317.27,871.12h30.97v7.74h-30.97zM1363.73,871.12h7.74v7.74h-7.74zM1379.21,871.12h15.49v7.74h-15.49zM1177.89,878.86h7.74v7.74h-7.74zM1193.38,878.86h23.23v7.74h-23.23zM1224.35,878.86h7.74v7.74h-7.74zM1263.07,878.86h15.49v7.74h-15.49zM1301.78,878.86h15.49v7.74h-15.49zM1332.75,878.86h15.49v7.74h-15.49zM1363.73,878.86h7.74v7.74h-7.74zM1386.95,878.86h7.74v7.74h-7.74zM1170.15,886.60h7.74v7.74h-7.74zM1201.12,886.60h7.74v7.74h-7.74zM1216.61,886.60h15.49v7.74h-15.49zM1239.84,886.60h7.74v7.74h-7.74zM1255.32,886.60h15.49v7.74h-15.49zM1278.55,886.60h7.74v7.74h-7.74zM1294.04,886.60h7.74v7.74h-7.74zM1332.75,886.60h23.23v7.74h-23.23zM1363.73,886.60h7.74v7.74h-7.74zM1379.21,886.60h15.49v7.74h-15.49zM1201.12,894.35h7.74v7.74h-7.74zM1224.35,894.35h7.74v7.74h-7.74zM1247.58,894.35h15.49v7.74h-15.49zM1270.81,894.35h23.23v7.74h-23.23zM1301.78,894.35h30.97v7.74h-30.97zM1348.24,894.35h23.23v7.74h-23.23zM1379.21,894.35h7.74v7.74h-7.74zM1170.15,902.09h7.74v7.74h-7.74zM1185.64,902.09h15.49v7.74h-15.49zM1208.87,902.09h15.49v7.74h-15.49zM1255.32,902.09h15.49v7.74h-15.49zM1278.55,902.09h15.49v7.74h-15.49zM1301.78,902.09h7.74v7.74h-7.74zM1317.27,902.09h30.97v7.74h-30.97zM1363.73,902.09h7.74v7.74h-7.74zM1379.21,902.09h15.49v7.74h-15.49zM1177.89,909.83h7.74v7.74h-7.74zM1193.38,909.83h23.23v7.74h-23.23zM1247.58,909.83h7.74v7.74h-7.74zM1278.55,909.83h7.74v7.74h-7.74zM1325.01,909.83h7.74v7.74h-7.74zM1340.50,909.83h7.74v7.74h-7.74zM1363.73,909.83h15.49v7.74h-15.49zM1386.95,909.83h7.74v7.74h-7.74zM1170.15,917.57h7.74v7.74h-7.74zM1185.64,917.57h46.46v7.74h-46.46zM1239.84,917.57h38.72v7.74h-38.72zM1294.04,917.57h15.49v7.74h-15.49zM1332.75,917.57h30.97v7.74h-30.97zM1379.21,917.57h15.49v7.74h-15.49zM1177.89,925.32h7.74v7.74h-7.74zM1193.38,925.32h7.74v7.74h-7.74zM1224.35,925.32h7.74v7.74h-7.74zM1239.84,925.32h15.49v7.74h-15.49zM1263.07,925.32h7.74v7.74h-7.74zM1294.04,925.32h15.49v7.74h-15.49zM1325.01,925.32h15.49v7.74h-15.49zM1363.73,925.32h7.74v7.74h-7.74zM1379.21,925.32h7.74v7.74h-7.74zM1170.15,933.06h7.74v7.74h-7.74zM1185.64,933.06h7.74v7.74h-7.74zM1201.12,933.06h30.97v7.74h-30.97zM1247.58,933.06h15.49v7.74h-15.49zM1301.78,933.06h7.74v7.74h-7.74zM1317.27,933.06h46.46v7.74h-46.46zM1232.09,940.80h15.49v7.74h-15.49zM1263.07,940.80h15.49v7.74h-15.49zM1317.27,940.80h15.49v7.74h-15.49zM1355.98,940.80h7.74v7.74h-7.74zM1371.47,940.80h23.23v7.74h-23.23zM1170.15,948.55h54.20v7.74h-54.20zM1239.84,948.55h7.74v7.74h-7.74zM1263.07,948.55h7.74v7.74h-7.74zM1278.55,948.55h7.74v7.74h-7.74zM1317.27,948.55h15.49v7.74h-15.49zM1340.50,948.55h7.74v7.74h-7.74zM1355.98,948.55h15.49v7.74h-15.49zM1379.21,948.55h15.49v7.74h-15.49zM1170.15,956.29h7.74v7.74h-7.74zM1216.61,956.29h7.74v7.74h-7.74zM1239.84,956.29h7.74v7.74h-7.74zM1255.32,956.29h30.97v7.74h-30.97zM1294.04,956.29h15.49v7.74h-15.49zM1325.01,956.29h7.74v7.74h-7.74zM1355.98,956.29h15.49v7.74h-15.49zM1379.21,956.29h15.49v7.74h-15.49zM1170.15,964.03h7.74v7.74h-7.74zM1185.64,964.03h23.23v7.74h-23.23zM1216.61,964.03h7.74v7.74h-7.74zM1232.09,964.03h15.49v7.74h-15.49zM1255.32,964.03h15.49v7.74h-15.49zM1278.55,964.03h30.97v7.74h-30.97zM1325.01,964.03h38.72v7.74h-38.72zM1386.95,964.03h7.74v7.74h-7.74zM1170.15,971.78h7.74v7.74h-7.74zM1185.64,971.78h23.23v7.74h-23.23zM1216.61,971.78h7.74v7.74h-7.74zM1239.84,971.78h7.74v7.74h-7.74zM1255.32,971.78h7.74v7.74h-7.74zM1278.55,971.78h7.74v7.74h-7.74zM1301.78,971.78h7.74v7.74h-7.74zM1325.01,971.78h15.49v7.74h-15.49zM1355.98,971.78h7.74v7.74h-7.74zM1371.47,971.78h23.23v7.74h-23.23zM1170.15,979.52h7.74v7.74h-7.74zM1185.64,979.52h23.23v7.74h-23.23zM1216.61,979.52h7.74v7.74h-7.74zM1232.09,979.52h15.49v7.74h-15.49zM1255.32,979.52h15.49v7.74h-15.49zM1294.04,979.52h7.74v7.74h-7.74zM1325.01,979.52h7.74v7.74h-7.74zM1348.24,979.52h23.23v7.74h-23.23zM1386.95,979.52h7.74v7.74h-7.74zM1170.15,987.26h7.74v7.74h-7.74zM1216.61,987.26h7.74v7.74h-7.74zM1247.58,987.26h7.74v7.74h-7.74zM1278.55,987.26h7.74v7.74h-7.74zM1301.78,987.26h30.97v7.74h-30.97zM1340.50,987.26h7.74v7.74h-7.74zM1355.98,987.26h7.74v7.74h-7.74zM1379.21,987.26h7.74v7.74h-7.74zM1170.15,995.00h54.20v7.74h-54.20zM1232.09,995.00h15.49v7.74h-15.49zM1255.32,995.00h15.49v7.74h-15.49zM1278.55,995.00h7.74v7.74h-7.74zM1301.78,995.00h7.74v7.74h-7.74zM1317.27,995.00h15.49v7.74h-15.49zM1379.21,995.00h15.49v7.74h-15.49z" fill="#000"/>
<path d="M1354.10,2335.10h54.22v7.75h-54.22zM1431.55,2335.10h15.49v7.75h-15.49zM1454.78,2335.10h15.49v7.75h-15.49zM1478.02,2335.10h38.73v7.75h-38.73zM1524.49,2335.10h54.22v7.75h-54.22zM1354.10,2342.84h7.75v7.75h-7.75zM1400.57,2342.84h7.75v7.75h-7.75zM1416.06,2342.84h23.23v7.75h-23.23zM1462.53,2342.84h15.49v7.75h-15.49zM1493.51,2342.84h15.49v7.75h-15.49zM1524.49,2342.84h7.75v7.75h-7.75zM1570.96,2342.84h7.75v7.75h-7.75zM1354.10,2350.59h7.75v7.75h-7.75zM1369.59,2350.59h23.23v7.75h-23.23zM1400.57,2350.59h7.75v7.75h-7.75zM1423.80,2350.59h15.49v7.75h-15.49zM1454.78,2350.59h15.49v7.75h-15.49zM1501.25,2350.59h15.49v7.75h-15.49zM1524.49,2350.59h7.75v7.75h-7.75zM1539.98,2350.59h23.23v7.75h-23.23zM1570.96,2350.59h7.75v7.75h-7.75zM1354.10,2358.34h7.75v7.75h-7.75zM1369.59,2358.34h23.23v7.75h-23.23zM1400.57,2358.34h7.75v7.75h-7.75zM1439.29,2358.34h7.75v7.75h-7.75zM1454.78,2358.34h15.49v7.75h-15.49zM1493.51,2358.34h23.23v7.75h-23.23zM1524.49,2358.34h7.75v7.75h-7.75zM1539.98,2358.34h23.23v7.75h-23.23zM1570.96,2358.34h7.75v7.75h-7.75zM1354.10,2366.08h7.75v7.75h-7.75zM1369.59,2366.08h23.23v7.75h-23.23zM1400.57,2366.08h7.75v7.75h-7.75zM1416.06,2366.08h30.98v7.75h-30.98zM1462.53,2366.08h23.23v7.75h-23.23zM1501.25,2366.08h7.75v7.75h-7.75zM1524.49,2366.08h7.75v7.75h-7.75zM1539.98,2366.08h23.23v7.75h-23.23zM1570.96,2366.08h7.75v7.75h-7.75zM1354.10,2373.82h7.75v7.75h-7.75zM1400.57,2373.82h7.75v7.75h-7.75zM1423.80,2373.82h15.49v7.75h-15.49zM1447.04,2373.82h15.49v7.75h-15.49zM1470.27,2373.82h38.73v7.75h-38.73zM1524.49,2373.82h7.75v7.75h-7.75zM1570.96,2373.82h7.75v7.75h-7.75zM1354.10,2381.57h54.22v7.75h-54.22zM1416.06,2381.57h7.75v7.75h-7.75zM1431.55,2381.57h7.75v7.75h-7.75zM1447.04,2381.57h7.75v7.75h-7.75zM1462.53,2381.57h7.75v7.75h-7.75zM1478.02,2381.57h7.75v7.75h-7.75zM1493.51,2381.57h7.75v7.75h-7.75zM1509.00,2381.57h7.75v7.75h-7.75zM1524.49,2381.57h54.22v7.75h-54.22zM1439.29,2389.32h7.75v7.75h-7.75zM1454.78,2389.32h61.96v7.75h-61.96zM1354.10,2397.06h7.75v7.75h-7.75zM1369.59,2397.06h7.75v7.75h-7.75zM1385.08,2397.06h7.75v7.75h-7.75zM1400.57,2397.06h7.75v7.75h-7.75zM1423.80,2397.06h30.98v7.75h-30.98zM1462.53,2397.06h15.49v7.75h-15.49zM1485.76,2397.06h7.75v7.75h-7.75zM1539.98,2397.06h7.75v7.75h-7.75zM1563.21,2397.06h7.75v7.75h-7.75zM1354.10,2404.80h7.75v7.75h-7.75zM1369.59,2404.80h15.49v7.75h-15.49zM1392.82,2404.80h7.75v7.75h-7.75zM1408.31,2404.80h7.75v7.75h-7.75zM1423.80,2404.80h23.23v7.75h-23.23zM1462.53,2404.80h38.73v7.75h-38.73zM1509.00,2404.80h23.23v7.75h-23.23zM1547.72,2404.80h7.75v7.75h-7.75zM1570.96,2404.80h7.75v7.75h-7.75zM1354.10,2412.55h15.49v7.75h-15.49zM1377.33,2412.55h7.75v7.75h-7.75zM1400.57,2412.55h7.75v7.75h-7.75zM1423.80,2412.55h7.75v7.75h-7.75zM1439.29,2412.55h23.23v7.75h-23.23zM1485.76,2412.55h15.49v7.75h-15.49zM1509.00,2412.55h15.49v7.75h-15.49zM1532.23,2412.55h15.49v7.75h-15.49zM1555.47,2412.55h23.23v7.75h-23.23zM1369.59,2420.30h30.98v7.75h-30.98zM1408.31,2420.30h7.75v7.75h-7.75zM1431.55,2420.30h7.75v7.75h-7.75zM1470.27,2420.30h23.23v7.75h-23.23zM1509.00,2420.30h7.75v7.75h-7.75zM1532.23,2420.30h7.75v7.75h-7.75zM1563.21,2420.30h7.75v7.75h-7.75zM1354.10,2428.04h15.49v7.75h-15.49zM1400.57,2428.04h7.75v7.75h-7.75zM1439.29,2428.04h7.75v7.75h-7.75zM1470.27,2428.04h23.23v7.75h-23.23zM1501.25,2428.04h30.98v7.75h-30.98zM1547.72,2428.04h7.75v7.75h-7.75zM1563.21,2428.04h15.49v7.75h-15.49zM1361.84,2435.78h7.75v7.75h-7.75zM1385.08,2435.78h7.75v7.75h-7.75zM1416.06,2435.78h23.23v7.75h-23.23zM1454.78,2435.78h7.75v7.75h-7.75zM1485.76,2435.78h15.49v7.75h-15.49zM1516.74,2435.78h15.49v7.75h-15.49zM1547.72,2435.78h7.75v7.75h-7.75zM1570.96,2435.78h7.75v7.75h-7.75zM1377.33,2443.53h7.75v7.75h-7.75zM1392.82,2443.53h15.49v7.75h-15.49zM1416.06,2443.53h7.75v7.75h-7.75zM1439.29,2443.53h15.49v7.75h-15.49zM1462.53,2443.53h7.75v7.75h-7.75zM1516.74,2443.53h23.23v7.75h-23.23zM1547.72,2443.53h7.75v7.75h-7.75zM1563.21,2443.53h15.49v7.75h-15.49zM1354.10,2451.28h7.75v7.75h-7.75zM1369.59,2451.28h7.75v7.75h-7.75zM1385.08,2451.28h7.75v7.75h-7.75zM1423.80,2451.28h15.49v7.75h-15.49zM1447.04,2451.28h69.70v7.75h-69.70zM1532.23,2451.28h23.23v7.75h-23.23zM1563.21,2451.28h7.75v7.75h-7.75zM1354.10,2459.02h7.75v7.75h-7.75zM1377.33,2459.02h7.75v7.75h-7.75zM1392.82,2459.02h15.49v7.75h-15.49zM1416.06,2459.02h7.75v7.75h-7.75zM1439.29,2459.02h7.75v7.75h-7.75zM1462.53,2459.02h7.75v7.75h-7.75zM1485.76,2459.02h7.75v7.75h-7.75zM1501.25,2459.02h30.98v7.75h-30.98zM1547.72,2459.02h7.75v7.75h-7.75zM1563.21,2459.02h15.49v7.75h-15.49zM1361.84,2466.76h7.75v7.75h-7.75zM1392.82,2466.76h7.75v7.75h-7.75zM1439.29,2466.76h15.49v7.75h-15.49zM1462.53,2466.76h15.49v7.75h-15.49zM1509.00,2466.76h7.75v7.75h-7.75zM1524.49,2466.76h7.75v7.75h-7.75zM1547.72,2466.76h15.49v7.75h-15.49zM1570.96,2466.76h7.75v7.75h-7.75zM1354.10,2474.51h7.75v7.75h-7.75zM1369.59,2474.51h23.23v7.75h-23.23zM1400.57,2474.51h61.96v7.75h-61.96zM1470.27,2474.51h7.75v7.75h-7.75zM1485.76,2474.51h7.75v7.75h-7.75zM1516.74,2474.51h30.98v7.75h-30.98zM1563.21,2474.51h15.49v7.75h-15.49zM1361.84,2482.26h15.49v7.75h-15.49zM1385.08,2482.26h15.49v7.75h-15.49zM1408.31,2482.26h23.23v7.75h-23.23zM1478.02,2482.26h15.49v7.75h-15.49zM1509.00,2482.26h15.49v7.75h-15.49zM1547.72,2482.26h7.75v7.75h-7.75zM1563.21,2482.26h7.75v7.75h-7.75zM1354.10,2490.00h7.75v7.75h-7.75zM1385.08,2490.00h7.75v7.75h-7.75zM1400.57,2490.00h30.98v7.75h-30.98zM1439.29,2490.00h15.49v7.75h-15.49zM1485.76,2490.00h7.75v7.75h-7.75zM1501.25,2490.00h46.47v7.75h-46.47zM1416.06,2497.74h46.47v7.75h-46.47zM1501.25,2497.74h15.49v7.75h-15.49zM1539.98,2497.74h7.75v7.75h-7.75zM1555.47,2497.74h23.23v7.75h-23.23zM1354.10,2505.49h54.22v7.75h-54.22zM1431.55,2505.49h15.49v7.75h-15.49zM1462.53,2505.49h7.75v7.75h-7.75zM1478.02,2505.49h7.75v7.75h-7.75zM1501.25,2505.49h15.49v7.75h-15.49zM1524.49,2505.49h7.75v7.75h-7.75zM1539.98,2505.49h15.49v7.75h-15.49zM1563.21,2505.49h15.49v7.75h-15.49zM1354.10,2513.23h7.75v7.75h-7.75zM1400.57,2513.23h7.75v7.75h-7.75zM1423.80,2513.23h15.49v7.75h-15.49zM1454.78,2513.23h23.23v7.75h-23.23zM1485.76,2513.23h7.75v7.75h-7.75zM1509.00,2513.23h7.75v7.75h-7.75zM1539.98,2513.23h15.49v7.75h-15.49zM1563.21,2513.23h15.49v7.75h-15.49zM1354.10,2520.98h7.75v7.75h-7.75zM1369.59,2520.98h23.23v7.75h-23.23zM1400.57,2520.98h7.75v7.75h-7.75zM1416.06,2520.98h38.73v7.75h-38.73zM1462.53,2520.98h7.75v7.75h-7.75zM1478.02,2520.98h15.49v7.75h-15.49zM1509.00,2520.98h38.73v7.75h-38.73zM1563.21,2520.98h7.75v7.75h-7.75zM1354.10,2528.72h7.75v7.75h-7.75zM1369.59,2528.72h23.23v7.75h-23.23zM1400.57,2528.72h7.75v7.75h-7.75zM1423.80,2528.72h7.75v7.75h-7.75zM1439.29,2528.72h7.75v7.75h-7.75zM1454.78,2528.72h15.49v7.75h-15.49zM1485.76,2528.72h7.75v7.75h-7.75zM1509.00,2528.72h15.49v7.75h-15.49zM1539.98,2528.72h7.75v7.75h-7.75zM1555.47,2528.72h7.75v7.75h-7.75zM1354.10,2536.47h7.75v7.75h-7.75zM1369.59,2536.47h23.23v7.75h-23.23zM1400.57,2536.47h7.75v7.75h-7.75zM1416.06,2536.47h23.23v7.75h-23.23zM1447.04,2536.47h7.75v7.75h-7.75zM1478.02,2536.47h7.75v7.75h-7.75zM1509.00,2536.47h7.75v7.75h-7.75zM1532.23,2536.47h23.23v7.75h-23.23zM1570.96,2536.47h7.75v7.75h-7.75zM1354.10,2544.22h7.75v7.75h-7.75zM1400.57,2544.22h7.75v7.75h-7.75zM1423.80,2544.22h7.75v7.75h-7.75zM1439.29,2544.22h30.98v7.75h-30.98zM1485.76,2544.22h30.98v7.75h-30.98zM1524.49,2544.22h7.75v7.75h-7.75zM1539.98,2544.22h7.75v7.75h-7.75zM1563.21,2544.22h7.75v7.75h-7.75zM1354.10,2551.96h54.22v7.75h-54.22zM1416.06,2551.96h23.23v7.75h-23.23zM1454.78,2551.96h15.49v7.75h-15.49zM1485.76,2551.96h7.75v7.75h-7.75zM1501.25,2551.96h15.49v7.75h-15.49zM1563.21,2551.96h15.49v7.75h-15.49z" fill="#000"/>
</svg>
</body></html>
